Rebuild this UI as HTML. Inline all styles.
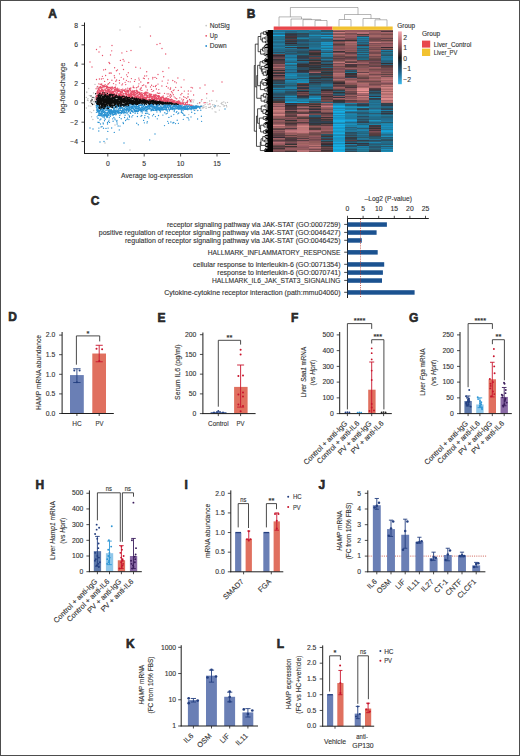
<!DOCTYPE html>
<html><head><meta charset="utf-8"><style>
html,body{margin:0;padding:0;background:#fff;overflow:hidden;}
svg{display:block;}
text{font-family:"Liberation Sans",sans-serif;fill:#333333;stroke:#333333;stroke-width:0.12px;}
</style></head><body>
<svg width="520" height="756" viewBox="0 0 520 756">
<rect x="0" y="0" width="520" height="756" fill="#fff"/>
<path d="M86.3 108.0h0M86.3 97.4h0M86.8 92.5h0M86.7 91.9h0M87.4 100.3h0M87.8 99.1h0M88.0 98.6h0M88.1 100.6h0M88.7 88.5h0M88.8 105.9h0M89.3 95.6h0M90.2 102.5h0M90.1 111.8h0M90.9 106.1h0M91.0 101.1h0M91.5 98.8h0M91.4 102.6h0M91.6 116.7h0M91.6 112.6h0M92.1 100.6h0M92.1 97.3h0M92.9 119.5h0M93.5 93.0h0M93.1 101.9h0M93.8 101.4h0M93.7 110.5h0M94.3 104.0h0M94.5 97.7h0M94.6 99.9h0M95.0 84.4h0M95.2 102.6h0M95.9 96.2h0M95.9 97.7h0M96.5 96.0h0M96.3 99.8h0M97.2 106.0h0M97.1 100.1h0M97.6 88.3h0M97.6 99.7h0M98.3 87.6h0M98.4 98.5h0M98.8 102.2h0M99.0 102.8h0M99.1 106.2h0M99.1 101.5h0M99.6 92.5h0M166.0 104.0h0M166.1 102.8h0M166.8 103.6h0M167.1 98.2h0M167.7 103.7h0M168.4 104.2h0M168.6 100.4h0M169.4 104.0h0M170.0 100.2h0M170.2 96.8h0M170.7 101.9h0M171.3 100.8h0M171.6 101.7h0M174.3 101.5h0M174.9 102.8h0M175.3 104.5h0M175.7 100.9h0M176.3 108.2h0M176.5 104.1h0M178.2 101.2h0M178.9 101.9h0M179.1 107.7h0M179.7 104.4h0M180.2 106.2h0M180.9 101.1h0M181.1 109.1h0M181.9 107.2h0M183.1 108.8h0M183.9 102.7h0M184.5 102.5h0M184.6 107.0h0M185.8 106.4h0M186.5 107.9h0M187.0 106.9h0M187.4 100.5h0M188.0 107.1h0M188.1 96.7h0M188.8 114.6h0M190.1 101.8h0M190.8 108.2h0M191.5 101.9h0M191.9 107.8h0M192.9 106.3h0M193.3 101.9h0M193.9 99.9h0M195.3 108.2h0M195.7 109.9h0M196.2 105.7h0M196.5 105.8h0M197.5 103.5h0M198.1 107.3h0M199.4 102.9h0M199.8 107.5h0M200.3 107.9h0M200.7 105.9h0M201.3 101.0h0M201.6 106.2h0M202.1 107.8h0M203.0 108.1h0M203.2 107.1h0M203.8 105.6h0M204.2 107.1h0M205.1 104.3h0M206.0 106.7h0M206.1 108.4h0M206.6 98.1h0M207.0 102.7h0M208.1 104.5h0M208.5 107.4h0M209.3 107.3h0M209.6 101.0h0M210.3 107.3h0M210.8 106.5h0M211.8 100.5h0M212.2 108.7h0M212.7 104.7h0M213.7 106.6h0M214.2 104.8h0M214.7 107.5h0M215.0 111.8h0M215.7 105.7h0M216.0 112.1h0M216.7 101.0h0M217.9 106.1h0M218.2 105.7h0M219.3 110.1h0M220.0 106.6h0M221.2 103.4h0M222.0 104.3h0M222.1 102.5h0M223.2 104.8h0M223.8 101.9h0M224.0 106.2h0M224.8 105.6h0M225.5 103.0h0M226.4 105.5h0M226.8 106.8h0M227.5 102.4h0M120.0 30.0h0M140.0 27.0h0M115.0 125.0h0M130.0 150.0h0M105.0 143.0h0" stroke="#bdbdbd" stroke-width="1.35" stroke-linecap="round"/><path d="M96.1 98.1h0M96.1 96.5h0M96.1 101.0h0M96.0 99.0h0M96.1 88.7h0M97.0 95.1h0M96.9 93.4h0M96.9 96.7h0M96.7 95.4h0M96.5 79.5h0M97.4 96.4h0M97.2 91.5h0M97.0 97.8h0M97.0 92.4h0M97.3 93.6h0M97.0 87.1h0M97.6 92.5h0M98.0 91.0h0M97.8 90.4h0M97.7 91.9h0M97.8 86.3h0M98.1 93.7h0M98.4 94.0h0M98.2 89.9h0M98.1 94.9h0M98.5 92.4h0M98.1 91.4h0M98.3 88.9h0M98.8 92.5h0M98.6 95.5h0M98.9 95.1h0M99.0 87.9h0M98.5 95.9h0M98.7 88.3h0M98.8 83.8h0M99.1 89.8h0M99.0 93.1h0M99.1 95.7h0M99.3 88.1h0M99.5 92.1h0M99.4 79.0h0M99.3 89.3h0M99.9 87.0h0M99.6 94.3h0M99.9 87.6h0M99.7 90.5h0M99.8 94.0h0M99.8 91.1h0M99.6 87.3h0M100.0 46.8h0M100.4 95.1h0M100.5 90.6h0M100.5 86.5h0M100.4 92.0h0M100.2 93.3h0M100.5 92.4h0M100.2 84.2h0M100.7 87.8h0M101.0 88.5h0M100.7 94.1h0M101.0 93.3h0M100.8 87.6h0M101.1 90.6h0M101.0 87.9h0M101.4 87.4h0M101.4 93.3h0M101.2 94.9h0M101.4 79.0h0M101.4 84.7h0M101.5 89.7h0M101.7 94.4h0M102.0 94.9h0M101.8 91.5h0M101.9 89.1h0M101.7 84.0h0M102.4 93.0h0M102.3 93.4h0M102.1 87.1h0M102.0 90.3h0M102.5 85.3h0M102.4 76.3h0M103.0 86.3h0M102.9 89.1h0M102.9 91.7h0M102.9 93.7h0M103.0 90.2h0M102.8 87.2h0M102.5 55.5h0M103.3 86.7h0M103.3 86.2h0M103.3 93.2h0M103.5 94.9h0M103.3 91.6h0M103.1 78.6h0M103.8 86.5h0M103.9 90.6h0M103.6 93.7h0M103.8 92.9h0M103.6 90.8h0M103.6 69.9h0M104.1 94.4h0M104.2 94.0h0M104.3 85.6h0M104.1 87.1h0M104.0 92.3h0M104.0 85.4h0M104.6 86.6h0M104.8 89.2h0M104.9 86.2h0M104.8 93.9h0M104.7 95.1h0M104.5 92.3h0M104.6 81.4h0M105.1 94.7h0M105.3 94.0h0M105.2 90.8h0M105.3 89.7h0M105.5 69.5h0M105.2 84.6h0M105.8 95.8h0M106.0 86.5h0M105.8 94.9h0M105.8 92.2h0M106.0 92.4h0M105.6 75.5h0M106.3 90.9h0M106.1 90.2h0M106.4 86.7h0M106.2 86.0h0M106.4 87.9h0M106.0 94.6h0M106.2 88.4h0M107.0 91.1h0M106.9 94.4h0M106.9 93.3h0M107.0 95.2h0M107.0 92.2h0M106.7 94.3h0M106.8 85.9h0M107.4 87.6h0M107.4 94.1h0M107.3 92.1h0M107.1 87.7h0M107.3 95.6h0M107.4 86.4h0M107.8 92.1h0M107.7 86.9h0M107.6 89.6h0M107.6 90.9h0M107.8 87.9h0M107.9 84.2h0M107.7 79.5h0M108.2 95.2h0M108.0 89.2h0M108.3 95.0h0M108.4 90.5h0M108.4 94.2h0M108.4 89.4h0M108.7 87.4h0M108.8 92.0h0M109.0 87.7h0M108.8 91.2h0M108.9 93.8h0M108.7 83.6h0M109.3 96.0h0M109.5 91.4h0M109.0 90.5h0M109.4 87.3h0M109.2 89.5h0M109.0 62.5h0M109.2 73.1h0M109.6 90.0h0M109.9 94.3h0M109.9 96.0h0M109.9 93.2h0M109.8 92.7h0M109.7 63.5h0M109.6 82.6h0M110.4 95.3h0M110.3 88.4h0M110.4 91.7h0M110.3 91.8h0M110.4 87.7h0M110.1 73.0h0M111.0 87.1h0M110.9 87.7h0M110.8 92.3h0M110.8 90.3h0M111.0 91.0h0M110.5 54.9h0M110.9 88.8h0M111.3 89.3h0M111.4 96.1h0M111.1 94.7h0M111.5 93.1h0M111.2 93.5h0M111.5 88.0h0M111.4 73.1h0M112.0 92.1h0M112.0 89.7h0M111.6 92.3h0M111.8 94.0h0M111.7 50.8h0M111.9 80.2h0M112.1 91.6h0M112.1 87.8h0M112.3 96.1h0M112.3 93.9h0M112.5 92.5h0M112.2 92.3h0M112.3 87.0h0M112.8 96.7h0M112.9 94.0h0M113.0 91.4h0M112.8 88.0h0M113.0 96.0h0M112.8 88.3h0M113.1 94.9h0M113.1 91.8h0M113.5 92.3h0M113.2 91.2h0M113.5 83.6h0M113.5 92.9h0M113.7 96.4h0M113.9 88.0h0M113.8 92.8h0M114.0 94.4h0M114.1 91.6h0M114.5 93.7h0M114.5 95.5h0M114.3 96.6h0M114.4 89.5h0M114.3 93.8h0M114.3 75.7h0M114.4 87.6h0M114.6 95.1h0M114.5 96.2h0M114.9 89.9h0M114.5 90.9h0M114.9 89.6h0M114.7 77.7h0M114.6 67.7h0M115.1 95.8h0M115.3 91.3h0M115.2 94.6h0M115.3 94.9h0M115.1 95.2h0M115.3 86.9h0M115.7 92.8h0M115.8 89.3h0M115.5 88.0h0M115.7 96.1h0M115.9 84.8h0M115.8 81.2h0M116.1 89.8h0M116.1 90.9h0M116.5 93.1h0M116.1 95.4h0M116.3 88.8h0M116.1 96.8h0M116.4 70.7h0M116.9 97.1h0M116.5 94.2h0M117.0 92.1h0M116.6 97.0h0M116.6 95.1h0M116.6 80.0h0M117.4 88.1h0M117.5 91.7h0M117.2 96.3h0M117.1 92.6h0M117.0 90.4h0M117.2 89.0h0M117.5 69.9h0M117.5 96.7h0M117.9 93.6h0M117.8 91.5h0M117.7 89.7h0M117.8 96.6h0M117.6 97.2h0M117.8 90.7h0M118.2 97.1h0M118.3 96.9h0M118.3 94.0h0M118.2 95.2h0M118.4 91.3h0M118.9 88.9h0M118.8 95.6h0M118.6 95.0h0M118.9 91.0h0M118.9 91.5h0M118.6 90.4h0M119.0 89.6h0M119.4 95.6h0M119.4 95.9h0M119.2 94.8h0M119.1 96.1h0M119.1 94.1h0M119.4 80.4h0M119.5 90.3h0M119.5 96.6h0M120.0 96.5h0M119.7 95.2h0M119.8 93.8h0M119.9 95.5h0M119.5 73.8h0M119.5 83.0h0M120.3 94.0h0M120.2 91.5h0M120.1 92.9h0M120.2 97.4h0M120.0 94.8h0M120.4 60.4h0M120.5 93.5h0M120.6 95.5h0M121.0 94.4h0M120.9 92.7h0M120.6 97.2h0M120.7 91.4h0M121.4 97.4h0M121.3 92.6h0M121.0 89.7h0M121.2 93.9h0M121.1 93.1h0M121.2 77.3h0M121.5 95.4h0M121.6 97.2h0M121.9 91.6h0M121.9 96.0h0M121.6 89.9h0M121.9 52.9h0M121.9 84.9h0M122.2 91.0h0M122.2 96.4h0M122.3 92.1h0M122.0 97.1h0M122.1 94.8h0M122.3 65.2h0M122.7 89.1h0M122.8 95.9h0M122.7 97.3h0M122.6 94.8h0M122.7 93.0h0M122.7 91.0h0M122.6 83.8h0M123.3 95.7h0M123.5 90.1h0M123.5 90.3h0M123.4 96.1h0M123.3 97.4h0M123.1 59.5h0M123.6 96.3h0M123.5 97.0h0M123.7 94.1h0M124.0 95.2h0M123.9 95.7h0M123.6 93.7h0M123.5 69.5h0M123.6 79.0h0M124.2 96.7h0M124.3 96.0h0M124.3 97.5h0M124.4 90.8h0M124.4 90.3h0M124.1 61.1h0M124.9 89.7h0M125.0 90.6h0M124.8 96.1h0M124.8 97.7h0M124.8 89.9h0M124.8 97.1h0M124.7 91.5h0M125.1 96.7h0M125.0 98.0h0M125.4 91.4h0M125.1 93.5h0M125.5 93.2h0M125.1 82.3h0M125.9 94.9h0M125.8 93.9h0M125.8 93.3h0M125.8 92.7h0M125.6 93.8h0M125.7 97.4h0M125.8 88.8h0M125.7 84.6h0M126.0 97.7h0M126.4 93.5h0M126.4 94.9h0M126.3 93.9h0M126.4 80.3h0M126.5 91.0h0M126.7 93.1h0M126.6 96.2h0M126.7 96.7h0M126.8 95.1h0M126.8 96.4h0M126.6 74.8h0M126.8 51.3h0M127.3 90.7h0M127.1 94.7h0M127.2 90.6h0M127.2 97.0h0M127.1 91.7h0M127.1 89.8h0M128.0 91.7h0M127.9 95.0h0M127.7 94.6h0M127.8 97.6h0M127.8 90.7h0M127.7 88.1h0M127.5 76.6h0M128.1 92.2h0M128.4 94.5h0M128.3 93.7h0M128.0 97.2h0M128.3 97.2h0M128.2 93.8h0M128.2 81.6h0M128.3 72.7h0M128.5 95.8h0M128.7 96.5h0M128.6 90.5h0M129.0 91.0h0M128.6 92.1h0M128.9 98.4h0M128.8 62.3h0M129.2 95.0h0M129.3 96.0h0M129.1 97.6h0M129.0 97.8h0M129.4 94.5h0M129.5 95.6h0M129.4 89.4h0M129.4 88.4h0M129.8 97.0h0M130.0 95.6h0M130.0 96.4h0M129.8 94.5h0M129.9 88.8h0M130.5 90.9h0M130.3 90.3h0M130.3 92.8h0M130.1 95.1h0M130.2 93.6h0M130.2 81.8h0M130.9 95.8h0M130.7 98.6h0M130.8 96.8h0M130.9 92.9h0M130.8 94.9h0M130.8 98.2h0M130.8 88.0h0M130.6 89.1h0M131.3 92.4h0M131.0 93.8h0M131.4 96.1h0M131.4 95.7h0M131.4 78.6h0M131.4 91.6h0M132.0 94.0h0M131.9 94.6h0M131.6 92.8h0M131.7 93.6h0M131.6 97.4h0M131.9 96.2h0M131.9 93.1h0M132.5 91.5h0M132.2 92.6h0M132.3 97.0h0M132.1 98.1h0M132.3 98.3h0M132.5 96.1h0M132.2 90.3h0M133.0 96.9h0M132.9 98.6h0M132.6 98.2h0M132.8 94.4h0M132.8 92.4h0M133.3 94.9h0M133.1 98.1h0M133.3 98.8h0M133.4 92.0h0M133.1 92.2h0M133.3 86.1h0M133.1 87.3h0M133.6 93.5h0M133.9 95.4h0M134.0 94.5h0M133.8 93.4h0M133.8 91.7h0M134.0 87.7h0M133.6 91.0h0M134.4 95.5h0M134.3 93.5h0M134.5 92.0h0M134.5 98.5h0M134.3 97.1h0M134.1 93.2h0M134.5 81.4h0M134.3 93.1h0M134.6 98.2h0M134.9 95.8h0M134.8 94.9h0M134.6 98.8h0M134.6 90.7h0M135.1 98.6h0M135.3 96.0h0M135.5 94.2h0M135.2 96.9h0M135.4 97.8h0M135.1 96.6h0M135.2 79.6h0M135.6 96.8h0M135.6 92.4h0M136.0 97.6h0M136.0 90.6h0M135.8 67.2h0M136.0 97.1h0M136.0 96.5h0M136.4 91.6h0M136.0 95.8h0M136.4 97.5h0M136.2 93.1h0M136.4 87.7h0M136.7 94.0h0M136.9 96.2h0M136.9 98.8h0M136.8 91.8h0M136.6 90.1h0M137.4 97.9h0M137.2 97.3h0M137.1 96.4h0M137.0 93.6h0M137.4 95.4h0M137.3 90.8h0M138.0 94.8h0M137.6 99.4h0M137.7 98.8h0M137.7 92.4h0M137.6 93.4h0M137.9 91.6h0M137.8 87.1h0M138.1 96.1h0M138.1 99.0h0M138.5 92.1h0M138.1 92.4h0M138.4 98.2h0M138.5 86.1h0M138.6 97.5h0M138.9 94.7h0M139.0 94.8h0M138.6 98.9h0M138.9 96.8h0M138.8 78.1h0M138.9 83.8h0M139.2 93.2h0M139.0 92.6h0M139.5 94.2h0M139.3 97.5h0M139.2 80.0h0M139.8 93.4h0M139.6 98.4h0M140.0 97.9h0M139.9 97.0h0M139.8 92.2h0M140.0 89.1h0M140.3 98.6h0M140.2 96.1h0M140.2 96.3h0M140.3 94.8h0M140.2 99.4h0M140.4 89.8h0M140.4 68.1h0M141.0 96.0h0M140.9 93.4h0M140.8 95.4h0M140.6 97.9h0M141.0 88.4h0M140.8 82.0h0M141.3 95.2h0M141.2 94.2h0M141.3 96.9h0M141.4 98.5h0M141.4 92.9h0M141.1 92.9h0M141.2 87.3h0M142.0 99.0h0M141.8 96.8h0M142.0 98.3h0M141.8 99.4h0M141.9 90.4h0M142.3 99.1h0M142.4 94.6h0M142.1 92.9h0M142.3 96.8h0M142.5 97.4h0M142.2 94.6h0M142.4 85.6h0M142.6 98.3h0M142.5 96.4h0M142.5 95.5h0M142.8 95.8h0M143.0 97.4h0M143.0 99.6h0M143.4 95.8h0M143.3 97.3h0M143.3 93.3h0M143.4 78.1h0M143.6 97.1h0M143.7 99.6h0M143.8 99.8h0M144.0 99.5h0M143.6 98.0h0M143.7 85.0h0M144.2 98.4h0M144.4 99.9h0M144.4 94.2h0M144.4 93.0h0M144.4 78.6h0M144.6 97.5h0M144.7 95.7h0M144.7 94.6h0M144.9 94.3h0M144.8 99.0h0M144.7 76.0h0M145.0 93.1h0M145.3 98.7h0M145.0 97.9h0M145.3 99.4h0M145.4 93.2h0M145.3 92.2h0M145.7 94.9h0M145.8 99.5h0M145.9 97.2h0M145.9 100.1h0M145.8 86.0h0M146.2 97.7h0M146.4 97.9h0M146.5 93.9h0M146.3 94.3h0M146.5 99.6h0M146.0 92.2h0M146.1 87.1h0M146.6 98.8h0M146.9 96.1h0M146.8 95.4h0M146.7 95.4h0M146.9 93.7h0M146.7 75.8h0M146.7 71.7h0M147.1 96.7h0M147.2 97.5h0M147.1 97.2h0M147.5 95.3h0M147.5 96.2h0M147.3 90.0h0M147.0 92.2h0M148.0 97.3h0M147.7 96.7h0M147.8 96.2h0M147.8 97.2h0M147.9 95.7h0M147.8 82.7h0M147.6 83.1h0M148.3 97.6h0M148.1 100.2h0M148.3 99.8h0M148.1 99.5h0M148.4 99.6h0M148.1 93.0h0M148.9 99.7h0M148.8 100.2h0M148.8 94.9h0M148.5 100.3h0M148.6 82.7h0M148.5 78.8h0M149.5 93.8h0M149.4 96.4h0M149.4 98.9h0M149.3 96.9h0M149.3 94.6h0M149.8 93.9h0M149.6 96.1h0M149.9 94.3h0M149.6 97.4h0M150.5 95.1h0M150.0 97.2h0M150.1 100.4h0M150.2 95.2h0M150.5 86.9h0M150.9 94.2h0M150.7 96.1h0M151.0 100.5h0M150.5 100.2h0M151.0 97.0h0M150.6 96.3h0M151.4 95.9h0M151.1 99.9h0M151.3 100.3h0M151.3 98.6h0M151.3 99.7h0M151.5 89.4h0M151.7 94.3h0M151.8 97.3h0M151.7 96.9h0M151.6 85.2h0M152.1 99.2h0M152.5 100.3h0M152.2 98.2h0M152.5 100.0h0M152.1 96.3h0M152.2 91.3h0M152.7 96.3h0M152.7 99.3h0M152.7 97.8h0M152.6 98.6h0M152.9 77.4h0M152.7 78.8h0M153.2 98.8h0M153.3 96.8h0M153.0 96.8h0M153.4 86.3h0M153.5 94.8h0M154.0 100.7h0M154.0 97.3h0M153.8 99.9h0M153.6 90.7h0M153.6 95.6h0M154.1 99.5h0M154.4 96.0h0M154.3 98.1h0M154.2 96.3h0M154.2 95.1h0M154.8 94.9h0M154.8 97.0h0M155.0 99.6h0M154.5 98.9h0M154.7 95.2h0M155.3 97.2h0M155.3 96.7h0M155.1 96.3h0M155.3 98.4h0M155.0 77.4h0M155.4 86.5h0M155.7 95.9h0M155.8 100.4h0M155.9 94.4h0M156.3 100.2h0M156.3 100.4h0M156.1 98.7h0M156.3 95.4h0M156.4 89.0h0M156.1 85.4h0M156.5 97.4h0M156.6 99.6h0M156.6 97.2h0M156.5 98.1h0M156.6 78.3h0M157.4 100.9h0M157.5 98.5h0M157.2 98.9h0M157.5 96.0h0M157.4 92.9h0M157.6 96.3h0M158.0 99.2h0M157.9 95.6h0M158.0 84.1h0M158.2 98.5h0M158.3 101.1h0M158.4 97.7h0M158.3 95.7h0M158.5 93.4h0M158.0 74.5h0M158.5 98.0h0M158.5 97.2h0M158.9 98.8h0M158.9 95.8h0M158.8 89.6h0M159.3 98.0h0M159.2 96.4h0M159.3 95.9h0M159.8 99.5h0M159.5 99.9h0M159.5 96.4h0M159.8 93.2h0M160.2 101.4h0M160.1 100.1h0M160.2 101.1h0M160.5 101.1h0M160.4 97.5h0M160.6 100.4h0M160.9 99.6h0M160.7 97.8h0M160.6 98.5h0M161.4 98.2h0M161.1 98.7h0M161.1 99.0h0M161.3 101.6h0M161.7 100.2h0M161.7 98.7h0M161.6 97.3h0M161.9 86.0h0M161.8 96.8h0M162.0 99.8h0M162.2 97.7h0M162.0 101.2h0M162.2 100.4h0M162.0 97.9h0M162.2 81.1h0M162.9 101.5h0M162.6 100.8h0M162.7 101.6h0M162.7 97.1h0M162.9 96.6h0M162.9 71.5h0M163.2 97.3h0M163.4 97.6h0M163.5 99.6h0M163.0 97.1h0M163.2 95.8h0M163.6 98.6h0M163.7 97.9h0M163.9 101.1h0M163.7 100.3h0M163.7 76.7h0M164.4 100.0h0M164.4 99.0h0M164.5 93.3h0M164.9 98.5h0M164.6 98.6h0M164.8 101.0h0M164.9 99.3h0M165.5 100.7h0M165.1 101.5h0M165.3 99.2h0M165.7 101.4h0M165.9 99.3h0M165.6 99.9h0M165.7 54.0h0M166.3 100.6h0M166.4 102.2h0M166.0 98.6h0M166.1 97.7h0M166.5 86.4h0M166.7 98.8h0M167.0 98.4h0M166.8 101.3h0M167.2 100.1h0M167.3 100.6h0M167.1 99.3h0M167.1 93.9h0M167.5 101.5h0M167.8 100.7h0M167.5 99.3h0M167.9 96.3h0M167.6 83.1h0M168.1 101.0h0M168.1 98.9h0M168.5 99.8h0M168.2 87.9h0M168.1 80.1h0M168.8 98.7h0M168.8 101.8h0M168.8 101.5h0M168.8 67.9h0M168.8 93.9h0M169.2 102.3h0M169.1 99.6h0M169.7 100.1h0M169.8 99.6h0M169.7 101.8h0M169.8 95.8h0M170.5 99.9h0M170.3 99.4h0M170.3 102.2h0M170.2 89.2h0M170.4 97.3h0M170.9 102.8h0M170.9 100.1h0M170.8 100.3h0M170.6 87.9h0M170.6 94.5h0M171.1 101.3h0M171.3 102.9h0M171.5 96.0h0M171.5 91.7h0M171.8 99.8h0M171.6 101.4h0M171.7 102.1h0M171.6 99.2h0M172.0 102.7h0M172.4 102.8h0M172.3 102.2h0M172.5 92.9h0M172.7 100.0h0M172.8 101.2h0M173.0 102.5h0M172.8 80.5h0M173.4 101.2h0M173.1 100.7h0M173.1 102.2h0M173.3 94.7h0M173.2 90.6h0M173.7 102.6h0M173.9 100.7h0M173.8 100.9h0M174.2 102.1h0M174.2 101.4h0M174.1 102.8h0M174.1 89.8h0M174.1 96.8h0M174.9 100.9h0M174.7 100.8h0M174.8 81.7h0M175.0 102.8h0M175.5 102.4h0M175.3 98.0h0M176.0 103.5h0M175.7 103.1h0M175.7 87.3h0M176.5 102.2h0M176.1 102.2h0M176.4 82.8h0M176.9 101.3h0M176.7 102.7h0M176.7 98.7h0M177.4 102.0h0M177.4 101.5h0M177.6 103.4h0M177.7 103.0h0M177.9 78.0h0M178.3 102.2h0M178.2 103.8h0M178.3 90.4h0M178.2 102.1h0M178.6 103.5h0M178.8 102.6h0M178.6 100.8h0M179.5 103.4h0M179.5 103.2h0M179.4 101.2h0M179.7 102.5h0M179.8 97.8h0M180.3 104.3h0M180.5 102.7h0M180.1 102.5h0M180.6 103.7h0M180.8 102.8h0M180.9 94.7h0M181.5 102.9h0M181.1 87.1h0M181.2 87.3h0M181.9 104.4h0M181.8 99.1h0M181.9 93.4h0M182.0 103.6h0M182.4 103.3h0M182.4 103.1h0M182.7 101.0h0M183.4 103.5h0M183.4 103.9h0M183.1 102.4h0M183.5 99.7h0M183.8 104.2h0M183.7 96.7h0M184.0 79.8h0M184.3 91.1h0M184.5 104.9h0M185.4 104.6h0M185.1 97.6h0M185.8 104.4h0M185.5 103.3h0M186.0 104.1h0M186.1 102.4h0M186.9 104.9h0M186.6 98.3h0M187.2 102.0h0M187.4 102.7h0M187.8 104.3h0M187.8 101.0h0M187.9 97.0h0M188.2 94.0h0M188.3 91.0h0M189.0 105.0h0M189.4 104.7h0M189.9 104.8h0M189.5 99.5h0M190.3 105.2h0M190.4 100.5h0M190.7 101.5h0M190.9 91.1h0M191.4 105.1h0M191.1 87.3h0M191.7 105.3h0M191.8 99.9h0M192.1 105.4h0M192.5 87.9h0M193.6 95.0h0M199.8 102.7h0M201.9 99.6h0M204.0 102.8h0M205.2 102.6h0M206.8 93.7h0M209.9 103.9h0M96.5 49.5h0M99.0 52.0h0M112.0 45.5h0M150.5 36.0h0M157.0 44.5h0M160.0 43.5h0M162.0 48.5h0M131.0 50.5h0M90.0 62.0h0M92.0 67.0h0M205.0 85.0h0M200.0 88.0h0M213.0 91.0h0M222.0 82.0h0" stroke="#e8506a" stroke-width="1.35" stroke-linecap="round"/><path d="M96.4 103.7h0M96.3 106.9h0M96.3 105.5h0M96.0 102.2h0M96.5 101.2h0M96.4 112.3h0M96.7 108.0h0M96.8 105.5h0M96.8 107.4h0M96.6 110.0h0M97.0 111.9h0M97.1 110.5h0M97.2 109.2h0M97.3 109.2h0M97.5 110.4h0M97.1 116.8h0M97.7 111.2h0M97.9 104.9h0M97.9 105.3h0M97.7 106.4h0M97.6 111.3h0M97.8 106.2h0M98.0 122.2h0M98.0 118.2h0M98.2 108.6h0M98.1 111.1h0M98.1 112.0h0M98.1 110.2h0M98.3 107.4h0M98.2 109.6h0M98.1 115.4h0M98.8 110.4h0M98.9 105.8h0M98.6 114.0h0M98.6 110.2h0M98.8 107.8h0M98.9 128.1h0M98.8 131.0h0M99.0 113.9h0M99.1 115.3h0M99.1 111.3h0M99.3 111.5h0M99.5 106.7h0M99.3 110.8h0M99.2 112.4h0M99.1 122.5h0M99.5 115.5h0M99.6 107.0h0M99.8 111.3h0M99.8 107.6h0M99.8 113.7h0M99.7 113.3h0M99.9 119.9h0M100.2 111.0h0M100.4 113.1h0M100.1 113.1h0M100.4 115.0h0M100.0 110.1h0M100.5 124.0h0M100.6 115.4h0M100.7 107.5h0M101.0 113.5h0M100.6 107.0h0M100.6 109.1h0M100.9 109.8h0M100.6 113.6h0M100.9 119.0h0M101.5 112.0h0M101.4 108.1h0M101.3 109.6h0M101.1 113.1h0M101.2 116.1h0M101.0 110.8h0M101.1 126.9h0M101.7 107.0h0M102.0 115.1h0M101.8 115.9h0M101.5 114.2h0M101.7 111.3h0M101.6 114.6h0M101.8 111.8h0M102.3 111.7h0M102.2 109.6h0M102.2 108.9h0M102.1 113.7h0M102.1 113.2h0M102.1 126.6h0M102.6 110.1h0M102.5 111.0h0M102.9 116.6h0M102.7 111.8h0M102.5 113.7h0M102.9 107.2h0M103.4 110.1h0M103.1 108.0h0M103.1 115.2h0M103.3 110.4h0M103.4 109.3h0M103.0 117.3h0M103.4 112.4h0M103.1 123.0h0M103.3 123.9h0M103.9 114.5h0M103.5 115.4h0M103.7 111.7h0M104.0 109.6h0M103.7 107.2h0M104.0 115.2h0M103.5 128.2h0M104.1 109.1h0M104.5 111.5h0M104.1 111.1h0M104.2 116.6h0M104.4 115.1h0M104.4 117.9h0M104.7 108.7h0M104.6 112.2h0M104.6 114.0h0M104.7 107.9h0M104.9 113.3h0M104.9 113.0h0M104.5 120.7h0M105.2 115.9h0M105.3 114.4h0M105.5 114.1h0M105.1 115.4h0M105.4 110.1h0M105.2 119.2h0M105.6 107.0h0M106.0 114.4h0M105.7 108.1h0M105.8 106.7h0M105.7 112.1h0M105.9 110.3h0M105.6 115.4h0M106.0 128.4h0M106.0 112.3h0M106.5 109.1h0M106.3 106.3h0M106.4 115.0h0M106.7 116.1h0M106.7 108.7h0M106.6 116.4h0M106.7 113.3h0M106.9 113.1h0M106.8 115.3h0M106.9 117.5h0M107.4 115.1h0M107.5 112.4h0M107.1 114.6h0M107.1 110.6h0M107.2 106.7h0M107.1 107.8h0M107.5 124.0h0M107.5 117.0h0M107.7 107.0h0M107.7 109.6h0M107.6 115.8h0M107.8 113.6h0M107.7 109.2h0M107.9 107.9h0M107.8 131.4h0M107.5 122.5h0M108.4 115.6h0M108.2 106.3h0M108.3 112.0h0M108.4 107.6h0M108.3 109.7h0M108.1 128.1h0M108.7 110.2h0M108.5 111.1h0M108.5 114.6h0M108.8 111.9h0M108.6 110.6h0M108.5 121.3h0M109.0 120.1h0M109.2 113.7h0M109.2 111.0h0M109.2 107.5h0M109.4 107.5h0M109.3 113.0h0M109.5 122.4h0M109.2 117.7h0M109.6 113.6h0M109.9 109.5h0M109.8 106.3h0M109.8 112.0h0M109.6 109.8h0M109.9 115.3h0M110.2 110.9h0M110.5 113.3h0M110.3 111.3h0M110.1 109.8h0M110.1 115.1h0M110.3 115.1h0M110.3 116.4h0M110.9 106.1h0M110.8 112.9h0M110.9 111.9h0M110.5 113.9h0M110.9 106.6h0M111.4 109.6h0M111.1 110.0h0M111.4 111.9h0M111.4 110.9h0M111.2 105.7h0M111.6 110.7h0M112.0 114.7h0M111.9 105.9h0M111.5 110.1h0M111.6 107.6h0M111.6 113.0h0M111.7 128.0h0M112.2 112.0h0M112.2 106.7h0M112.3 110.7h0M112.1 114.8h0M112.0 110.4h0M112.1 113.4h0M113.0 113.0h0M112.6 111.8h0M112.5 112.7h0M112.9 113.8h0M113.0 111.4h0M112.7 118.8h0M113.2 106.9h0M113.4 112.2h0M113.3 111.1h0M113.5 114.3h0M113.3 108.3h0M113.1 115.2h0M113.1 121.2h0M113.7 110.6h0M113.9 109.7h0M113.9 108.3h0M113.7 112.3h0M113.7 109.3h0M113.7 110.1h0M113.9 117.5h0M114.3 111.0h0M114.1 114.4h0M114.2 112.8h0M114.5 112.3h0M114.3 108.4h0M114.2 110.7h0M114.3 132.4h0M114.7 110.1h0M114.9 109.8h0M114.8 110.9h0M114.6 114.2h0M114.8 107.8h0M115.0 107.0h0M114.9 118.8h0M115.2 113.0h0M115.2 110.3h0M115.4 113.3h0M115.3 111.3h0M115.3 111.8h0M115.2 119.8h0M115.7 107.2h0M115.8 113.4h0M115.7 107.6h0M115.7 110.6h0M115.8 110.8h0M115.6 105.2h0M115.9 114.7h0M116.3 113.9h0M116.2 111.9h0M116.2 105.8h0M116.3 109.1h0M116.0 105.7h0M116.8 107.0h0M116.8 110.7h0M116.8 105.5h0M116.7 107.3h0M116.7 121.1h0M117.0 120.3h0M117.2 107.9h0M117.1 111.6h0M117.1 112.8h0M117.0 104.8h0M117.0 122.1h0M117.1 124.0h0M117.8 106.5h0M117.7 112.6h0M117.9 111.9h0M117.8 110.5h0M117.8 112.9h0M118.1 109.8h0M118.4 106.6h0M118.1 111.4h0M118.3 109.5h0M118.5 105.6h0M118.1 126.0h0M118.7 112.5h0M118.7 111.1h0M118.6 108.8h0M118.8 113.6h0M118.9 106.5h0M118.8 110.7h0M119.1 108.4h0M119.3 112.2h0M119.2 105.0h0M119.2 105.3h0M119.5 117.3h0M119.3 129.9h0M119.5 112.8h0M119.9 107.8h0M119.8 110.6h0M119.8 109.1h0M119.7 107.2h0M119.8 107.7h0M119.8 115.4h0M120.2 105.2h0M120.2 108.7h0M120.3 106.5h0M120.2 112.4h0M120.1 106.9h0M120.4 104.9h0M120.0 126.1h0M120.7 110.1h0M120.6 110.3h0M120.8 104.9h0M120.7 108.3h0M120.6 105.4h0M120.7 113.8h0M121.0 112.6h0M121.4 107.3h0M121.4 112.6h0M121.0 107.7h0M121.4 111.3h0M121.5 105.5h0M121.2 118.7h0M121.8 111.7h0M121.8 107.7h0M121.7 110.9h0M121.6 113.2h0M122.4 110.5h0M122.2 110.5h0M122.0 108.2h0M122.0 110.9h0M122.5 111.0h0M122.7 104.8h0M122.6 112.6h0M122.8 109.5h0M122.8 107.5h0M122.7 105.5h0M123.3 111.2h0M123.4 104.5h0M123.4 105.4h0M123.2 111.9h0M123.0 109.1h0M123.0 111.1h0M123.1 122.3h0M123.4 123.5h0M123.9 110.9h0M124.0 106.4h0M124.0 112.6h0M123.5 109.8h0M124.0 108.4h0M123.9 113.5h0M124.1 104.5h0M124.4 105.6h0M124.2 110.2h0M124.3 106.0h0M124.1 106.2h0M124.3 110.2h0M124.9 111.8h0M124.7 112.0h0M124.5 108.9h0M124.8 111.6h0M124.6 108.6h0M124.6 117.5h0M125.3 112.1h0M125.3 112.7h0M125.3 107.3h0M125.1 107.7h0M125.1 115.2h0M125.9 106.5h0M125.6 105.5h0M125.5 106.6h0M125.6 109.5h0M125.8 110.4h0M125.6 120.5h0M126.5 108.7h0M126.1 109.1h0M126.2 109.3h0M126.4 106.3h0M126.6 107.8h0M126.7 110.8h0M126.6 110.6h0M126.6 111.9h0M126.8 108.4h0M127.0 119.4h0M127.3 109.2h0M127.3 106.9h0M127.4 109.8h0M127.2 112.7h0M127.1 109.2h0M127.0 113.6h0M127.8 108.9h0M127.9 106.1h0M127.8 107.0h0M127.8 108.5h0M127.6 118.1h0M128.5 111.8h0M128.4 111.5h0M128.3 110.5h0M128.1 110.3h0M128.3 109.9h0M128.2 114.8h0M128.9 111.4h0M128.8 106.3h0M128.7 105.4h0M128.9 109.0h0M128.8 107.3h0M128.6 105.9h0M128.9 119.6h0M129.5 106.9h0M129.1 110.3h0M129.2 108.1h0M129.2 106.1h0M129.4 116.0h0M129.5 117.0h0M129.8 108.9h0M129.5 110.2h0M129.6 104.9h0M129.6 107.3h0M129.8 104.6h0M130.4 107.1h0M130.0 108.0h0M130.0 105.0h0M130.4 112.1h0M130.5 109.2h0M130.2 113.0h0M130.9 106.3h0M130.9 109.7h0M130.6 109.9h0M130.6 113.4h0M131.1 104.2h0M131.5 107.3h0M131.1 104.6h0M131.4 110.5h0M131.0 106.9h0M131.5 111.3h0M131.9 110.6h0M131.5 110.8h0M131.7 107.0h0M131.9 107.1h0M131.5 106.3h0M131.5 108.4h0M131.8 116.9h0M132.1 111.3h0M132.5 104.2h0M132.4 107.8h0M132.5 108.3h0M132.2 105.1h0M132.0 109.8h0M132.8 107.6h0M132.5 110.9h0M132.8 111.7h0M132.7 106.2h0M132.8 104.2h0M132.8 115.6h0M133.0 106.5h0M133.3 104.8h0M133.1 111.8h0M133.3 111.8h0M133.1 112.4h0M133.7 108.5h0M133.8 110.1h0M133.6 104.0h0M133.7 109.4h0M133.7 109.8h0M133.8 105.3h0M134.5 110.2h0M134.1 105.2h0M134.3 106.6h0M134.1 107.1h0M134.3 105.0h0M134.8 104.8h0M134.8 111.6h0M134.6 111.3h0M134.7 109.3h0M134.8 110.9h0M135.0 109.3h0M135.2 110.6h0M135.1 109.0h0M135.4 107.7h0M135.1 106.5h0M135.1 107.2h0M135.1 113.2h0M135.5 106.2h0M135.7 108.7h0M136.0 110.9h0M135.6 110.6h0M135.8 111.6h0M135.6 104.4h0M136.5 107.6h0M136.4 106.4h0M136.5 104.8h0M136.1 108.6h0M136.4 110.5h0M136.4 105.3h0M136.9 108.3h0M137.0 111.6h0M137.0 110.7h0M136.9 109.9h0M136.7 123.2h0M137.3 108.7h0M137.0 108.0h0M137.1 106.5h0M137.1 109.1h0M137.4 116.5h0M137.7 104.1h0M137.7 111.4h0M138.0 106.5h0M137.8 108.8h0M137.8 108.1h0M137.6 113.2h0M138.4 111.0h0M138.4 106.8h0M138.4 111.3h0M138.4 110.1h0M138.3 124.7h0M138.8 108.2h0M138.9 110.5h0M138.5 105.4h0M138.9 109.5h0M138.9 105.7h0M139.0 110.1h0M139.2 104.0h0M139.4 107.2h0M139.8 109.3h0M139.8 105.5h0M139.8 107.5h0M139.6 109.8h0M140.3 108.8h0M140.4 104.9h0M140.1 108.5h0M140.3 110.4h0M140.7 108.6h0M140.9 110.6h0M141.0 105.5h0M140.7 109.6h0M141.0 116.2h0M141.3 105.5h0M141.3 108.2h0M141.4 109.8h0M141.4 109.3h0M141.0 111.7h0M141.7 111.0h0M141.6 104.1h0M141.8 106.9h0M141.7 107.1h0M141.7 107.7h0M141.8 115.4h0M142.4 107.9h0M142.2 109.6h0M142.3 109.3h0M142.4 104.9h0M142.4 110.1h0M142.2 111.3h0M142.3 112.9h0M142.9 109.5h0M142.9 106.8h0M142.6 105.3h0M142.8 108.4h0M143.2 107.9h0M143.5 106.4h0M143.0 108.8h0M143.5 110.6h0M143.9 104.3h0M143.6 109.1h0M143.6 107.9h0M143.6 120.4h0M144.1 105.2h0M144.3 109.4h0M144.3 104.0h0M144.4 105.5h0M144.0 108.1h0M144.4 122.8h0M144.5 108.6h0M145.0 110.7h0M144.6 109.0h0M144.6 107.7h0M144.9 115.6h0M144.7 117.7h0M145.2 106.2h0M145.5 107.3h0M145.2 108.1h0M145.5 113.3h0M145.6 106.3h0M145.9 107.3h0M145.9 110.9h0M145.8 109.1h0M145.6 110.4h0M146.0 113.5h0M146.1 110.2h0M146.1 104.3h0M146.4 106.5h0M146.5 109.5h0M146.2 113.2h0M146.7 110.6h0M146.8 107.9h0M146.6 110.0h0M146.8 109.1h0M147.0 122.9h0M147.4 107.5h0M147.0 109.8h0M147.1 106.4h0M147.3 121.6h0M147.0 111.2h0M147.9 105.6h0M147.6 109.3h0M148.0 106.2h0M147.8 113.2h0M147.9 116.6h0M148.3 108.1h0M148.1 105.1h0M148.1 108.6h0M148.1 108.8h0M148.6 106.5h0M148.7 105.7h0M149.0 104.3h0M148.8 105.7h0M149.0 106.7h0M148.8 117.9h0M149.4 108.6h0M149.1 106.1h0M149.1 107.2h0M149.1 108.9h0M149.1 114.4h0M149.6 104.9h0M150.0 106.7h0M149.7 105.3h0M149.5 107.9h0M149.7 139.9h0M150.0 109.0h0M150.1 104.0h0M150.5 108.7h0M150.3 104.9h0M150.7 106.8h0M150.9 106.1h0M151.0 110.7h0M150.8 105.6h0M150.7 105.3h0M151.4 105.5h0M151.1 104.3h0M151.0 108.9h0M151.4 109.7h0M151.4 105.8h0M151.9 109.9h0M151.5 106.7h0M151.9 110.5h0M151.5 104.0h0M152.3 108.9h0M152.0 108.9h0M152.1 106.3h0M152.2 107.5h0M152.1 104.9h0M152.5 115.8h0M152.9 106.3h0M152.7 105.0h0M152.9 104.4h0M153.0 109.1h0M152.9 105.5h0M153.3 110.4h0M153.1 109.5h0M153.4 107.8h0M153.5 106.7h0M153.6 110.2h0M153.9 105.8h0M153.6 114.5h0M154.1 110.4h0M154.3 106.5h0M154.2 108.6h0M154.2 106.9h0M154.0 110.1h0M155.0 104.5h0M154.6 107.7h0M154.8 107.9h0M154.9 106.9h0M155.0 107.3h0M155.5 109.9h0M155.3 108.4h0M155.3 109.3h0M155.4 116.6h0M155.6 110.3h0M156.0 105.9h0M155.9 108.1h0M155.8 110.4h0M156.1 106.4h0M156.5 109.4h0M156.3 108.0h0M156.3 110.3h0M156.1 107.2h0M156.9 106.3h0M156.7 104.5h0M156.6 107.5h0M156.7 105.3h0M156.5 104.1h0M156.9 111.9h0M157.2 109.8h0M157.3 108.7h0M157.1 107.9h0M157.1 106.1h0M157.0 110.3h0M157.3 118.8h0M157.5 109.8h0M157.9 105.3h0M157.7 105.4h0M157.9 109.2h0M157.7 106.9h0M158.0 104.4h0M158.2 108.5h0M158.2 108.2h0M158.4 105.6h0M158.5 115.5h0M158.8 107.5h0M158.7 107.2h0M158.8 109.0h0M159.0 110.2h0M158.6 109.2h0M159.3 107.5h0M159.3 104.6h0M159.2 108.6h0M159.9 109.1h0M159.6 109.3h0M159.5 110.2h0M159.6 104.1h0M160.0 105.5h0M160.5 106.7h0M160.2 109.8h0M160.0 108.0h0M160.4 109.7h0M160.2 111.1h0M160.3 111.9h0M160.9 108.3h0M160.8 106.7h0M160.6 108.9h0M161.4 107.3h0M161.0 108.2h0M161.5 107.8h0M161.3 109.7h0M161.9 104.5h0M161.6 109.1h0M161.5 107.1h0M161.8 108.4h0M162.4 108.7h0M162.4 108.0h0M162.1 105.7h0M162.5 107.5h0M162.1 110.0h0M162.9 104.4h0M162.9 109.0h0M162.8 108.4h0M162.9 107.4h0M162.9 115.1h0M163.3 107.8h0M163.3 107.5h0M163.2 107.1h0M163.3 109.9h0M163.8 107.1h0M163.6 104.8h0M163.8 109.4h0M163.9 106.4h0M163.7 106.2h0M164.4 105.8h0M164.4 107.7h0M165.0 104.4h0M164.7 104.6h0M164.8 108.9h0M165.0 105.7h0M164.8 112.7h0M164.5 125.6h0M165.4 106.4h0M165.5 106.9h0M165.1 109.6h0M165.2 106.7h0M165.6 109.2h0M165.6 106.1h0M165.8 106.8h0M165.7 107.7h0M165.6 105.1h0M166.1 109.9h0M166.0 105.1h0M166.4 109.7h0M166.1 113.9h0M167.0 106.3h0M166.8 107.4h0M166.7 104.9h0M166.6 108.2h0M167.1 109.6h0M167.4 107.1h0M167.0 106.1h0M167.4 105.8h0M167.2 110.7h0M167.2 113.3h0M167.9 105.5h0M167.8 106.2h0M167.8 104.0h0M167.7 121.3h0M167.7 111.8h0M168.5 107.5h0M168.3 106.8h0M168.5 105.3h0M169.0 109.3h0M168.6 109.0h0M168.6 108.0h0M168.5 123.2h0M168.9 117.4h0M169.4 104.5h0M169.2 105.1h0M169.3 105.2h0M169.4 109.7h0M169.4 110.7h0M169.8 105.0h0M169.5 106.3h0M169.5 109.8h0M170.0 107.0h0M170.2 108.2h0M170.4 105.1h0M170.1 105.7h0M170.8 105.9h0M170.5 105.3h0M170.8 107.9h0M170.5 109.3h0M170.9 122.0h0M171.1 108.8h0M171.1 107.0h0M171.2 116.2h0M171.7 107.6h0M171.9 108.8h0M172.0 109.4h0M171.8 105.1h0M172.4 108.4h0M172.1 108.0h0M172.1 104.5h0M172.6 106.8h0M172.9 106.7h0M172.8 108.3h0M172.7 109.5h0M172.9 123.0h0M173.5 105.6h0M173.1 107.7h0M173.0 105.9h0M173.6 108.1h0M173.9 106.2h0M173.9 104.7h0M173.8 108.9h0M173.8 122.5h0M173.8 114.6h0M174.2 105.6h0M174.5 106.2h0M174.3 105.2h0M174.2 111.6h0M174.3 110.2h0M174.9 105.2h0M174.7 108.9h0M174.9 108.1h0M174.9 107.0h0M175.1 104.6h0M175.2 107.5h0M175.1 108.3h0M175.5 104.9h0M175.6 105.3h0M175.5 106.6h0M175.9 104.9h0M175.9 109.0h0M175.5 123.6h0M176.3 105.2h0M176.4 108.1h0M176.3 105.5h0M176.2 105.3h0M176.3 112.3h0M176.6 106.7h0M176.8 105.4h0M176.9 111.6h0M177.4 106.2h0M177.3 108.7h0M177.2 108.6h0M177.2 108.1h0M177.2 120.2h0M177.6 107.1h0M177.7 107.4h0M177.6 108.0h0M177.9 108.0h0M177.8 113.8h0M178.3 104.7h0M178.1 108.6h0M178.5 105.6h0M178.4 123.3h0M178.9 105.2h0M178.7 107.2h0M178.7 109.3h0M178.6 106.5h0M178.7 113.0h0M179.0 108.8h0M179.2 108.2h0M179.5 105.9h0M179.9 105.4h0M179.9 107.4h0M179.9 109.1h0M179.7 107.0h0M180.2 108.7h0M180.1 106.7h0M180.1 108.2h0M180.0 109.3h0M180.8 105.9h0M180.7 105.9h0M180.7 106.9h0M181.2 108.7h0M181.4 109.2h0M181.0 106.8h0M181.3 107.9h0M181.3 112.2h0M181.4 110.7h0M181.6 105.8h0M181.6 107.3h0M181.7 108.6h0M181.5 106.7h0M181.6 111.0h0M182.3 105.1h0M182.3 107.8h0M182.2 107.2h0M182.4 107.2h0M182.2 112.8h0M182.6 109.1h0M182.9 107.5h0M182.9 109.4h0M182.9 113.4h0M183.4 106.6h0M183.5 108.9h0M183.3 107.7h0M183.1 110.6h0M183.3 119.3h0M183.9 108.8h0M183.8 108.1h0M183.8 106.3h0M183.6 108.1h0M183.7 115.0h0M184.0 108.3h0M184.0 107.0h0M184.5 109.2h0M184.3 108.3h0M184.8 106.1h0M184.9 108.4h0M184.8 107.2h0M184.8 115.2h0M185.3 109.2h0M185.2 108.9h0M185.4 105.9h0M185.5 107.6h0M185.9 106.2h0M186.2 108.3h0M186.2 109.2h0M186.6 108.5h0M186.8 105.5h0M186.8 107.8h0M187.2 105.9h0M187.2 108.4h0M187.3 106.4h0M187.1 117.6h0M187.2 109.5h0M187.5 107.3h0M187.8 106.7h0M188.0 108.6h0M188.4 108.6h0M188.4 106.4h0M188.4 118.1h0M188.1 109.6h0M188.6 106.1h0M188.8 108.4h0M189.0 105.3h0M188.9 119.9h0M189.4 107.1h0M189.4 108.6h0M189.4 107.8h0M189.9 106.7h0M189.7 109.0h0M189.6 107.5h0M190.4 106.5h0M190.7 108.1h0M190.5 108.8h0M190.9 108.9h0M191.0 116.9h0M191.5 108.6h0M191.4 107.1h0M191.3 106.4h0M191.2 109.7h0M191.9 107.3h0M191.6 107.5h0M191.7 112.2h0M192.2 106.9h0M192.3 108.7h0M192.2 106.5h0M192.5 106.8h0M192.9 107.2h0M193.3 106.0h0M193.4 106.6h0M193.2 108.5h0M193.7 107.7h0M193.5 108.7h0M193.9 109.0h0M194.4 106.7h0M194.4 108.5h0M194.2 106.1h0M194.3 110.4h0M194.5 108.2h0M194.7 107.4h0M194.9 108.0h0M194.8 113.5h0M195.4 107.3h0M195.3 108.4h0M195.3 106.9h0M195.7 107.9h0M195.6 105.9h0M196.1 106.3h0M196.5 107.1h0M196.6 107.6h0M196.7 105.8h0M196.6 108.5h0M197.2 106.8h0M197.9 107.3h0M197.7 106.2h0M197.6 119.0h0M197.8 110.5h0M198.2 106.9h0M198.6 106.4h0M198.9 106.3h0M199.2 106.8h0M199.5 107.0h0M199.8 108.2h0M200.2 106.7h0M200.6 106.5h0M200.8 110.2h0M201.1 106.3h0M201.4 116.2h0M201.9 106.1h0M201.6 121.3h0M100.0 142.0h0M104.0 141.5h0M107.0 139.0h0M124.0 143.0h0M90.0 128.0h0M93.0 129.0h0M155.0 134.0h0M225.0 109.0h0M215.0 106.0h0" stroke="#2a92d2" stroke-width="1.35" stroke-linecap="round"/><path d="M91.0 100.9h0M91.0 95.9h0M91.8 103.6h0M92.1 99.7h0M92.7 104.5h0M93.0 97.5h0M95.4 101.7h0M95.6 93.7h0M96.9 97.8h0M96.7 101.9h0M96.7 103.5h0M96.9 99.2h0M96.8 102.3h0M96.7 99.5h0M96.5 99.2h0M97.4 102.9h0M97.2 104.3h0M97.3 99.0h0M97.2 100.6h0M97.4 101.9h0M97.5 102.7h0M97.1 98.6h0M97.1 102.0h0M97.1 102.8h0M97.8 103.1h0M97.7 98.2h0M97.9 98.5h0M98.0 101.8h0M97.9 100.5h0M97.8 102.7h0M97.9 98.9h0M97.8 103.4h0M97.6 100.1h0M97.9 95.3h0M98.4 100.2h0M98.4 102.5h0M98.1 97.6h0M98.3 100.5h0M98.5 100.9h0M98.4 98.4h0M98.0 97.0h0M98.5 95.4h0M98.1 104.4h0M98.4 104.2h0M98.7 95.0h0M99.0 107.2h0M98.6 102.2h0M98.9 100.0h0M98.9 100.9h0M98.7 101.4h0M98.8 99.5h0M98.8 103.0h0M98.8 102.5h0M98.9 100.7h0M98.6 96.4h0M98.8 101.7h0M99.4 98.7h0M99.2 102.0h0M99.4 95.4h0M99.4 104.5h0M99.4 97.7h0M99.0 96.8h0M99.2 103.8h0M99.3 101.1h0M99.5 99.4h0M99.3 104.9h0M99.3 93.8h0M99.4 108.2h0M99.9 95.7h0M99.5 105.4h0M99.5 108.5h0M100.0 100.4h0M100.0 97.7h0M99.6 102.6h0M99.9 93.5h0M99.7 99.9h0M99.8 106.9h0M99.8 98.6h0M99.7 101.7h0M100.0 101.7h0M100.1 96.9h0M100.3 107.1h0M100.3 104.0h0M100.4 100.8h0M100.2 104.1h0M100.0 99.3h0M100.0 102.0h0M100.3 100.0h0M100.1 95.9h0M100.4 101.5h0M100.3 103.1h0M100.3 99.2h0M100.1 106.1h0M100.2 103.5h0M100.5 97.3h0M100.8 95.9h0M100.9 99.6h0M100.8 102.2h0M100.6 95.9h0M100.9 101.4h0M100.7 96.8h0M100.7 108.8h0M100.9 95.6h0M100.9 104.5h0M100.9 103.3h0M101.0 94.8h0M100.9 98.3h0M101.2 97.6h0M101.2 94.6h0M101.1 99.0h0M101.2 107.1h0M101.3 95.8h0M101.1 105.0h0M101.0 99.9h0M101.3 98.9h0M101.5 98.1h0M101.3 100.7h0M101.2 101.0h0M101.3 102.7h0M101.1 102.8h0M101.4 103.7h0M101.1 100.5h0M102.0 97.7h0M101.9 103.6h0M101.9 100.5h0M101.7 101.4h0M101.5 105.8h0M101.6 107.7h0M101.8 100.1h0M101.6 104.5h0M101.8 99.0h0M101.6 104.2h0M101.7 102.9h0M102.0 106.8h0M101.7 95.4h0M101.9 98.7h0M101.8 102.1h0M102.4 96.5h0M102.2 104.8h0M102.3 98.3h0M102.5 104.7h0M102.3 105.6h0M102.1 99.5h0M102.5 94.1h0M102.2 95.9h0M102.5 104.2h0M102.3 106.3h0M102.3 107.0h0M102.5 99.9h0M102.1 103.1h0M102.7 105.8h0M102.7 99.7h0M102.9 97.0h0M102.9 92.6h0M102.9 102.1h0M102.8 97.7h0M103.0 103.1h0M103.0 100.3h0M102.7 96.1h0M102.5 97.3h0M102.8 100.9h0M102.7 100.6h0M103.1 105.1h0M103.1 107.8h0M103.4 97.4h0M103.1 98.5h0M103.4 104.3h0M103.3 103.4h0M103.4 100.2h0M103.4 98.0h0M103.4 108.2h0M103.2 103.3h0M103.4 102.2h0M103.3 103.2h0M103.8 97.6h0M103.8 95.8h0M103.8 104.1h0M104.0 96.5h0M103.6 103.9h0M103.8 106.5h0M103.9 101.4h0M103.9 104.8h0M103.7 101.7h0M103.6 98.5h0M103.8 99.0h0M103.9 100.0h0M103.6 96.4h0M103.9 98.4h0M104.2 108.4h0M104.0 104.5h0M104.4 107.0h0M104.1 100.9h0M104.2 105.5h0M104.5 99.6h0M104.3 100.4h0M104.3 104.0h0M104.4 102.2h0M104.2 94.8h0M104.2 97.0h0M104.4 102.9h0M104.1 98.1h0M104.5 101.5h0M104.7 96.8h0M104.6 101.1h0M104.8 102.0h0M104.8 101.6h0M104.6 104.6h0M104.9 105.1h0M104.6 100.0h0M104.9 97.5h0M104.8 101.2h0M104.8 93.0h0M105.2 100.0h0M105.3 101.7h0M105.1 98.0h0M105.3 96.8h0M105.1 107.0h0M105.3 99.1h0M105.3 104.1h0M105.5 100.1h0M105.2 96.2h0M105.4 98.6h0M105.4 102.4h0M105.0 95.4h0M105.1 106.1h0M105.5 100.9h0M105.6 102.8h0M105.5 104.7h0M105.9 102.4h0M105.7 95.4h0M105.5 105.6h0M105.6 95.9h0M105.7 94.9h0M105.9 100.7h0M105.7 106.4h0M105.9 101.4h0M105.8 94.5h0M105.8 96.3h0M105.9 103.6h0M105.8 99.3h0M106.3 97.0h0M106.4 104.3h0M106.5 102.7h0M106.1 101.0h0M106.2 104.9h0M106.1 105.3h0M106.3 101.5h0M106.4 102.1h0M106.4 103.3h0M106.2 95.8h0M106.0 104.1h0M107.0 102.5h0M106.7 100.9h0M107.0 100.3h0M106.5 98.6h0M106.7 98.9h0M106.7 99.9h0M106.7 97.7h0M106.8 95.9h0M107.0 99.4h0M106.7 103.1h0M106.9 103.5h0M106.8 100.8h0M106.7 104.9h0M107.3 99.7h0M107.2 97.6h0M107.3 99.2h0M107.3 102.6h0M107.3 100.2h0M107.5 97.3h0M107.1 98.6h0M107.4 93.5h0M107.2 103.0h0M107.2 100.2h0M107.2 108.0h0M107.5 103.6h0M107.4 97.0h0M107.5 102.2h0M107.0 97.2h0M107.9 102.2h0M107.9 105.4h0M107.5 105.5h0M107.8 99.5h0M107.6 98.0h0M107.7 105.1h0M107.9 106.0h0M107.7 100.8h0M107.8 104.1h0M107.7 95.7h0M108.4 103.7h0M108.2 103.6h0M108.4 102.6h0M108.4 99.6h0M108.5 98.4h0M108.2 101.7h0M108.3 101.6h0M108.5 108.4h0M108.4 103.2h0M108.5 96.9h0M108.2 104.3h0M108.1 102.9h0M108.2 108.4h0M108.6 100.1h0M108.9 97.7h0M109.0 102.1h0M108.8 99.5h0M109.0 103.4h0M108.6 100.6h0M108.9 101.2h0M108.8 96.0h0M109.0 101.3h0M108.7 96.2h0M109.2 94.4h0M109.3 96.6h0M109.3 99.2h0M109.3 102.9h0M109.3 99.5h0M109.4 104.3h0M109.1 102.3h0M109.4 101.9h0M109.2 97.9h0M109.0 100.0h0M109.5 105.6h0M109.4 98.6h0M109.6 95.3h0M109.9 99.7h0M109.7 100.2h0M109.7 101.1h0M109.7 97.8h0M109.8 94.7h0M109.6 96.9h0M109.9 104.4h0M109.8 102.5h0M109.8 103.4h0M109.9 97.9h0M109.7 103.6h0M110.1 105.3h0M110.1 104.1h0M110.1 96.9h0M110.4 100.1h0M110.5 95.4h0M110.3 97.8h0M110.4 96.1h0M110.1 106.6h0M110.1 101.5h0M110.2 101.0h0M110.3 100.5h0M110.4 103.4h0M110.5 98.8h0M110.8 106.6h0M110.8 101.7h0M110.9 98.7h0M110.8 95.6h0M110.6 104.2h0M110.8 102.7h0M110.9 103.8h0M110.7 102.7h0M110.8 94.1h0M110.9 100.2h0M111.0 103.6h0M111.1 106.0h0M111.3 101.5h0M111.3 98.4h0M111.2 100.6h0M111.1 107.0h0M111.4 100.9h0M111.2 104.4h0M111.3 105.3h0M111.1 100.8h0M111.4 100.2h0M111.3 103.5h0M111.9 102.2h0M112.0 102.5h0M112.0 103.4h0M111.6 99.5h0M111.6 94.3h0M111.9 98.4h0M112.0 95.6h0M111.6 101.8h0M111.7 100.6h0M111.8 97.4h0M111.9 100.4h0M112.1 99.2h0M112.3 101.8h0M112.3 98.8h0M112.3 97.3h0M112.2 105.6h0M112.2 97.9h0M112.5 100.2h0M112.4 101.7h0M112.4 107.6h0M112.5 102.8h0M112.1 103.9h0M112.1 103.2h0M112.9 105.0h0M112.8 100.8h0M112.7 107.1h0M112.7 94.6h0M112.7 98.7h0M112.8 99.6h0M112.7 106.2h0M112.9 101.6h0M112.9 102.8h0M112.8 107.2h0M112.9 100.2h0M112.6 96.0h0M113.0 98.8h0M113.4 102.6h0M113.3 98.3h0M113.3 97.1h0M113.3 103.0h0M113.2 98.4h0M113.5 94.9h0M113.3 99.8h0M113.2 105.6h0M113.0 97.8h0M113.4 100.5h0M113.4 97.9h0M113.9 100.3h0M113.8 98.6h0M113.9 94.7h0M113.5 102.1h0M113.8 102.9h0M113.8 97.8h0M113.8 103.3h0M113.6 105.1h0M114.4 98.1h0M114.2 101.8h0M114.5 96.9h0M114.4 105.0h0M114.4 97.7h0M114.3 99.9h0M114.3 94.8h0M114.1 97.4h0M114.4 102.5h0M114.2 94.8h0M114.4 99.2h0M114.4 103.8h0M114.1 101.3h0M114.6 105.6h0M114.8 98.7h0M115.0 99.2h0M114.9 98.2h0M114.8 103.0h0M114.8 102.0h0M114.6 102.2h0M114.7 98.7h0M114.7 100.4h0M114.8 100.9h0M114.9 102.4h0M115.1 104.4h0M115.4 100.5h0M115.4 99.3h0M115.1 101.4h0M115.4 103.4h0M115.0 104.8h0M115.4 102.2h0M115.0 97.7h0M115.0 100.1h0M115.3 96.5h0M115.4 107.0h0M115.3 101.5h0M115.9 97.9h0M115.9 100.4h0M115.7 101.1h0M115.6 97.6h0M115.8 104.3h0M115.8 97.4h0M116.0 106.8h0M115.9 95.6h0M116.0 102.7h0M115.8 101.9h0M116.3 97.8h0M116.1 106.6h0M116.4 99.7h0M116.0 101.1h0M116.4 100.2h0M116.2 95.2h0M116.3 101.8h0M116.3 101.7h0M116.8 102.7h0M116.9 100.9h0M116.9 102.1h0M116.8 103.7h0M116.5 96.8h0M117.4 102.7h0M117.2 102.9h0M117.0 99.6h0M117.1 95.8h0M117.4 99.9h0M117.3 105.1h0M117.4 100.3h0M117.5 101.2h0M117.5 99.3h0M117.4 103.7h0M117.7 99.1h0M118.0 100.2h0M117.7 96.3h0M117.9 103.3h0M117.6 97.4h0M117.9 101.9h0M117.8 102.7h0M117.9 101.6h0M118.0 97.7h0M118.3 100.1h0M118.2 105.2h0M118.1 103.8h0M118.3 101.3h0M118.0 98.2h0M118.1 100.9h0M118.5 98.2h0M118.4 98.8h0M118.3 100.4h0M118.4 103.7h0M118.2 96.7h0M118.2 104.5h0M119.0 99.5h0M118.9 98.9h0M118.8 101.3h0M118.7 101.8h0M118.6 99.4h0M118.8 106.2h0M118.8 103.5h0M118.9 104.6h0M118.6 103.9h0M118.8 101.8h0M119.5 97.3h0M119.2 98.0h0M119.2 99.8h0M119.4 99.3h0M119.4 102.2h0M119.2 97.7h0M119.2 102.7h0M119.2 96.0h0M119.8 101.5h0M119.5 100.1h0M119.6 103.1h0M120.0 102.4h0M120.0 96.7h0M119.9 98.7h0M119.9 99.5h0M119.8 99.0h0M119.7 102.7h0M119.8 103.5h0M119.8 100.3h0M119.9 97.6h0M120.5 101.0h0M120.4 100.1h0M120.5 102.1h0M120.4 102.8h0M120.5 104.7h0M120.2 105.3h0M120.1 98.1h0M120.4 102.5h0M120.9 98.7h0M120.7 99.2h0M120.6 97.1h0M120.9 101.9h0M121.0 103.9h0M121.0 99.6h0M120.9 106.5h0M120.9 102.5h0M120.9 100.5h0M121.2 105.8h0M121.2 101.7h0M121.4 101.1h0M121.4 100.2h0M121.4 97.1h0M121.3 97.8h0M121.4 98.7h0M122.0 104.9h0M121.6 104.0h0M121.8 99.5h0M121.6 101.8h0M121.7 103.2h0M122.0 96.7h0M122.0 98.1h0M121.7 99.7h0M121.7 99.2h0M122.0 98.7h0M122.4 105.0h0M122.4 99.2h0M122.4 100.4h0M122.4 100.8h0M122.0 101.5h0M122.5 96.4h0M122.3 99.7h0M123.0 105.1h0M122.7 100.2h0M122.8 104.2h0M122.9 101.5h0M122.9 99.8h0M122.8 96.6h0M122.7 102.1h0M122.9 96.1h0M122.7 101.4h0M123.4 100.3h0M123.4 98.4h0M123.4 102.3h0M123.4 101.6h0M123.3 100.9h0M123.1 99.1h0M123.5 99.1h0M123.5 99.5h0M123.2 101.1h0M123.1 102.6h0M123.8 99.4h0M123.7 104.5h0M123.9 100.9h0M123.6 104.2h0M123.9 106.2h0M124.0 101.3h0M124.0 98.9h0M124.2 100.7h0M124.1 101.9h0M124.3 98.5h0M124.0 102.4h0M124.4 101.1h0M124.2 105.2h0M124.3 101.3h0M124.3 100.1h0M124.1 96.3h0M124.7 101.8h0M124.9 100.7h0M124.8 101.3h0M125.0 102.1h0M124.9 99.0h0M124.6 103.0h0M124.7 97.9h0M124.7 104.6h0M125.0 102.5h0M125.4 103.4h0M125.3 98.0h0M125.1 98.6h0M125.3 100.6h0M125.3 105.2h0M125.1 100.8h0M125.3 104.0h0M125.1 97.1h0M125.2 103.8h0M125.5 102.0h0M125.9 101.4h0M125.6 100.1h0M125.9 98.1h0M125.9 104.9h0M126.0 104.0h0M125.8 100.9h0M125.7 99.7h0M125.8 100.4h0M125.7 101.3h0M126.4 100.7h0M126.3 100.0h0M126.3 104.0h0M126.4 100.8h0M126.4 103.2h0M126.3 96.6h0M126.5 104.6h0M127.0 103.4h0M126.8 103.1h0M126.7 102.2h0M127.0 98.7h0M126.8 100.0h0M127.4 100.4h0M127.0 105.8h0M127.0 104.5h0M127.0 101.9h0M127.0 97.5h0M127.1 101.4h0M127.4 104.1h0M127.6 103.4h0M127.6 102.5h0M127.6 101.5h0M127.8 99.2h0M127.8 101.2h0M127.9 100.2h0M127.6 97.7h0M127.8 100.4h0M128.1 103.6h0M128.4 103.4h0M128.5 105.5h0M128.2 102.0h0M128.3 104.4h0M128.0 101.6h0M128.4 100.6h0M128.7 100.0h0M128.7 97.6h0M128.8 99.4h0M128.9 102.0h0M128.9 101.7h0M129.0 97.9h0M128.7 102.0h0M128.8 102.3h0M129.4 97.5h0M129.3 103.5h0M129.3 100.5h0M129.0 98.6h0M129.1 103.3h0M129.3 98.8h0M129.9 103.4h0M130.0 99.4h0M129.8 103.1h0M129.8 100.3h0M129.5 102.6h0M129.7 101.4h0M129.6 102.8h0M129.8 99.2h0M130.4 101.8h0M130.0 102.0h0M130.1 102.7h0M130.4 103.0h0M130.0 101.3h0M130.8 100.0h0M130.7 100.2h0M130.7 100.7h0M130.6 100.8h0M130.9 101.3h0M131.0 102.4h0M130.8 103.1h0M131.0 101.1h0M130.7 98.3h0M131.3 103.8h0M131.1 102.0h0M131.5 100.8h0M131.4 100.2h0M131.4 102.0h0M131.4 100.7h0M131.9 100.7h0M131.8 101.1h0M131.8 102.8h0M132.0 98.8h0M131.8 99.6h0M131.9 101.8h0M131.6 97.9h0M131.5 102.6h0M132.3 103.4h0M132.2 102.3h0M132.2 101.6h0M132.3 100.1h0M132.3 104.2h0M132.3 101.1h0M132.7 98.4h0M133.0 102.4h0M132.8 97.5h0M132.8 103.9h0M132.9 103.0h0M133.2 101.9h0M133.4 103.6h0M133.2 104.5h0M133.0 100.8h0M133.0 101.7h0M133.5 101.2h0M133.6 99.7h0M134.0 102.0h0M133.9 102.9h0M133.7 100.2h0M133.7 101.5h0M133.9 98.6h0M133.6 102.3h0M134.3 103.3h0M134.3 102.7h0M134.5 99.5h0M134.4 101.4h0M134.3 98.7h0M134.1 101.4h0M134.6 98.2h0M134.8 101.1h0M134.9 101.6h0M135.0 100.0h0M134.8 102.1h0M135.0 102.6h0M135.3 102.8h0M135.0 103.9h0M135.3 101.0h0M135.4 104.0h0M135.9 102.7h0M135.6 99.5h0M135.8 102.0h0M135.5 98.9h0M135.5 100.7h0M136.4 102.9h0M136.0 101.4h0M136.5 99.3h0M136.3 100.7h0M136.2 104.0h0M136.4 98.2h0M136.2 100.9h0M136.7 100.8h0M136.8 102.1h0M136.7 99.2h0M136.9 100.5h0M137.0 104.0h0M136.9 103.3h0M136.6 102.3h0M136.9 104.6h0M137.2 103.1h0M137.5 102.4h0M137.2 100.8h0M137.3 99.7h0M137.0 98.8h0M137.9 103.2h0M137.9 99.1h0M137.6 100.0h0M138.0 98.7h0M137.8 104.2h0M137.5 100.6h0M137.8 101.8h0M138.3 103.5h0M138.3 102.1h0M138.1 99.5h0M138.3 101.3h0M138.0 101.5h0M138.9 98.9h0M138.7 102.5h0M138.9 100.6h0M139.0 101.7h0M139.3 102.7h0M139.1 103.2h0M139.5 101.1h0M139.3 103.1h0M139.6 102.1h0M139.9 101.5h0M139.8 100.3h0M139.7 99.7h0M139.8 100.9h0M140.5 100.2h0M140.4 101.7h0M140.1 102.6h0M140.1 103.2h0M140.8 100.5h0M140.8 101.9h0M140.7 99.1h0M141.0 100.0h0M141.2 102.8h0M141.4 100.7h0M141.3 101.4h0M141.1 101.2h0M141.7 103.3h0M142.0 101.3h0M141.6 100.8h0M142.0 100.3h0M142.5 100.3h0M142.2 102.5h0M142.3 104.1h0M142.2 101.2h0M142.7 101.3h0M142.9 100.5h0M142.8 101.3h0M142.7 102.5h0M143.0 102.4h0M143.3 100.5h0M143.0 99.0h0M143.4 101.4h0M143.3 102.6h0M143.4 103.0h0M143.9 102.2h0M143.8 100.9h0M144.0 100.5h0M143.8 101.4h0M144.4 100.4h0M144.2 103.6h0M144.2 99.7h0M144.3 103.3h0M144.4 101.5h0M144.9 100.9h0M144.6 104.6h0M144.8 101.9h0M144.6 101.9h0M145.3 100.9h0M145.2 101.5h0M145.0 102.6h0M145.0 100.1h0M145.5 103.5h0M145.9 103.0h0M145.7 100.3h0M145.8 101.9h0M145.9 101.5h0M145.8 100.2h0M146.3 100.7h0M146.1 100.5h0M146.1 103.6h0M146.4 103.1h0M146.6 104.3h0M146.8 101.9h0M146.6 101.8h0M146.7 101.5h0M147.0 102.8h0M147.4 100.7h0M147.2 101.5h0M147.2 102.5h0M147.5 102.5h0M147.5 102.2h0M147.9 101.1h0M148.1 103.2h0M148.1 101.7h0M148.4 101.4h0M148.1 102.6h0M148.3 102.9h0M148.5 102.5h0M148.8 102.9h0M148.6 102.1h0M148.8 102.1h0M149.2 104.5h0M149.3 102.9h0M149.2 103.8h0M149.1 101.0h0M149.8 103.2h0M150.0 99.6h0M149.8 101.0h0M149.6 102.7h0M149.8 103.5h0M150.1 101.6h0M150.1 102.3h0M150.7 101.2h0M150.8 100.8h0M150.8 103.4h0M150.6 103.5h0M150.9 102.6h0M151.2 100.6h0M151.4 102.3h0M151.4 101.4h0M151.1 101.8h0M151.4 101.8h0M151.3 102.9h0M152.0 101.9h0M151.9 101.2h0M151.9 101.6h0M152.4 100.3h0M152.2 103.3h0M152.8 102.8h0M152.7 102.6h0M152.6 103.5h0M152.5 101.4h0M153.3 104.5h0M153.2 100.5h0M153.5 102.8h0M153.2 101.8h0M153.2 103.8h0M153.5 101.1h0M153.9 102.9h0M153.9 101.6h0M154.1 101.8h0M154.3 102.6h0M154.3 101.2h0M154.5 102.2h0M154.1 100.1h0M154.8 102.1h0M154.8 103.1h0M154.8 103.6h0M155.4 102.1h0M155.1 102.4h0M155.3 101.3h0M155.9 100.7h0M155.5 103.3h0M155.7 102.9h0M156.3 104.5h0M156.1 102.4h0M156.4 101.6h0M156.2 104.0h0M156.6 103.4h0M156.5 103.0h0M156.6 104.0h0M156.5 102.3h0M157.3 101.3h0M157.4 103.0h0M157.3 103.5h0M157.3 101.9h0M157.3 103.9h0M157.9 103.5h0M157.9 101.3h0M158.1 102.4h0M158.4 102.9h0M158.3 102.4h0M159.0 101.4h0M158.5 103.5h0M158.6 101.6h0M158.5 102.0h0M159.5 101.1h0M159.1 102.6h0M159.5 104.2h0M159.2 101.9h0M159.7 102.1h0M160.0 102.9h0M159.9 101.2h0M159.9 102.2h0M160.5 103.3h0M160.4 102.5h0M160.1 103.7h0M160.2 102.5h0M160.6 102.2h0M160.8 102.9h0M160.8 101.9h0M161.4 103.2h0M161.0 103.3h0M161.3 103.6h0M161.8 102.0h0M161.6 102.1h0M162.0 104.1h0M162.1 103.5h0M162.4 103.4h0M162.6 102.7h0M163.0 103.5h0M162.5 102.2h0M163.1 104.3h0M163.2 102.8h0M163.0 102.1h0M163.2 102.7h0M163.7 102.5h0M163.6 103.0h0M163.6 103.6h0M164.5 103.3h0M164.1 102.5h0M164.3 102.9h0M164.9 103.4h0M164.8 103.8h0M165.5 102.3h0M165.3 103.0h0M165.9 103.6h0M165.7 103.7h0M165.8 103.0h0M166.3 103.2h0M167.0 103.3h0M166.7 103.7h0M166.8 103.0h0M167.4 102.7h0M167.2 102.2h0M167.7 103.2h0M167.7 103.9h0M168.2 103.2h0M168.2 102.6h0M168.4 103.0h0M168.9 104.0h0M168.8 103.3h0M169.7 102.5h0M169.8 103.0h0M169.7 103.6h0M170.3 103.3h0M170.8 103.7h0M171.0 102.7h0M171.0 103.8h0M171.2 103.0h0M171.9 103.2h0M171.8 104.2h0M172.5 103.8h0M172.4 103.6h0M172.9 103.4h0M173.3 103.8h0M174.2 104.2h0M174.8 103.8h0M175.3 104.0h0M175.8 103.9h0M176.5 104.0h0M176.5 103.7h0M176.9 104.1h0M177.7 104.4h0M178.2 104.3h0" stroke="#0c0c0c" stroke-width="1.35" stroke-linecap="round"/>
<defs><filter id="hb" x="-2%" y="-2%" width="104%" height="104%"><feGaussianBlur stdDeviation="0.45 0.6"/></filter><clipPath id="hc"><rect x="273" y="30" width="120" height="122"/></clipPath></defs><g clip-path="url(#hc)"><g shape-rendering="crispEdges" filter="url(#hb)"><rect x="273" y="30" width="12" height="1" fill="#24789c"/><rect x="273" y="31" width="12" height="1" fill="#247290"/><rect x="273" y="32" width="12" height="1" fill="#1e8aba"/><rect x="273" y="33" width="12" height="1" fill="#246c8a"/><rect x="273" y="34" width="12" height="1" fill="#247296"/><rect x="273" y="35" width="12" height="1" fill="#18a8de"/><rect x="273" y="36" width="12" height="3" fill="#247290"/><rect x="273" y="39" width="12" height="1" fill="#246c8a"/><rect x="273" y="40" width="12" height="1" fill="#247ea2"/><rect x="273" y="41" width="12" height="1" fill="#246c8a"/><rect x="273" y="42" width="12" height="1" fill="#246684"/><rect x="273" y="43" width="12" height="1" fill="#247896"/><rect x="273" y="44" width="12" height="1" fill="#247ea2"/><rect x="273" y="45" width="12" height="1" fill="#246c90"/><rect x="273" y="46" width="12" height="1" fill="#246c8a"/><rect x="273" y="47" width="12" height="1" fill="#247ea2"/><rect x="273" y="48" width="12" height="1" fill="#247290"/><rect x="273" y="49" width="12" height="1" fill="#246c8a"/><rect x="273" y="50" width="12" height="1" fill="#246684"/><rect x="273" y="51" width="12" height="1" fill="#246c8a"/><rect x="273" y="52" width="12" height="1" fill="#2a4e60"/><rect x="273" y="53" width="12" height="1" fill="#247290"/><rect x="273" y="54" width="12" height="1" fill="#604242"/><rect x="273" y="55" width="12" height="1" fill="#362a30"/><rect x="273" y="56" width="12" height="1" fill="#4e363c"/><rect x="273" y="57" width="12" height="1" fill="#604248"/><rect x="273" y="58" width="12" height="1" fill="#6c484e"/><rect x="273" y="59" width="12" height="1" fill="#363036"/><rect x="273" y="60" width="12" height="1" fill="#48363c"/><rect x="273" y="61" width="12" height="1" fill="#543c42"/><rect x="273" y="62" width="12" height="1" fill="#5a3c42"/><rect x="273" y="63" width="12" height="1" fill="#543c3c"/><rect x="273" y="64" width="12" height="1" fill="#965a60"/><rect x="273" y="65" width="12" height="1" fill="#7e4e54"/><rect x="273" y="66" width="12" height="1" fill="#844e54"/><rect x="273" y="67" width="12" height="1" fill="#ae6c6c"/><rect x="273" y="68" width="12" height="1" fill="#784e4e"/><rect x="273" y="69" width="12" height="1" fill="#7e4e54"/><rect x="273" y="70" width="12" height="1" fill="#363036"/><rect x="273" y="71" width="12" height="1" fill="#845454"/><rect x="273" y="72" width="12" height="1" fill="#483636"/><rect x="273" y="73" width="12" height="1" fill="#30363c"/><rect x="273" y="74" width="12" height="1" fill="#8a545a"/><rect x="273" y="75" width="12" height="1" fill="#362a30"/><rect x="273" y="76" width="12" height="1" fill="#604248"/><rect x="273" y="77" width="12" height="1" fill="#72484e"/><rect x="273" y="78" width="12" height="1" fill="#845454"/><rect x="273" y="79" width="12" height="1" fill="#604242"/><rect x="273" y="80" width="12" height="1" fill="#303c48"/><rect x="273" y="81" width="12" height="1" fill="#30485a"/><rect x="273" y="82" width="12" height="1" fill="#2a4e60"/><rect x="273" y="83" width="12" height="1" fill="#30424e"/><rect x="273" y="84" width="12" height="1" fill="#247290"/><rect x="273" y="85" width="12" height="2" fill="#2a4e60"/><rect x="273" y="87" width="12" height="1" fill="#2a5a6c"/><rect x="273" y="88" width="12" height="1" fill="#1e84ae"/><rect x="273" y="89" width="12" height="1" fill="#2a5a72"/><rect x="273" y="90" width="12" height="1" fill="#1e7ea2"/><rect x="273" y="91" width="12" height="1" fill="#247290"/><rect x="273" y="92" width="12" height="1" fill="#246684"/><rect x="273" y="93" width="12" height="1" fill="#2a5466"/><rect x="273" y="94" width="12" height="1" fill="#2a4e60"/><rect x="273" y="95" width="12" height="1" fill="#2a546c"/><rect x="273" y="96" width="12" height="1" fill="#2a6078"/><rect x="273" y="97" width="12" height="1" fill="#303642"/><rect x="273" y="98" width="12" height="1" fill="#2a6078"/><rect x="273" y="99" width="12" height="1" fill="#304854"/><rect x="273" y="100" width="12" height="1" fill="#30424e"/><rect x="273" y="101" width="12" height="1" fill="#483636"/><rect x="273" y="102" width="12" height="1" fill="#423636"/><rect x="273" y="103" width="12" height="1" fill="#a86666"/><rect x="273" y="104" width="12" height="1" fill="#965a60"/><rect x="273" y="105" width="12" height="1" fill="#a8666c"/><rect x="273" y="106" width="12" height="1" fill="#7e4e54"/><rect x="273" y="107" width="12" height="1" fill="#ba7272"/><rect x="273" y="108" width="12" height="1" fill="#b46c72"/><rect x="273" y="109" width="12" height="1" fill="#a86666"/><rect x="273" y="110" width="12" height="1" fill="#cc7e7e"/><rect x="273" y="111" width="12" height="1" fill="#c07878"/><rect x="273" y="112" width="12" height="1" fill="#ae6c6c"/><rect x="273" y="113" width="12" height="1" fill="#a26066"/><rect x="273" y="114" width="12" height="1" fill="#d28484"/><rect x="273" y="115" width="12" height="1" fill="#c07878"/><rect x="273" y="116" width="12" height="1" fill="#905a5a"/><rect x="273" y="117" width="12" height="1" fill="#965a60"/><rect x="273" y="118" width="12" height="1" fill="#845454"/><rect x="273" y="119" width="12" height="1" fill="#5a4242"/><rect x="273" y="120" width="12" height="1" fill="#965a60"/><rect x="273" y="121" width="12" height="1" fill="#905a5a"/><rect x="273" y="122" width="12" height="1" fill="#7e4e54"/><rect x="273" y="123" width="12" height="1" fill="#845454"/><rect x="273" y="124" width="12" height="1" fill="#a26066"/><rect x="273" y="125" width="12" height="1" fill="#d28484"/><rect x="273" y="126" width="12" height="1" fill="#a26066"/><rect x="273" y="127" width="12" height="1" fill="#ae6c6c"/><rect x="273" y="128" width="12" height="1" fill="#6c4848"/><rect x="273" y="129" width="12" height="1" fill="#5a3c42"/><rect x="273" y="130" width="12" height="1" fill="#966060"/><rect x="273" y="131" width="12" height="1" fill="#7e4e54"/><rect x="273" y="132" width="12" height="1" fill="#845454"/><rect x="273" y="133" width="12" height="1" fill="#664248"/><rect x="273" y="134" width="12" height="1" fill="#604242"/><rect x="273" y="135" width="12" height="1" fill="#543c42"/><rect x="273" y="136" width="12" height="1" fill="#664248"/><rect x="273" y="137" width="12" height="1" fill="#362a30"/><rect x="273" y="138" width="12" height="1" fill="#9c6066"/><rect x="273" y="139" width="12" height="1" fill="#845454"/><rect x="273" y="140" width="12" height="1" fill="#5a3c42"/><rect x="273" y="141" width="12" height="1" fill="#7e4e54"/><rect x="273" y="142" width="12" height="1" fill="#b46c72"/><rect x="273" y="143" width="12" height="1" fill="#a26066"/><rect x="273" y="144" width="12" height="1" fill="#965a60"/><rect x="273" y="145" width="12" height="1" fill="#6c4848"/><rect x="273" y="146" width="12" height="1" fill="#4e3c3c"/><rect x="273" y="147" width="12" height="1" fill="#664248"/><rect x="273" y="148" width="12" height="1" fill="#423636"/><rect x="273" y="149" width="12" height="1" fill="#72484e"/><rect x="273" y="150" width="12" height="1" fill="#8a545a"/><rect x="273" y="151" width="12" height="1" fill="#72484e"/><rect x="285" y="30" width="12" height="1" fill="#24789c"/><rect x="285" y="31" width="12" height="1" fill="#2a607e"/><rect x="285" y="32" width="12" height="1" fill="#246c8a"/><rect x="285" y="33" width="12" height="1" fill="#30424e"/><rect x="285" y="34" width="12" height="1" fill="#303642"/><rect x="285" y="35" width="12" height="1" fill="#303c48"/><rect x="285" y="36" width="12" height="1" fill="#48363c"/><rect x="285" y="37" width="12" height="1" fill="#423036"/><rect x="285" y="38" width="12" height="1" fill="#30424e"/><rect x="285" y="39" width="12" height="1" fill="#5a3c42"/><rect x="285" y="40" width="12" height="1" fill="#303c48"/><rect x="285" y="41" width="12" height="1" fill="#3c3036"/><rect x="285" y="42" width="12" height="1" fill="#30485a"/><rect x="285" y="43" width="12" height="1" fill="#362a30"/><rect x="285" y="44" width="12" height="1" fill="#2a5466"/><rect x="285" y="45" width="12" height="1" fill="#2a485a"/><rect x="285" y="46" width="12" height="1" fill="#1e84a8"/><rect x="285" y="47" width="12" height="1" fill="#303c48"/><rect x="285" y="48" width="12" height="1" fill="#24789c"/><rect x="285" y="49" width="12" height="2" fill="#2a6078"/><rect x="285" y="51" width="12" height="1" fill="#2a546c"/><rect x="285" y="52" width="12" height="1" fill="#246684"/><rect x="285" y="53" width="12" height="1" fill="#2a5466"/><rect x="285" y="54" width="12" height="1" fill="#2a607e"/><rect x="285" y="55" width="12" height="1" fill="#1e7ea8"/><rect x="285" y="56" width="12" height="1" fill="#1e7ea2"/><rect x="285" y="57" width="12" height="1" fill="#246c8a"/><rect x="285" y="58" width="12" height="1" fill="#247ea2"/><rect x="285" y="59" width="12" height="1" fill="#1e8ab4"/><rect x="285" y="60" width="12" height="1" fill="#24789c"/><rect x="285" y="61" width="12" height="1" fill="#247290"/><rect x="285" y="62" width="12" height="1" fill="#2a6078"/><rect x="285" y="63" width="12" height="1" fill="#1896c6"/><rect x="285" y="64" width="12" height="1" fill="#247e9c"/><rect x="285" y="65" width="12" height="1" fill="#2a6078"/><rect x="285" y="66" width="12" height="1" fill="#247ea2"/><rect x="285" y="67" width="12" height="1" fill="#247896"/><rect x="285" y="68" width="12" height="1" fill="#247ea2"/><rect x="285" y="69" width="12" height="1" fill="#246684"/><rect x="285" y="70" width="12" height="1" fill="#247296"/><rect x="285" y="71" width="12" height="1" fill="#24789c"/><rect x="285" y="72" width="12" height="1" fill="#2a5a72"/><rect x="285" y="73" width="12" height="1" fill="#1e7ea8"/><rect x="285" y="74" width="12" height="1" fill="#1e84ae"/><rect x="285" y="75" width="12" height="1" fill="#1e90ba"/><rect x="285" y="76" width="12" height="1" fill="#1e7ea2"/><rect x="285" y="77" width="12" height="1" fill="#1e84a8"/><rect x="285" y="78" width="12" height="1" fill="#24789c"/><rect x="285" y="79" width="12" height="1" fill="#2a5a72"/><rect x="285" y="80" width="12" height="1" fill="#1e8ab4"/><rect x="285" y="81" width="12" height="1" fill="#247ea2"/><rect x="285" y="82" width="12" height="1" fill="#24789c"/><rect x="285" y="83" width="12" height="1" fill="#246c84"/><rect x="285" y="84" width="12" height="1" fill="#246c8a"/><rect x="285" y="85" width="12" height="1" fill="#2a5a6c"/><rect x="285" y="86" width="12" height="1" fill="#246c8a"/><rect x="285" y="87" width="12" height="1" fill="#247ea2"/><rect x="285" y="88" width="12" height="1" fill="#1e84a8"/><rect x="285" y="89" width="12" height="1" fill="#2a546c"/><rect x="285" y="90" width="12" height="1" fill="#246c90"/><rect x="285" y="91" width="12" height="1" fill="#2a5466"/><rect x="285" y="92" width="12" height="2" fill="#2a4e60"/><rect x="285" y="94" width="12" height="1" fill="#2a5466"/><rect x="285" y="95" width="12" height="1" fill="#246684"/><rect x="285" y="96" width="12" height="1" fill="#1e90ba"/><rect x="285" y="97" width="12" height="1" fill="#246c8a"/><rect x="285" y="98" width="12" height="1" fill="#1e8ab4"/><rect x="285" y="99" width="12" height="1" fill="#1e7ea8"/><rect x="285" y="100" width="12" height="1" fill="#24789c"/><rect x="285" y="101" width="12" height="1" fill="#1e8ab4"/><rect x="285" y="102" width="12" height="1" fill="#18a2d8"/><rect x="285" y="103" width="12" height="1" fill="#3c3036"/><rect x="285" y="104" width="12" height="1" fill="#304254"/><rect x="285" y="105" width="12" height="1" fill="#362a30"/><rect x="285" y="106" width="12" height="1" fill="#423036"/><rect x="285" y="107" width="12" height="1" fill="#4e363c"/><rect x="285" y="108" width="12" height="1" fill="#48363c"/><rect x="285" y="109" width="12" height="1" fill="#4e363c"/><rect x="285" y="110" width="12" height="1" fill="#8a545a"/><rect x="285" y="111" width="12" height="1" fill="#423036"/><rect x="285" y="112" width="12" height="1" fill="#4e3c3c"/><rect x="285" y="113" width="12" height="1" fill="#604242"/><rect x="285" y="114" width="12" height="1" fill="#72484e"/><rect x="285" y="115" width="12" height="1" fill="#5a3c42"/><rect x="285" y="116" width="12" height="1" fill="#543c3c"/><rect x="285" y="117" width="12" height="1" fill="#90545a"/><rect x="285" y="118" width="12" height="1" fill="#72484e"/><rect x="285" y="119" width="12" height="1" fill="#7e4e54"/><rect x="285" y="120" width="12" height="1" fill="#363030"/><rect x="285" y="121" width="12" height="1" fill="#6c4848"/><rect x="285" y="122" width="12" height="1" fill="#604242"/><rect x="285" y="123" width="12" height="1" fill="#423036"/><rect x="285" y="124" width="12" height="1" fill="#5a3c42"/><rect x="285" y="125" width="12" height="1" fill="#72484e"/><rect x="285" y="126" width="12" height="1" fill="#905a5a"/><rect x="285" y="127" width="12" height="1" fill="#965a60"/><rect x="285" y="128" width="12" height="1" fill="#543c42"/><rect x="285" y="129" width="12" height="1" fill="#965a60"/><rect x="285" y="130" width="12" height="1" fill="#ba7278"/><rect x="285" y="131" width="12" height="1" fill="#c6787e"/><rect x="285" y="132" width="12" height="1" fill="#ae6c6c"/><rect x="285" y="133" width="12" height="1" fill="#965a60"/><rect x="285" y="134" width="12" height="1" fill="#9c6060"/><rect x="285" y="135" width="12" height="1" fill="#604242"/><rect x="285" y="136" width="12" height="1" fill="#905a5a"/><rect x="285" y="137" width="12" height="1" fill="#5a3c42"/><rect x="285" y="138" width="12" height="1" fill="#4e3c3c"/><rect x="285" y="139" width="12" height="2" fill="#4e363c"/><rect x="285" y="141" width="12" height="1" fill="#664848"/><rect x="285" y="142" width="12" height="1" fill="#7e4e54"/><rect x="285" y="143" width="12" height="1" fill="#604248"/><rect x="285" y="144" width="12" height="1" fill="#363030"/><rect x="285" y="145" width="12" height="1" fill="#9c6060"/><rect x="285" y="146" width="12" height="1" fill="#3c3036"/><rect x="285" y="147" width="12" height="1" fill="#784e4e"/><rect x="285" y="148" width="12" height="2" fill="#965a60"/><rect x="285" y="150" width="12" height="1" fill="#784e4e"/><rect x="285" y="151" width="12" height="1" fill="#423036"/><rect x="297" y="30" width="12" height="2" fill="#247290"/><rect x="297" y="32" width="12" height="1" fill="#247896"/><rect x="297" y="33" width="12" height="1" fill="#304854"/><rect x="297" y="34" width="12" height="1" fill="#2a4e60"/><rect x="297" y="35" width="12" height="1" fill="#2a546c"/><rect x="297" y="36" width="12" height="1" fill="#2a4e60"/><rect x="297" y="37" width="12" height="1" fill="#246c8a"/><rect x="297" y="38" width="12" height="1" fill="#1e84a8"/><rect x="297" y="39" width="12" height="1" fill="#2a5a6c"/><rect x="297" y="40" width="12" height="1" fill="#2a4e60"/><rect x="297" y="41" width="12" height="1" fill="#2a4e66"/><rect x="297" y="42" width="12" height="1" fill="#246684"/><rect x="297" y="43" width="12" height="1" fill="#2a5a72"/><rect x="297" y="44" width="12" height="1" fill="#2a4e60"/><rect x="297" y="45" width="12" height="1" fill="#2a5466"/><rect x="297" y="46" width="12" height="1" fill="#24667e"/><rect x="297" y="47" width="12" height="1" fill="#363036"/><rect x="297" y="48" width="12" height="1" fill="#304254"/><rect x="297" y="49" width="12" height="1" fill="#246684"/><rect x="297" y="50" width="12" height="1" fill="#2a5a72"/><rect x="297" y="51" width="12" height="1" fill="#2a4e60"/><rect x="297" y="52" width="12" height="1" fill="#2a4e5a"/><rect x="297" y="53" width="12" height="1" fill="#2a5466"/><rect x="297" y="54" width="12" height="1" fill="#246c84"/><rect x="297" y="55" width="12" height="1" fill="#2a485a"/><rect x="297" y="56" width="12" height="2" fill="#303c48"/><rect x="297" y="58" width="12" height="1" fill="#304254"/><rect x="297" y="59" width="12" height="1" fill="#2a5a72"/><rect x="297" y="60" width="12" height="1" fill="#30363c"/><rect x="297" y="61" width="12" height="1" fill="#246c8a"/><rect x="297" y="62" width="12" height="1" fill="#2a607e"/><rect x="297" y="63" width="12" height="1" fill="#30485a"/><rect x="297" y="64" width="12" height="1" fill="#363036"/><rect x="297" y="65" width="12" height="1" fill="#30363c"/><rect x="297" y="66" width="12" height="1" fill="#363030"/><rect x="297" y="67" width="12" height="1" fill="#30485a"/><rect x="297" y="68" width="12" height="2" fill="#2a4e60"/><rect x="297" y="70" width="12" height="1" fill="#30363c"/><rect x="297" y="71" width="12" height="1" fill="#303642"/><rect x="297" y="72" width="12" height="1" fill="#304254"/><rect x="297" y="73" width="12" height="1" fill="#24789c"/><rect x="297" y="74" width="12" height="1" fill="#246c84"/><rect x="297" y="75" width="12" height="1" fill="#246684"/><rect x="297" y="76" width="12" height="1" fill="#246c8a"/><rect x="297" y="77" width="12" height="1" fill="#1e7ea2"/><rect x="297" y="78" width="12" height="1" fill="#2a5a72"/><rect x="297" y="79" width="12" height="1" fill="#1e84ae"/><rect x="297" y="80" width="12" height="1" fill="#1e84a8"/><rect x="297" y="81" width="12" height="1" fill="#1e8ab4"/><rect x="297" y="82" width="12" height="1" fill="#1e90ba"/><rect x="297" y="83" width="12" height="1" fill="#604242"/><rect x="297" y="84" width="12" height="1" fill="#423636"/><rect x="297" y="85" width="12" height="1" fill="#303642"/><rect x="297" y="86" width="12" height="1" fill="#6c4848"/><rect x="297" y="87" width="12" height="1" fill="#303c48"/><rect x="297" y="88" width="12" height="1" fill="#303642"/><rect x="297" y="89" width="12" height="1" fill="#6c4848"/><rect x="297" y="90" width="12" height="1" fill="#2a5466"/><rect x="297" y="91" width="12" height="1" fill="#362a30"/><rect x="297" y="92" width="12" height="1" fill="#72484e"/><rect x="297" y="93" width="12" height="1" fill="#5a3c42"/><rect x="297" y="94" width="12" height="1" fill="#784e4e"/><rect x="297" y="95" width="12" height="1" fill="#48363c"/><rect x="297" y="96" width="12" height="1" fill="#303642"/><rect x="297" y="97" width="12" height="1" fill="#30424e"/><rect x="297" y="98" width="12" height="1" fill="#2a667e"/><rect x="297" y="99" width="12" height="1" fill="#1e7ea8"/><rect x="297" y="100" width="12" height="1" fill="#1e84ae"/><rect x="297" y="101" width="12" height="1" fill="#247896"/><rect x="297" y="102" width="12" height="1" fill="#18a2d2"/><rect x="297" y="103" width="12" height="1" fill="#48363c"/><rect x="297" y="104" width="12" height="1" fill="#604242"/><rect x="297" y="105" width="12" height="1" fill="#4e3c3c"/><rect x="297" y="106" width="12" height="1" fill="#845454"/><rect x="297" y="107" width="12" height="1" fill="#a8666c"/><rect x="297" y="108" width="12" height="1" fill="#604248"/><rect x="297" y="109" width="12" height="1" fill="#845454"/><rect x="297" y="110" width="12" height="1" fill="#b46c72"/><rect x="297" y="111" width="12" height="1" fill="#905a5a"/><rect x="297" y="112" width="12" height="1" fill="#604242"/><rect x="297" y="113" width="12" height="1" fill="#5a3c42"/><rect x="297" y="114" width="12" height="1" fill="#c6787e"/><rect x="297" y="115" width="12" height="1" fill="#ba7278"/><rect x="297" y="116" width="12" height="1" fill="#845454"/><rect x="297" y="117" width="12" height="1" fill="#604242"/><rect x="297" y="118" width="12" height="1" fill="#4e3c3c"/><rect x="297" y="119" width="12" height="1" fill="#965a5a"/><rect x="297" y="120" width="12" height="1" fill="#8a545a"/><rect x="297" y="121" width="12" height="1" fill="#965a60"/><rect x="297" y="122" width="12" height="1" fill="#543c3c"/><rect x="297" y="123" width="12" height="1" fill="#7e4e54"/><rect x="297" y="124" width="12" height="1" fill="#a26066"/><rect x="297" y="125" width="12" height="1" fill="#ba7272"/><rect x="297" y="126" width="12" height="1" fill="#d28484"/><rect x="297" y="127" width="12" height="1" fill="#ba7878"/><rect x="297" y="128" width="12" height="2" fill="#c07878"/><rect x="297" y="130" width="12" height="1" fill="#c6787e"/><rect x="297" y="131" width="12" height="1" fill="#c67e7e"/><rect x="297" y="132" width="12" height="1" fill="#c6787e"/><rect x="297" y="133" width="12" height="1" fill="#9c6060"/><rect x="297" y="134" width="12" height="2" fill="#845454"/><rect x="297" y="136" width="12" height="1" fill="#784e4e"/><rect x="297" y="137" width="12" height="1" fill="#845454"/><rect x="297" y="138" width="12" height="1" fill="#543c42"/><rect x="297" y="139" width="12" height="1" fill="#965a60"/><rect x="297" y="140" width="12" height="1" fill="#543c42"/><rect x="297" y="141" width="12" height="1" fill="#965a60"/><rect x="297" y="142" width="12" height="1" fill="#a26666"/><rect x="297" y="143" width="12" height="1" fill="#9c6060"/><rect x="297" y="144" width="12" height="1" fill="#a86666"/><rect x="297" y="145" width="12" height="1" fill="#a26066"/><rect x="297" y="146" width="12" height="1" fill="#965a60"/><rect x="297" y="147" width="12" height="1" fill="#8a545a"/><rect x="297" y="148" width="12" height="1" fill="#965a60"/><rect x="297" y="149" width="12" height="1" fill="#905a5a"/><rect x="297" y="150" width="12" height="1" fill="#ba7278"/><rect x="297" y="151" width="12" height="1" fill="#b47272"/><rect x="309" y="30" width="12" height="1" fill="#1e84a8"/><rect x="309" y="31" width="12" height="2" fill="#246c8a"/><rect x="309" y="33" width="12" height="1" fill="#246684"/><rect x="309" y="34" width="12" height="1" fill="#247290"/><rect x="309" y="35" width="12" height="1" fill="#1e90ba"/><rect x="309" y="36" width="12" height="1" fill="#246c8a"/><rect x="309" y="37" width="12" height="1" fill="#247296"/><rect x="309" y="38" width="12" height="1" fill="#246c8a"/><rect x="309" y="39" width="12" height="2" fill="#246684"/><rect x="309" y="41" width="12" height="1" fill="#2a5a72"/><rect x="309" y="42" width="12" height="1" fill="#247296"/><rect x="309" y="43" width="12" height="1" fill="#246c84"/><rect x="309" y="44" width="12" height="1" fill="#246684"/><rect x="309" y="45" width="12" height="2" fill="#246c8a"/><rect x="309" y="47" width="12" height="1" fill="#247296"/><rect x="309" y="48" width="12" height="1" fill="#1e7ea2"/><rect x="309" y="49" width="12" height="1" fill="#246684"/><rect x="309" y="50" width="12" height="1" fill="#303c48"/><rect x="309" y="51" width="12" height="1" fill="#664248"/><rect x="309" y="52" width="12" height="1" fill="#483636"/><rect x="309" y="53" width="12" height="1" fill="#303036"/><rect x="309" y="54" width="12" height="1" fill="#363030"/><rect x="309" y="55" width="12" height="1" fill="#543c42"/><rect x="309" y="56" width="12" height="1" fill="#2a485a"/><rect x="309" y="57" width="12" height="1" fill="#604242"/><rect x="309" y="58" width="12" height="1" fill="#5a3c42"/><rect x="309" y="59" width="12" height="1" fill="#304854"/><rect x="309" y="60" width="12" height="1" fill="#363030"/><rect x="309" y="61" width="12" height="1" fill="#6c4848"/><rect x="309" y="62" width="12" height="2" fill="#363036"/><rect x="309" y="64" width="12" height="1" fill="#543c3c"/><rect x="309" y="65" width="12" height="1" fill="#30363c"/><rect x="309" y="66" width="12" height="1" fill="#303c48"/><rect x="309" y="67" width="12" height="1" fill="#303036"/><rect x="309" y="68" width="12" height="1" fill="#304248"/><rect x="309" y="69" width="12" height="1" fill="#303036"/><rect x="309" y="70" width="12" height="1" fill="#5a3c42"/><rect x="309" y="71" width="12" height="1" fill="#6c4848"/><rect x="309" y="72" width="12" height="1" fill="#a26066"/><rect x="309" y="73" width="12" height="2" fill="#303c48"/><rect x="309" y="75" width="12" height="1" fill="#304854"/><rect x="309" y="76" width="12" height="1" fill="#2a5a6c"/><rect x="309" y="77" width="12" height="1" fill="#303c42"/><rect x="309" y="78" width="12" height="1" fill="#30363c"/><rect x="309" y="79" width="12" height="1" fill="#2a5466"/><rect x="309" y="80" width="12" height="1" fill="#30424e"/><rect x="309" y="81" width="12" height="1" fill="#2a546c"/><rect x="309" y="82" width="12" height="1" fill="#303642"/><rect x="309" y="83" width="12" height="1" fill="#2a4e60"/><rect x="309" y="84" width="12" height="1" fill="#2a5466"/><rect x="309" y="85" width="12" height="1" fill="#24667e"/><rect x="309" y="86" width="12" height="1" fill="#2a6078"/><rect x="309" y="87" width="12" height="1" fill="#246684"/><rect x="309" y="88" width="12" height="1" fill="#246c90"/><rect x="309" y="89" width="12" height="1" fill="#2a607e"/><rect x="309" y="90" width="12" height="1" fill="#246c84"/><rect x="309" y="91" width="12" height="1" fill="#2a5a72"/><rect x="309" y="92" width="12" height="1" fill="#246c84"/><rect x="309" y="93" width="12" height="1" fill="#2a6078"/><rect x="309" y="94" width="12" height="1" fill="#304248"/><rect x="309" y="95" width="12" height="1" fill="#2a5a72"/><rect x="309" y="96" width="12" height="1" fill="#1e7ea2"/><rect x="309" y="97" width="12" height="1" fill="#1e7ea8"/><rect x="309" y="98" width="12" height="1" fill="#18a2d2"/><rect x="309" y="99" width="12" height="2" fill="#24789c"/><rect x="309" y="101" width="12" height="1" fill="#2a5a6c"/><rect x="309" y="102" width="12" height="1" fill="#24667e"/><rect x="309" y="103" width="12" height="1" fill="#604242"/><rect x="309" y="104" width="12" height="1" fill="#423636"/><rect x="309" y="105" width="12" height="1" fill="#784e4e"/><rect x="309" y="106" width="12" height="1" fill="#363030"/><rect x="309" y="107" width="12" height="1" fill="#784e4e"/><rect x="309" y="108" width="12" height="1" fill="#543c42"/><rect x="309" y="109" width="12" height="1" fill="#30303c"/><rect x="309" y="110" width="12" height="1" fill="#7e4e54"/><rect x="309" y="111" width="12" height="1" fill="#4e363c"/><rect x="309" y="112" width="12" height="1" fill="#303c42"/><rect x="309" y="113" width="12" height="1" fill="#604248"/><rect x="309" y="114" width="12" height="1" fill="#784e4e"/><rect x="309" y="115" width="12" height="2" fill="#2a5a72"/><rect x="309" y="117" width="12" height="1" fill="#303c48"/><rect x="309" y="118" width="12" height="1" fill="#423636"/><rect x="309" y="119" width="12" height="2" fill="#303c48"/><rect x="309" y="121" width="12" height="1" fill="#304248"/><rect x="309" y="122" width="12" height="1" fill="#304254"/><rect x="309" y="123" width="12" height="1" fill="#30363c"/><rect x="309" y="124" width="12" height="1" fill="#303c42"/><rect x="309" y="125" width="12" height="1" fill="#604242"/><rect x="309" y="126" width="12" height="1" fill="#905a5a"/><rect x="309" y="127" width="12" height="1" fill="#784e4e"/><rect x="309" y="128" width="12" height="1" fill="#4e3c3c"/><rect x="309" y="129" width="12" height="1" fill="#543c3c"/><rect x="309" y="130" width="12" height="1" fill="#a26066"/><rect x="309" y="131" width="12" height="1" fill="#ae6c72"/><rect x="309" y="132" width="12" height="1" fill="#845454"/><rect x="309" y="133" width="12" height="1" fill="#72484e"/><rect x="309" y="134" width="12" height="1" fill="#6c4848"/><rect x="309" y="135" width="12" height="1" fill="#845454"/><rect x="309" y="136" width="12" height="1" fill="#965a60"/><rect x="309" y="137" width="12" height="1" fill="#7e4e54"/><rect x="309" y="138" width="12" height="1" fill="#8a545a"/><rect x="309" y="139" width="12" height="1" fill="#72484e"/><rect x="309" y="140" width="12" height="1" fill="#7e4e54"/><rect x="309" y="141" width="12" height="2" fill="#905a5a"/><rect x="309" y="143" width="12" height="2" fill="#9c6060"/><rect x="309" y="145" width="12" height="1" fill="#ba7272"/><rect x="309" y="146" width="12" height="1" fill="#8a545a"/><rect x="309" y="147" width="12" height="1" fill="#ba7272"/><rect x="309" y="148" width="12" height="1" fill="#9c6066"/><rect x="309" y="149" width="12" height="1" fill="#72484e"/><rect x="309" y="150" width="12" height="1" fill="#a8666c"/><rect x="309" y="151" width="12" height="1" fill="#784e4e"/><rect x="321" y="30" width="12" height="1" fill="#2a5a6c"/><rect x="321" y="31" width="12" height="1" fill="#2a5466"/><rect x="321" y="32" width="12" height="1" fill="#1e7ea8"/><rect x="321" y="33" width="12" height="1" fill="#2a6078"/><rect x="321" y="34" width="12" height="1" fill="#2a5a72"/><rect x="321" y="35" width="12" height="1" fill="#189cd2"/><rect x="321" y="36" width="12" height="1" fill="#24667e"/><rect x="321" y="37" width="12" height="1" fill="#1e96c6"/><rect x="321" y="38" width="12" height="1" fill="#24789c"/><rect x="321" y="39" width="12" height="1" fill="#2a5a72"/><rect x="321" y="40" width="12" height="1" fill="#2a6078"/><rect x="321" y="41" width="12" height="1" fill="#24667e"/><rect x="321" y="42" width="12" height="1" fill="#1e96c6"/><rect x="321" y="43" width="12" height="1" fill="#1e8aba"/><rect x="321" y="44" width="12" height="1" fill="#1e96c6"/><rect x="321" y="45" width="12" height="1" fill="#247296"/><rect x="321" y="46" width="12" height="1" fill="#1896c6"/><rect x="321" y="47" width="12" height="1" fill="#1e8aae"/><rect x="321" y="48" width="12" height="1" fill="#247290"/><rect x="321" y="49" width="12" height="1" fill="#1e96c6"/><rect x="321" y="50" width="12" height="2" fill="#247296"/><rect x="321" y="52" width="12" height="1" fill="#2a5466"/><rect x="321" y="53" width="12" height="1" fill="#1e90ba"/><rect x="321" y="54" width="12" height="1" fill="#247896"/><rect x="321" y="55" width="12" height="1" fill="#247ea2"/><rect x="321" y="56" width="12" height="1" fill="#24789c"/><rect x="321" y="57" width="12" height="2" fill="#2a5466"/><rect x="321" y="59" width="12" height="1" fill="#24789c"/><rect x="321" y="60" width="12" height="1" fill="#2a5a72"/><rect x="321" y="61" width="12" height="1" fill="#30424e"/><rect x="321" y="62" width="12" height="1" fill="#2a6078"/><rect x="321" y="63" width="12" height="1" fill="#2a5a72"/><rect x="321" y="64" width="12" height="1" fill="#363036"/><rect x="321" y="65" width="12" height="1" fill="#2a4e60"/><rect x="321" y="66" width="12" height="1" fill="#30424e"/><rect x="321" y="67" width="12" height="1" fill="#24667e"/><rect x="321" y="68" width="12" height="1" fill="#4e363c"/><rect x="321" y="69" width="12" height="1" fill="#303c42"/><rect x="321" y="70" width="12" height="1" fill="#543c3c"/><rect x="321" y="71" width="12" height="1" fill="#304854"/><rect x="321" y="72" width="12" height="1" fill="#303036"/><rect x="321" y="73" width="12" height="1" fill="#30424e"/><rect x="321" y="74" width="12" height="1" fill="#303c42"/><rect x="321" y="75" width="12" height="1" fill="#543c3c"/><rect x="321" y="76" width="12" height="1" fill="#304854"/><rect x="321" y="77" width="12" height="1" fill="#303036"/><rect x="321" y="78" width="12" height="1" fill="#2a4e5a"/><rect x="321" y="79" width="12" height="1" fill="#2a546c"/><rect x="321" y="80" width="12" height="1" fill="#30424e"/><rect x="321" y="81" width="12" height="2" fill="#2a4e60"/><rect x="321" y="83" width="12" height="1" fill="#2a5a72"/><rect x="321" y="84" width="12" height="1" fill="#247290"/><rect x="321" y="85" width="12" height="1" fill="#247896"/><rect x="321" y="86" width="12" height="1" fill="#246684"/><rect x="321" y="87" width="12" height="1" fill="#2a5466"/><rect x="321" y="88" width="12" height="1" fill="#2a6078"/><rect x="321" y="89" width="12" height="1" fill="#303c42"/><rect x="321" y="90" width="12" height="1" fill="#362a30"/><rect x="321" y="91" width="12" height="1" fill="#664248"/><rect x="321" y="92" width="12" height="1" fill="#604242"/><rect x="321" y="93" width="12" height="1" fill="#8a545a"/><rect x="321" y="94" width="12" height="1" fill="#5a3c42"/><rect x="321" y="95" width="12" height="1" fill="#664248"/><rect x="321" y="96" width="12" height="1" fill="#3c3030"/><rect x="321" y="97" width="12" height="1" fill="#664248"/><rect x="321" y="98" width="12" height="1" fill="#6c4848"/><rect x="321" y="99" width="12" height="1" fill="#5a3c42"/><rect x="321" y="100" width="12" height="1" fill="#784e4e"/><rect x="321" y="101" width="12" height="1" fill="#6c4848"/><rect x="321" y="102" width="12" height="1" fill="#2a6078"/><rect x="321" y="103" width="12" height="1" fill="#a86666"/><rect x="321" y="104" width="12" height="1" fill="#7e4e54"/><rect x="321" y="105" width="12" height="1" fill="#9c6066"/><rect x="321" y="106" width="12" height="1" fill="#c6787e"/><rect x="321" y="107" width="12" height="1" fill="#9c6066"/><rect x="321" y="108" width="12" height="1" fill="#905a5a"/><rect x="321" y="109" width="12" height="1" fill="#784e54"/><rect x="321" y="110" width="12" height="1" fill="#9c6060"/><rect x="321" y="111" width="12" height="1" fill="#966060"/><rect x="321" y="112" width="12" height="1" fill="#72484e"/><rect x="321" y="113" width="12" height="1" fill="#48363c"/><rect x="321" y="114" width="12" height="1" fill="#6c4848"/><rect x="321" y="115" width="12" height="1" fill="#72484e"/><rect x="321" y="116" width="12" height="1" fill="#8a545a"/><rect x="321" y="117" width="12" height="1" fill="#3c3036"/><rect x="321" y="118" width="12" height="1" fill="#784e4e"/><rect x="321" y="119" width="12" height="1" fill="#423636"/><rect x="321" y="120" width="12" height="1" fill="#543c42"/><rect x="321" y="121" width="12" height="1" fill="#30424e"/><rect x="321" y="122" width="12" height="1" fill="#304254"/><rect x="321" y="123" width="12" height="1" fill="#303036"/><rect x="321" y="124" width="12" height="1" fill="#664848"/><rect x="321" y="125" width="12" height="1" fill="#5a3c42"/><rect x="321" y="126" width="12" height="2" fill="#965a60"/><rect x="321" y="128" width="12" height="1" fill="#90545a"/><rect x="321" y="129" width="12" height="1" fill="#905a5a"/><rect x="321" y="130" width="12" height="1" fill="#a26066"/><rect x="321" y="131" width="12" height="1" fill="#784e4e"/><rect x="321" y="132" width="12" height="1" fill="#72484e"/><rect x="321" y="133" width="12" height="1" fill="#845454"/><rect x="321" y="134" width="12" height="1" fill="#2a5466"/><rect x="321" y="135" width="12" height="1" fill="#304854"/><rect x="321" y="136" width="12" height="1" fill="#423636"/><rect x="321" y="137" width="12" height="1" fill="#2a5a72"/><rect x="321" y="138" width="12" height="1" fill="#304854"/><rect x="321" y="139" width="12" height="1" fill="#48363c"/><rect x="321" y="140" width="12" height="1" fill="#2a6078"/><rect x="321" y="141" width="12" height="1" fill="#303c42"/><rect x="321" y="142" width="12" height="1" fill="#604248"/><rect x="321" y="143" width="12" height="1" fill="#423036"/><rect x="321" y="144" width="12" height="1" fill="#362a30"/><rect x="321" y="145" width="12" height="1" fill="#2a485a"/><rect x="321" y="146" width="12" height="1" fill="#423636"/><rect x="321" y="147" width="12" height="1" fill="#6c484e"/><rect x="321" y="148" width="12" height="1" fill="#543c3c"/><rect x="321" y="149" width="12" height="1" fill="#604248"/><rect x="321" y="150" width="12" height="1" fill="#423036"/><rect x="321" y="151" width="12" height="1" fill="#543c3c"/><rect x="333" y="30" width="12" height="1" fill="#a86666"/><rect x="333" y="31" width="12" height="1" fill="#72484e"/><rect x="333" y="32" width="12" height="1" fill="#cc7e7e"/><rect x="333" y="33" width="12" height="1" fill="#965a60"/><rect x="333" y="34" width="12" height="1" fill="#845454"/><rect x="333" y="35" width="12" height="1" fill="#c07878"/><rect x="333" y="36" width="12" height="1" fill="#966060"/><rect x="333" y="37" width="12" height="1" fill="#784e4e"/><rect x="333" y="38" width="12" height="1" fill="#a8666c"/><rect x="333" y="39" width="12" height="1" fill="#965a60"/><rect x="333" y="40" width="12" height="1" fill="#30303c"/><rect x="333" y="41" width="12" height="1" fill="#6c4848"/><rect x="333" y="42" width="12" height="1" fill="#965a5a"/><rect x="333" y="43" width="12" height="1" fill="#72484e"/><rect x="333" y="44" width="12" height="1" fill="#543c3c"/><rect x="333" y="45" width="12" height="1" fill="#664848"/><rect x="333" y="46" width="12" height="2" fill="#8a545a"/><rect x="333" y="48" width="12" height="1" fill="#7e4e54"/><rect x="333" y="49" width="12" height="1" fill="#8a545a"/><rect x="333" y="50" width="12" height="1" fill="#9c6066"/><rect x="333" y="51" width="12" height="1" fill="#3c3036"/><rect x="333" y="52" width="12" height="1" fill="#664248"/><rect x="333" y="53" width="12" height="1" fill="#a8666c"/><rect x="333" y="54" width="12" height="1" fill="#845454"/><rect x="333" y="55" width="12" height="1" fill="#784e4e"/><rect x="333" y="56" width="12" height="1" fill="#604248"/><rect x="333" y="57" width="12" height="1" fill="#784e4e"/><rect x="333" y="58" width="12" height="1" fill="#5a3c42"/><rect x="333" y="59" width="12" height="1" fill="#72484e"/><rect x="333" y="60" width="12" height="1" fill="#784e4e"/><rect x="333" y="61" width="12" height="1" fill="#966060"/><rect x="333" y="62" width="12" height="1" fill="#c07878"/><rect x="333" y="63" width="12" height="1" fill="#7e4e54"/><rect x="333" y="64" width="12" height="1" fill="#9c6060"/><rect x="333" y="65" width="12" height="1" fill="#a26066"/><rect x="333" y="66" width="12" height="1" fill="#724e4e"/><rect x="333" y="67" width="12" height="1" fill="#905a5a"/><rect x="333" y="68" width="12" height="1" fill="#7e4e54"/><rect x="333" y="69" width="12" height="1" fill="#844e54"/><rect x="333" y="70" width="12" height="1" fill="#965a60"/><rect x="333" y="71" width="12" height="1" fill="#845454"/><rect x="333" y="72" width="12" height="1" fill="#8a545a"/><rect x="333" y="73" width="12" height="1" fill="#ba7272"/><rect x="333" y="74" width="12" height="1" fill="#a8666c"/><rect x="333" y="75" width="12" height="1" fill="#ae6c6c"/><rect x="333" y="76" width="12" height="1" fill="#9c6060"/><rect x="333" y="77" width="12" height="1" fill="#8a545a"/><rect x="333" y="78" width="12" height="1" fill="#7e4e54"/><rect x="333" y="79" width="12" height="1" fill="#ae6c6c"/><rect x="333" y="80" width="12" height="1" fill="#905a5a"/><rect x="333" y="81" width="12" height="1" fill="#604242"/><rect x="333" y="82" width="12" height="1" fill="#423036"/><rect x="333" y="83" width="12" height="1" fill="#362a30"/><rect x="333" y="84" width="12" height="1" fill="#6c4848"/><rect x="333" y="85" width="12" height="1" fill="#543c42"/><rect x="333" y="86" width="12" height="1" fill="#664248"/><rect x="333" y="87" width="12" height="1" fill="#9c6060"/><rect x="333" y="88" width="12" height="1" fill="#8a545a"/><rect x="333" y="89" width="12" height="1" fill="#604242"/><rect x="333" y="90" width="12" height="1" fill="#304248"/><rect x="333" y="91" width="12" height="1" fill="#2a6078"/><rect x="333" y="92" width="12" height="1" fill="#363036"/><rect x="333" y="93" width="12" height="1" fill="#2a4e5a"/><rect x="333" y="94" width="12" height="1" fill="#2a6078"/><rect x="333" y="95" width="12" height="1" fill="#304254"/><rect x="333" y="96" width="12" height="1" fill="#8a545a"/><rect x="333" y="97" width="12" height="1" fill="#30363c"/><rect x="333" y="98" width="12" height="1" fill="#a26066"/><rect x="333" y="99" width="12" height="1" fill="#784e4e"/><rect x="333" y="100" width="12" height="1" fill="#363030"/><rect x="333" y="101" width="12" height="1" fill="#30363c"/><rect x="333" y="102" width="12" height="1" fill="#303c48"/><rect x="333" y="103" width="12" height="1" fill="#247ea2"/><rect x="333" y="104" width="12" height="1" fill="#1e84ae"/><rect x="333" y="105" width="12" height="1" fill="#1e90c0"/><rect x="333" y="106" width="12" height="1" fill="#18aee4"/><rect x="333" y="107" width="12" height="1" fill="#189ccc"/><rect x="333" y="108" width="12" height="1" fill="#1e84ae"/><rect x="333" y="109" width="12" height="1" fill="#18a2d8"/><rect x="333" y="110" width="12" height="1" fill="#1e96c0"/><rect x="333" y="111" width="12" height="1" fill="#18aee4"/><rect x="333" y="112" width="12" height="1" fill="#18a2d8"/><rect x="333" y="113" width="12" height="1" fill="#1e8ab4"/><rect x="333" y="114" width="12" height="1" fill="#18aee4"/><rect x="333" y="115" width="12" height="1" fill="#1e8aba"/><rect x="333" y="116" width="12" height="1" fill="#18a2d2"/><rect x="333" y="117" width="12" height="1" fill="#1e90c0"/><rect x="333" y="118" width="12" height="1" fill="#1896c6"/><rect x="333" y="119" width="12" height="1" fill="#189cd2"/><rect x="333" y="120" width="12" height="2" fill="#18aee4"/><rect x="333" y="122" width="12" height="1" fill="#1e96c0"/><rect x="333" y="123" width="12" height="1" fill="#1e84ae"/><rect x="333" y="124" width="12" height="1" fill="#18aee4"/><rect x="333" y="125" width="12" height="1" fill="#189cd2"/><rect x="333" y="126" width="12" height="1" fill="#18aee4"/><rect x="333" y="127" width="12" height="1" fill="#189ccc"/><rect x="333" y="128" width="12" height="1" fill="#1896c6"/><rect x="333" y="129" width="12" height="1" fill="#18a8de"/><rect x="333" y="130" width="12" height="1" fill="#18a2d2"/><rect x="333" y="131" width="12" height="1" fill="#1e96c0"/><rect x="333" y="132" width="12" height="1" fill="#18a2d2"/><rect x="333" y="133" width="12" height="1" fill="#18aee4"/><rect x="333" y="134" width="12" height="1" fill="#1e90ba"/><rect x="333" y="135" width="12" height="1" fill="#1e8ab4"/><rect x="333" y="136" width="12" height="1" fill="#18a8d8"/><rect x="333" y="137" width="12" height="1" fill="#1896c6"/><rect x="333" y="138" width="12" height="1" fill="#1e90c0"/><rect x="333" y="139" width="12" height="1" fill="#1896c6"/><rect x="333" y="140" width="12" height="1" fill="#1e96c0"/><rect x="333" y="141" width="12" height="1" fill="#1e96c6"/><rect x="333" y="142" width="12" height="1" fill="#18a8e4"/><rect x="333" y="143" width="12" height="1" fill="#1e8ab4"/><rect x="333" y="144" width="12" height="1" fill="#18a2d2"/><rect x="333" y="145" width="12" height="1" fill="#18aee4"/><rect x="333" y="146" width="12" height="1" fill="#189ccc"/><rect x="333" y="147" width="12" height="2" fill="#18aee4"/><rect x="333" y="149" width="12" height="2" fill="#18a2d2"/><rect x="333" y="151" width="12" height="1" fill="#18aee4"/><rect x="345" y="30" width="12" height="2" fill="#965a60"/><rect x="345" y="32" width="12" height="1" fill="#ae6c6c"/><rect x="345" y="33" width="12" height="1" fill="#7e4e54"/><rect x="345" y="34" width="12" height="1" fill="#845454"/><rect x="345" y="35" width="12" height="1" fill="#a26066"/><rect x="345" y="36" width="12" height="2" fill="#965a60"/><rect x="345" y="38" width="12" height="1" fill="#7e4e54"/><rect x="345" y="39" width="12" height="1" fill="#72484e"/><rect x="345" y="40" width="12" height="1" fill="#3c3036"/><rect x="345" y="41" width="12" height="1" fill="#905a5a"/><rect x="345" y="42" width="12" height="1" fill="#b46c72"/><rect x="345" y="43" width="12" height="1" fill="#966060"/><rect x="345" y="44" width="12" height="1" fill="#a26666"/><rect x="345" y="45" width="12" height="1" fill="#905a5a"/><rect x="345" y="46" width="12" height="1" fill="#965a60"/><rect x="345" y="47" width="12" height="1" fill="#905a5a"/><rect x="345" y="48" width="12" height="1" fill="#8a545a"/><rect x="345" y="49" width="12" height="1" fill="#965a60"/><rect x="345" y="50" width="12" height="1" fill="#845454"/><rect x="345" y="51" width="12" height="1" fill="#965a5a"/><rect x="345" y="52" width="12" height="1" fill="#543c42"/><rect x="345" y="53" width="12" height="1" fill="#664248"/><rect x="345" y="54" width="12" height="1" fill="#8a545a"/><rect x="345" y="55" width="12" height="1" fill="#9c6060"/><rect x="345" y="56" width="12" height="1" fill="#6c4848"/><rect x="345" y="57" width="12" height="1" fill="#5a3c42"/><rect x="345" y="58" width="12" height="1" fill="#664248"/><rect x="345" y="59" width="12" height="1" fill="#7e4e54"/><rect x="345" y="60" width="12" height="1" fill="#a26666"/><rect x="345" y="61" width="12" height="1" fill="#6c4848"/><rect x="345" y="62" width="12" height="1" fill="#5a3c42"/><rect x="345" y="63" width="12" height="1" fill="#ba7272"/><rect x="345" y="64" width="12" height="2" fill="#48363c"/><rect x="345" y="66" width="12" height="1" fill="#483636"/><rect x="345" y="67" width="12" height="1" fill="#784e4e"/><rect x="345" y="68" width="12" height="1" fill="#9c6066"/><rect x="345" y="69" width="12" height="1" fill="#72484e"/><rect x="345" y="70" width="12" height="1" fill="#2a546c"/><rect x="345" y="71" width="12" height="1" fill="#304854"/><rect x="345" y="72" width="12" height="1" fill="#247290"/><rect x="345" y="73" width="12" height="1" fill="#363030"/><rect x="345" y="74" width="12" height="1" fill="#30363c"/><rect x="345" y="75" width="12" height="1" fill="#4e363c"/><rect x="345" y="76" width="12" height="1" fill="#3c3036"/><rect x="345" y="77" width="12" height="1" fill="#304254"/><rect x="345" y="78" width="12" height="1" fill="#965a60"/><rect x="345" y="79" width="12" height="1" fill="#845454"/><rect x="345" y="80" width="12" height="1" fill="#9c6060"/><rect x="345" y="81" width="12" height="1" fill="#b46c72"/><rect x="345" y="82" width="12" height="1" fill="#a26666"/><rect x="345" y="83" width="12" height="1" fill="#90545a"/><rect x="345" y="84" width="12" height="1" fill="#8a5454"/><rect x="345" y="85" width="12" height="2" fill="#5a4242"/><rect x="345" y="87" width="12" height="1" fill="#48363c"/><rect x="345" y="88" width="12" height="2" fill="#8a545a"/><rect x="345" y="90" width="12" height="1" fill="#9c6060"/><rect x="345" y="91" width="12" height="1" fill="#6c484e"/><rect x="345" y="92" width="12" height="1" fill="#72484e"/><rect x="345" y="93" width="12" height="1" fill="#5a3c42"/><rect x="345" y="94" width="12" height="1" fill="#6c484e"/><rect x="345" y="95" width="12" height="1" fill="#9c6060"/><rect x="345" y="96" width="12" height="1" fill="#72484e"/><rect x="345" y="97" width="12" height="2" fill="#8a545a"/><rect x="345" y="99" width="12" height="1" fill="#a26666"/><rect x="345" y="100" width="12" height="1" fill="#5a3c42"/><rect x="345" y="101" width="12" height="1" fill="#664248"/><rect x="345" y="102" width="12" height="1" fill="#7e4e54"/><rect x="345" y="103" width="12" height="1" fill="#1e84a8"/><rect x="345" y="104" width="12" height="2" fill="#2a5a72"/><rect x="345" y="106" width="12" height="1" fill="#1e8aae"/><rect x="345" y="107" width="12" height="1" fill="#1e90ba"/><rect x="345" y="108" width="12" height="1" fill="#247896"/><rect x="345" y="109" width="12" height="1" fill="#247ea2"/><rect x="345" y="110" width="12" height="1" fill="#18a2d8"/><rect x="345" y="111" width="12" height="1" fill="#24789c"/><rect x="345" y="112" width="12" height="1" fill="#2a5a72"/><rect x="345" y="113" width="12" height="1" fill="#24789c"/><rect x="345" y="114" width="12" height="1" fill="#1e84ae"/><rect x="345" y="115" width="12" height="2" fill="#1e7ea2"/><rect x="345" y="117" width="12" height="2" fill="#24789c"/><rect x="345" y="119" width="12" height="1" fill="#1e90c0"/><rect x="345" y="120" width="12" height="1" fill="#18a2d8"/><rect x="345" y="121" width="12" height="1" fill="#1e8aba"/><rect x="345" y="122" width="12" height="1" fill="#246c8a"/><rect x="345" y="123" width="12" height="1" fill="#1e84ae"/><rect x="345" y="124" width="12" height="1" fill="#1e90ba"/><rect x="345" y="125" width="12" height="1" fill="#1e7ea2"/><rect x="345" y="126" width="12" height="1" fill="#1e84ae"/><rect x="345" y="127" width="12" height="1" fill="#2a6078"/><rect x="345" y="128" width="12" height="1" fill="#247296"/><rect x="345" y="129" width="12" height="1" fill="#246c8a"/><rect x="345" y="130" width="12" height="2" fill="#24789c"/><rect x="345" y="132" width="12" height="1" fill="#2a4e60"/><rect x="345" y="133" width="12" height="1" fill="#2a5466"/><rect x="345" y="134" width="12" height="1" fill="#2a5a72"/><rect x="345" y="135" width="12" height="1" fill="#304854"/><rect x="345" y="136" width="12" height="1" fill="#2a6078"/><rect x="345" y="137" width="12" height="1" fill="#303c42"/><rect x="345" y="138" width="12" height="1" fill="#303c48"/><rect x="345" y="139" width="12" height="1" fill="#304854"/><rect x="345" y="140" width="12" height="1" fill="#5a3c42"/><rect x="345" y="141" width="12" height="1" fill="#2a4e60"/><rect x="345" y="142" width="12" height="1" fill="#2a5a72"/><rect x="345" y="143" width="12" height="1" fill="#362a30"/><rect x="345" y="144" width="12" height="1" fill="#247ea2"/><rect x="345" y="145" width="12" height="1" fill="#2a546c"/><rect x="345" y="146" width="12" height="1" fill="#2a5466"/><rect x="345" y="147" width="12" height="1" fill="#247296"/><rect x="345" y="148" width="12" height="1" fill="#246c84"/><rect x="345" y="149" width="12" height="1" fill="#2a4e60"/><rect x="345" y="150" width="12" height="1" fill="#2a607e"/><rect x="345" y="151" width="12" height="1" fill="#304854"/><rect x="357" y="30" width="12" height="1" fill="#965a60"/><rect x="357" y="31" width="12" height="1" fill="#905a5a"/><rect x="357" y="32" width="12" height="1" fill="#ba7278"/><rect x="357" y="33" width="12" height="1" fill="#b46c72"/><rect x="357" y="34" width="12" height="1" fill="#4e3c3c"/><rect x="357" y="35" width="12" height="1" fill="#8a545a"/><rect x="357" y="36" width="12" height="1" fill="#2a4e60"/><rect x="357" y="37" width="12" height="1" fill="#1e8aae"/><rect x="357" y="38" width="12" height="1" fill="#246c8a"/><rect x="357" y="39" width="12" height="1" fill="#24789c"/><rect x="357" y="40" width="12" height="1" fill="#246684"/><rect x="357" y="41" width="12" height="1" fill="#247296"/><rect x="357" y="42" width="12" height="1" fill="#2a5a72"/><rect x="357" y="43" width="12" height="1" fill="#246c8a"/><rect x="357" y="44" width="12" height="1" fill="#2a5466"/><rect x="357" y="45" width="12" height="1" fill="#48363c"/><rect x="357" y="46" width="12" height="1" fill="#247290"/><rect x="357" y="47" width="12" height="1" fill="#247896"/><rect x="357" y="48" width="12" height="1" fill="#2a5466"/><rect x="357" y="49" width="12" height="1" fill="#246c8a"/><rect x="357" y="50" width="12" height="1" fill="#2a5a72"/><rect x="357" y="51" width="12" height="1" fill="#247290"/><rect x="357" y="52" width="12" height="1" fill="#2a5466"/><rect x="357" y="53" width="12" height="1" fill="#247ea2"/><rect x="357" y="54" width="12" height="1" fill="#2a546c"/><rect x="357" y="55" width="12" height="1" fill="#247290"/><rect x="357" y="56" width="12" height="1" fill="#246684"/><rect x="357" y="57" width="12" height="1" fill="#2a5a6c"/><rect x="357" y="58" width="12" height="1" fill="#24667e"/><rect x="357" y="59" width="12" height="1" fill="#246c84"/><rect x="357" y="60" width="12" height="1" fill="#604242"/><rect x="357" y="61" width="12" height="1" fill="#7e4e54"/><rect x="357" y="62" width="12" height="1" fill="#905a5a"/><rect x="357" y="63" width="12" height="1" fill="#a26066"/><rect x="357" y="64" width="12" height="1" fill="#664248"/><rect x="357" y="65" width="12" height="1" fill="#784e4e"/><rect x="357" y="66" width="12" height="2" fill="#845454"/><rect x="357" y="68" width="12" height="1" fill="#965a60"/><rect x="357" y="69" width="12" height="1" fill="#965a5a"/><rect x="357" y="70" width="12" height="1" fill="#9c6060"/><rect x="357" y="71" width="12" height="1" fill="#a26666"/><rect x="357" y="72" width="12" height="1" fill="#664248"/><rect x="357" y="73" width="12" height="1" fill="#ba7272"/><rect x="357" y="74" width="12" height="1" fill="#a26666"/><rect x="357" y="75" width="12" height="1" fill="#905a5a"/><rect x="357" y="76" width="12" height="1" fill="#845454"/><rect x="357" y="77" width="12" height="1" fill="#6c4848"/><rect x="357" y="78" width="12" height="1" fill="#604242"/><rect x="357" y="79" width="12" height="1" fill="#965a60"/><rect x="357" y="80" width="12" height="1" fill="#8a5454"/><rect x="357" y="81" width="12" height="1" fill="#6c484e"/><rect x="357" y="82" width="12" height="1" fill="#905a5a"/><rect x="357" y="83" width="12" height="1" fill="#ae6c6c"/><rect x="357" y="84" width="12" height="2" fill="#a8666c"/><rect x="357" y="86" width="12" height="1" fill="#965a60"/><rect x="357" y="87" width="12" height="1" fill="#ae6c6c"/><rect x="357" y="88" width="12" height="1" fill="#d88a8a"/><rect x="357" y="89" width="12" height="1" fill="#de8a90"/><rect x="357" y="90" width="12" height="1" fill="#ea9090"/><rect x="357" y="91" width="12" height="1" fill="#ae6c6c"/><rect x="357" y="92" width="12" height="1" fill="#ea9090"/><rect x="357" y="93" width="12" height="2" fill="#a8666c"/><rect x="357" y="95" width="12" height="1" fill="#8a545a"/><rect x="357" y="96" width="12" height="1" fill="#cc7e7e"/><rect x="357" y="97" width="12" height="1" fill="#a26066"/><rect x="357" y="98" width="12" height="2" fill="#ae6c6c"/><rect x="357" y="100" width="12" height="1" fill="#7e4e54"/><rect x="357" y="101" width="12" height="1" fill="#784e4e"/><rect x="357" y="102" width="12" height="1" fill="#8a545a"/><rect x="357" y="103" width="12" height="1" fill="#2a546c"/><rect x="357" y="104" width="12" height="2" fill="#303c48"/><rect x="357" y="106" width="12" height="1" fill="#246c8a"/><rect x="357" y="107" width="12" height="1" fill="#1e96c0"/><rect x="357" y="108" width="12" height="1" fill="#304854"/><rect x="357" y="109" width="12" height="1" fill="#30424e"/><rect x="357" y="110" width="12" height="1" fill="#24789c"/><rect x="357" y="111" width="12" height="1" fill="#247290"/><rect x="357" y="112" width="12" height="1" fill="#2a5a72"/><rect x="357" y="113" width="12" height="1" fill="#2a546c"/><rect x="357" y="114" width="12" height="1" fill="#246c8a"/><rect x="357" y="115" width="12" height="1" fill="#247290"/><rect x="357" y="116" width="12" height="1" fill="#2a4e60"/><rect x="357" y="117" width="12" height="1" fill="#2a607e"/><rect x="357" y="118" width="12" height="1" fill="#2a667e"/><rect x="357" y="119" width="12" height="1" fill="#2a4e60"/><rect x="357" y="120" width="12" height="1" fill="#2a6078"/><rect x="357" y="121" width="12" height="1" fill="#30485a"/><rect x="357" y="122" width="12" height="1" fill="#30424e"/><rect x="357" y="123" width="12" height="1" fill="#247296"/><rect x="357" y="124" width="12" height="1" fill="#24667e"/><rect x="357" y="125" width="12" height="1" fill="#1e84ae"/><rect x="357" y="126" width="12" height="1" fill="#1e8ab4"/><rect x="357" y="127" width="12" height="1" fill="#1e7ea2"/><rect x="357" y="128" width="12" height="1" fill="#2a5a72"/><rect x="357" y="129" width="12" height="1" fill="#247ea2"/><rect x="357" y="130" width="12" height="1" fill="#1e84ae"/><rect x="357" y="131" width="12" height="2" fill="#246c8a"/><rect x="357" y="133" width="12" height="1" fill="#24667e"/><rect x="357" y="134" width="12" height="1" fill="#24789c"/><rect x="357" y="135" width="12" height="1" fill="#246684"/><rect x="357" y="136" width="12" height="1" fill="#246c8a"/><rect x="357" y="137" width="12" height="1" fill="#2a5a6c"/><rect x="357" y="138" width="12" height="1" fill="#247896"/><rect x="357" y="139" width="12" height="1" fill="#247296"/><rect x="357" y="140" width="12" height="1" fill="#303c48"/><rect x="357" y="141" width="12" height="1" fill="#2a5a6c"/><rect x="357" y="142" width="12" height="1" fill="#247290"/><rect x="357" y="143" width="12" height="1" fill="#303642"/><rect x="357" y="144" width="12" height="1" fill="#2a4e60"/><rect x="357" y="145" width="12" height="1" fill="#30424e"/><rect x="357" y="146" width="12" height="1" fill="#1e7ea8"/><rect x="357" y="147" width="12" height="1" fill="#247290"/><rect x="357" y="148" width="12" height="1" fill="#1e84a8"/><rect x="357" y="149" width="12" height="1" fill="#247290"/><rect x="357" y="150" width="12" height="1" fill="#247896"/><rect x="357" y="151" width="12" height="1" fill="#246c84"/><rect x="369" y="30" width="12" height="1" fill="#845454"/><rect x="369" y="31" width="12" height="1" fill="#965a60"/><rect x="369" y="32" width="12" height="1" fill="#9c6060"/><rect x="369" y="33" width="12" height="2" fill="#8a545a"/><rect x="369" y="35" width="12" height="2" fill="#a26666"/><rect x="369" y="37" width="12" height="1" fill="#8a545a"/><rect x="369" y="38" width="12" height="1" fill="#72484e"/><rect x="369" y="39" width="12" height="1" fill="#6c4848"/><rect x="369" y="40" width="12" height="1" fill="#72484e"/><rect x="369" y="41" width="12" height="1" fill="#8a545a"/><rect x="369" y="42" width="12" height="1" fill="#c07878"/><rect x="369" y="43" width="12" height="1" fill="#7e4e54"/><rect x="369" y="44" width="12" height="1" fill="#965a60"/><rect x="369" y="45" width="12" height="1" fill="#845454"/><rect x="369" y="46" width="12" height="1" fill="#9c6060"/><rect x="369" y="47" width="12" height="1" fill="#7e4e54"/><rect x="369" y="48" width="12" height="1" fill="#845454"/><rect x="369" y="49" width="12" height="1" fill="#72484e"/><rect x="369" y="50" width="12" height="1" fill="#9c6060"/><rect x="369" y="51" width="12" height="1" fill="#8a545a"/><rect x="369" y="52" width="12" height="2" fill="#72484e"/><rect x="369" y="54" width="12" height="2" fill="#9c6060"/><rect x="369" y="56" width="12" height="1" fill="#72484e"/><rect x="369" y="57" width="12" height="1" fill="#845454"/><rect x="369" y="58" width="12" height="1" fill="#6c4848"/><rect x="369" y="59" width="12" height="1" fill="#604242"/><rect x="369" y="60" width="12" height="1" fill="#604248"/><rect x="369" y="61" width="12" height="1" fill="#7e4e54"/><rect x="369" y="62" width="12" height="1" fill="#664248"/><rect x="369" y="63" width="12" height="1" fill="#6c4848"/><rect x="369" y="64" width="12" height="1" fill="#7e4e54"/><rect x="369" y="65" width="12" height="1" fill="#6c4848"/><rect x="369" y="66" width="12" height="1" fill="#604248"/><rect x="369" y="67" width="12" height="1" fill="#a26066"/><rect x="369" y="68" width="12" height="1" fill="#905a5a"/><rect x="369" y="69" width="12" height="1" fill="#72484e"/><rect x="369" y="70" width="12" height="1" fill="#845454"/><rect x="369" y="71" width="12" height="1" fill="#90545a"/><rect x="369" y="72" width="12" height="1" fill="#a26066"/><rect x="369" y="73" width="12" height="1" fill="#9c6060"/><rect x="369" y="74" width="12" height="1" fill="#72484e"/><rect x="369" y="75" width="12" height="1" fill="#965a60"/><rect x="369" y="76" width="12" height="1" fill="#ae6c6c"/><rect x="369" y="77" width="12" height="1" fill="#905a5a"/><rect x="369" y="78" width="12" height="1" fill="#965a5a"/><rect x="369" y="79" width="12" height="1" fill="#a8666c"/><rect x="369" y="80" width="12" height="1" fill="#905a5a"/><rect x="369" y="81" width="12" height="1" fill="#6c4848"/><rect x="369" y="82" width="12" height="1" fill="#8a545a"/><rect x="369" y="83" width="12" height="1" fill="#845454"/><rect x="369" y="84" width="12" height="1" fill="#72484e"/><rect x="369" y="85" width="12" height="1" fill="#8a545a"/><rect x="369" y="86" width="12" height="1" fill="#a86666"/><rect x="369" y="87" width="12" height="1" fill="#9c6066"/><rect x="369" y="88" width="12" height="1" fill="#5a3c42"/><rect x="369" y="89" width="12" height="1" fill="#48363c"/><rect x="369" y="90" width="12" height="1" fill="#303c48"/><rect x="369" y="91" width="12" height="1" fill="#2a5a72"/><rect x="369" y="92" width="12" height="1" fill="#30424e"/><rect x="369" y="93" width="12" height="1" fill="#2a4e5a"/><rect x="369" y="94" width="12" height="1" fill="#2a6078"/><rect x="369" y="95" width="12" height="1" fill="#246684"/><rect x="369" y="96" width="12" height="1" fill="#303642"/><rect x="369" y="97" width="12" height="1" fill="#1e84a8"/><rect x="369" y="98" width="12" height="1" fill="#303c42"/><rect x="369" y="99" width="12" height="1" fill="#304254"/><rect x="369" y="100" width="12" height="2" fill="#247290"/><rect x="369" y="102" width="12" height="1" fill="#246c8a"/><rect x="369" y="103" width="12" height="1" fill="#24789c"/><rect x="369" y="104" width="12" height="1" fill="#246c8a"/><rect x="369" y="105" width="12" height="1" fill="#247296"/><rect x="369" y="106" width="12" height="1" fill="#247896"/><rect x="369" y="107" width="12" height="1" fill="#247290"/><rect x="369" y="108" width="12" height="1" fill="#2a607e"/><rect x="369" y="109" width="12" height="1" fill="#24789c"/><rect x="369" y="110" width="12" height="1" fill="#1e90ba"/><rect x="369" y="111" width="12" height="2" fill="#1e7ea2"/><rect x="369" y="113" width="12" height="1" fill="#2a5a72"/><rect x="369" y="114" width="12" height="1" fill="#247896"/><rect x="369" y="115" width="12" height="1" fill="#1e7ea8"/><rect x="369" y="116" width="12" height="1" fill="#247290"/><rect x="369" y="117" width="12" height="2" fill="#246c8a"/><rect x="369" y="119" width="12" height="1" fill="#246684"/><rect x="369" y="120" width="12" height="1" fill="#1e96c0"/><rect x="369" y="121" width="12" height="1" fill="#247ea2"/><rect x="369" y="122" width="12" height="1" fill="#246684"/><rect x="369" y="123" width="12" height="1" fill="#246c84"/><rect x="369" y="124" width="12" height="1" fill="#1e84a8"/><rect x="369" y="125" width="12" height="1" fill="#48363c"/><rect x="369" y="126" width="12" height="1" fill="#303c42"/><rect x="369" y="127" width="12" height="1" fill="#543c42"/><rect x="369" y="128" width="12" height="1" fill="#363030"/><rect x="369" y="129" width="12" height="1" fill="#664248"/><rect x="369" y="130" width="12" height="1" fill="#48363c"/><rect x="369" y="131" width="12" height="1" fill="#7e4e54"/><rect x="369" y="132" width="12" height="1" fill="#6c4848"/><rect x="369" y="133" width="12" height="1" fill="#5a3c42"/><rect x="369" y="134" width="12" height="1" fill="#543c3c"/><rect x="369" y="135" width="12" height="1" fill="#4e3c3c"/><rect x="369" y="136" width="12" height="1" fill="#2a4e60"/><rect x="369" y="137" width="12" height="2" fill="#2a5a6c"/><rect x="369" y="139" width="12" height="1" fill="#247296"/><rect x="369" y="140" width="12" height="1" fill="#2a4e60"/><rect x="369" y="141" width="12" height="1" fill="#2a5a72"/><rect x="369" y="142" width="12" height="1" fill="#1e84ae"/><rect x="369" y="143" width="12" height="1" fill="#246684"/><rect x="369" y="144" width="12" height="1" fill="#2a5a72"/><rect x="369" y="145" width="12" height="1" fill="#246c84"/><rect x="369" y="146" width="12" height="2" fill="#2a546c"/><rect x="369" y="148" width="12" height="1" fill="#2a667e"/><rect x="369" y="149" width="12" height="1" fill="#2a5a6c"/><rect x="369" y="150" width="12" height="1" fill="#30485a"/><rect x="369" y="151" width="12" height="1" fill="#303c48"/><rect x="381" y="30" width="12" height="1" fill="#845454"/><rect x="381" y="31" width="12" height="1" fill="#4e363c"/><rect x="381" y="32" width="12" height="1" fill="#a8666c"/><rect x="381" y="33" width="12" height="1" fill="#905a5a"/><rect x="381" y="34" width="12" height="1" fill="#784e4e"/><rect x="381" y="35" width="12" height="2" fill="#9c6060"/><rect x="381" y="37" width="12" height="1" fill="#905a5a"/><rect x="381" y="38" width="12" height="1" fill="#664248"/><rect x="381" y="39" width="12" height="1" fill="#905a5a"/><rect x="381" y="40" width="12" height="1" fill="#604242"/><rect x="381" y="41" width="12" height="1" fill="#905a5a"/><rect x="381" y="42" width="12" height="1" fill="#a8666c"/><rect x="381" y="43" width="12" height="1" fill="#7e4e54"/><rect x="381" y="44" width="12" height="2" fill="#965a60"/><rect x="381" y="46" width="12" height="1" fill="#9c6066"/><rect x="381" y="47" width="12" height="1" fill="#362a30"/><rect x="381" y="48" width="12" height="1" fill="#905a5a"/><rect x="381" y="49" width="12" height="1" fill="#543c42"/><rect x="381" y="50" width="12" height="1" fill="#1e7ea8"/><rect x="381" y="51" width="12" height="1" fill="#2a5466"/><rect x="381" y="52" width="12" height="1" fill="#247290"/><rect x="381" y="53" width="12" height="1" fill="#246c84"/><rect x="381" y="54" width="12" height="1" fill="#2a6078"/><rect x="381" y="55" width="12" height="1" fill="#2a5466"/><rect x="381" y="56" width="12" height="1" fill="#24789c"/><rect x="381" y="57" width="12" height="1" fill="#247290"/><rect x="381" y="58" width="12" height="2" fill="#24789c"/><rect x="381" y="60" width="12" height="1" fill="#246684"/><rect x="381" y="61" width="12" height="1" fill="#2a6078"/><rect x="381" y="62" width="12" height="1" fill="#2a607e"/><rect x="381" y="63" width="12" height="1" fill="#303036"/><rect x="381" y="64" width="12" height="1" fill="#2a6078"/><rect x="381" y="65" width="12" height="1" fill="#4e363c"/><rect x="381" y="66" width="12" height="1" fill="#543c3c"/><rect x="381" y="67" width="12" height="1" fill="#604248"/><rect x="381" y="68" width="12" height="1" fill="#784e4e"/><rect x="381" y="69" width="12" height="1" fill="#72484e"/><rect x="381" y="70" width="12" height="1" fill="#7e4e54"/><rect x="381" y="71" width="12" height="1" fill="#845454"/><rect x="381" y="72" width="12" height="1" fill="#72484e"/><rect x="381" y="73" width="12" height="1" fill="#905a5a"/><rect x="381" y="74" width="12" height="1" fill="#5a4242"/><rect x="381" y="75" width="12" height="1" fill="#965a60"/><rect x="381" y="76" width="12" height="1" fill="#6c484e"/><rect x="381" y="77" width="12" height="1" fill="#ae6c6c"/><rect x="381" y="78" width="12" height="1" fill="#b46c72"/><rect x="381" y="79" width="12" height="1" fill="#c07878"/><rect x="381" y="80" width="12" height="1" fill="#a26666"/><rect x="381" y="81" width="12" height="1" fill="#b46c72"/><rect x="381" y="82" width="12" height="1" fill="#9c6066"/><rect x="381" y="83" width="12" height="1" fill="#7e4e54"/><rect x="381" y="84" width="12" height="1" fill="#905a5a"/><rect x="381" y="85" width="12" height="1" fill="#c07878"/><rect x="381" y="86" width="12" height="1" fill="#a26666"/><rect x="381" y="87" width="12" height="1" fill="#d28484"/><rect x="381" y="88" width="12" height="1" fill="#c07878"/><rect x="381" y="89" width="12" height="1" fill="#ae6c6c"/><rect x="381" y="90" width="12" height="1" fill="#cc7e7e"/><rect x="381" y="91" width="12" height="1" fill="#a26666"/><rect x="381" y="92" width="12" height="1" fill="#d28484"/><rect x="381" y="93" width="12" height="1" fill="#ba7272"/><rect x="381" y="94" width="12" height="1" fill="#ae6c6c"/><rect x="381" y="95" width="12" height="1" fill="#c67e7e"/><rect x="381" y="96" width="12" height="1" fill="#cc7e7e"/><rect x="381" y="97" width="12" height="1" fill="#b46c72"/><rect x="381" y="98" width="12" height="1" fill="#de8a8a"/><rect x="381" y="99" width="12" height="1" fill="#d88a8a"/><rect x="381" y="100" width="12" height="1" fill="#a8666c"/><rect x="381" y="101" width="12" height="1" fill="#ba7272"/><rect x="381" y="102" width="12" height="1" fill="#ae6c6c"/><rect x="381" y="103" width="12" height="2" fill="#30424e"/><rect x="381" y="105" width="12" height="1" fill="#303c48"/><rect x="381" y="106" width="12" height="1" fill="#2a607e"/><rect x="381" y="107" width="12" height="1" fill="#246684"/><rect x="381" y="108" width="12" height="1" fill="#2a4e5a"/><rect x="381" y="109" width="12" height="1" fill="#304254"/><rect x="381" y="110" width="12" height="1" fill="#1e7ea8"/><rect x="381" y="111" width="12" height="1" fill="#30424e"/><rect x="381" y="112" width="12" height="1" fill="#2a5466"/><rect x="381" y="113" width="12" height="1" fill="#303642"/><rect x="381" y="114" width="12" height="1" fill="#2a5a6c"/><rect x="381" y="115" width="12" height="1" fill="#24789c"/><rect x="381" y="116" width="12" height="1" fill="#24667e"/><rect x="381" y="117" width="12" height="1" fill="#2a6078"/><rect x="381" y="118" width="12" height="1" fill="#246c8a"/><rect x="381" y="119" width="12" height="1" fill="#246c90"/><rect x="381" y="120" width="12" height="1" fill="#247296"/><rect x="381" y="121" width="12" height="1" fill="#24789c"/><rect x="381" y="122" width="12" height="1" fill="#2a5a6c"/><rect x="381" y="123" width="12" height="1" fill="#1e84a8"/><rect x="381" y="124" width="12" height="1" fill="#1e8ab4"/><rect x="381" y="125" width="12" height="1" fill="#1e84ae"/><rect x="381" y="126" width="12" height="1" fill="#1e90c0"/><rect x="381" y="127" width="12" height="1" fill="#1e84a8"/><rect x="381" y="128" width="12" height="1" fill="#1e8ab4"/><rect x="381" y="129" width="12" height="1" fill="#24789c"/><rect x="381" y="130" width="12" height="1" fill="#189cd2"/><rect x="381" y="131" width="12" height="1" fill="#18a2d8"/><rect x="381" y="132" width="12" height="1" fill="#1e90ba"/><rect x="381" y="133" width="12" height="1" fill="#1e84ae"/><rect x="381" y="134" width="12" height="1" fill="#246c8a"/><rect x="381" y="135" width="12" height="1" fill="#247296"/><rect x="381" y="136" width="12" height="1" fill="#1e90ba"/><rect x="381" y="137" width="12" height="1" fill="#2a5a72"/><rect x="381" y="138" width="12" height="1" fill="#246c8a"/><rect x="381" y="139" width="12" height="1" fill="#2a5466"/><rect x="381" y="140" width="12" height="1" fill="#2a4e60"/><rect x="381" y="141" width="12" height="2" fill="#246c8a"/><rect x="381" y="143" width="12" height="1" fill="#246684"/><rect x="381" y="144" width="12" height="1" fill="#2a5a72"/><rect x="381" y="145" width="12" height="1" fill="#1e84a8"/><rect x="381" y="146" width="12" height="1" fill="#2a5a6c"/><rect x="381" y="147" width="12" height="1" fill="#1e7ea8"/><rect x="381" y="148" width="12" height="1" fill="#247290"/><rect x="381" y="149" width="12" height="1" fill="#1e90c0"/><rect x="381" y="150" width="12" height="1" fill="#1e7ea2"/><rect x="381" y="151" width="12" height="1" fill="#1e8ab4"/></g></g><rect x="273.7" y="26.5" width="58.8" height="3.4" fill="#e8474c"/><rect x="332.5" y="26.5" width="60.2" height="3.4" fill="#f2c230"/><path d="M290.4 7.5L358.0 7.5M290.4 7.5L290.4 16.9M279.0 16.9L301.5 16.9M279.0 16.9L279.0 26.5M301.5 16.9L301.5 19.0M291.0 19.0L311.5 19.0M291.0 19.0L291.0 26.5M311.5 19.0L311.5 19.6M303.0 19.6L320.8 19.6M303.0 19.6L303.0 26.5M320.8 19.6L320.8 20.5M315.0 20.5L327.0 20.5M315.0 20.5L315.0 26.5M327.0 20.5L327.0 26.5M358.0 7.5L358.0 14.5M344.5 14.5L371.0 14.5M344.5 14.5L344.5 19.5M339.0 19.5L351.0 19.5M339.0 19.5L339.0 26.5M351.0 19.5L351.0 26.5M371.0 14.5L371.0 18.5M363.0 18.5L380.0 18.5M363.0 18.5L363.0 26.5M380.0 18.5L380.0 19.8M375.0 19.8L387.0 19.8M375.0 19.8L375.0 26.5M387.0 19.8L387.0 26.5" stroke="#7a7a7a" stroke-width="0.55" fill="none"/><path d="M267.99 30.50L267.99 31.50M265.76 31.00L267.99 31.00M265.76 31.00L265.76 32.50M267.00 34.50L267.00 35.50M266.13 35.00L267.00 35.00M266.13 33.50L266.13 35.00M263.36 31.75L265.76 31.75M263.36 34.25L266.13 34.25M263.36 31.75L263.36 34.25M267.37 36.50L267.37 37.50M267.48 38.50L267.48 39.50M264.86 37.00L267.37 37.00M264.86 39.00L267.48 39.00M264.86 37.00L264.86 39.00M267.24 40.50L267.24 41.50M267.70 42.50L267.70 43.50M265.57 41.00L267.24 41.00M265.57 43.00L267.70 43.00M265.57 41.00L265.57 43.00M262.33 38.00L264.86 38.00M262.33 42.00L265.57 42.00M262.33 38.00L262.33 42.00M260.79 33.00L263.36 33.00M260.79 40.00L262.33 40.00M260.79 33.00L260.79 40.00M267.56 45.50L267.56 46.50M265.66 46.00L267.56 46.00M265.66 44.50L265.66 46.00M264.72 45.25L265.66 45.25M264.72 45.25L264.72 47.50M267.86 48.50L267.86 49.50M263.98 46.38L264.72 46.38M263.98 49.00L267.86 49.00M263.98 46.38L263.98 49.00M267.56 50.50L267.56 51.50M262.57 47.69L263.98 47.69M262.57 51.00L267.56 51.00M262.57 47.69L262.57 51.00M267.61 52.50L267.61 53.50M267.42 55.50L267.42 56.50M265.69 56.00L267.42 56.00M265.69 54.50L265.69 56.00M264.15 53.00L267.61 53.00M264.15 55.25L265.69 55.25M264.15 53.00L264.15 55.25M260.59 49.34L262.57 49.34M260.59 54.12L264.15 54.12M260.59 49.34L260.59 54.12M258.13 36.50L260.79 36.50M258.13 51.73L260.59 51.73M258.13 36.50L258.13 51.73M267.79 57.50L267.79 58.50M265.76 58.00L267.79 58.00M265.76 58.00L265.76 59.50M265.03 58.75L265.76 58.75M265.03 58.75L265.03 60.50M264.54 59.62L265.03 59.62M264.54 59.62L264.54 61.50M267.15 62.50L267.15 63.50M262.67 60.56L264.54 60.56M262.67 63.00L267.15 63.00M262.67 60.56L262.67 63.00M267.71 65.50L267.71 66.50M265.83 66.00L267.71 66.00M265.83 64.50L265.83 66.00M264.73 65.25L265.83 65.25M264.73 65.25L264.73 67.50M267.96 68.50L267.96 69.50M267.02 70.50L267.02 71.50M267.00 72.50L267.00 73.50M265.29 71.00L267.02 71.00M265.29 73.00L267.00 73.00M265.29 71.00L265.29 73.00M267.97 75.50L267.97 76.50M266.40 76.00L267.97 76.00M266.40 74.50L266.40 76.00M263.25 72.00L265.29 72.00M263.25 75.25L266.40 75.25M263.25 72.00L263.25 75.25M262.18 69.00L267.96 69.00M262.18 73.62L263.25 73.62M262.18 69.00L262.18 73.62M261.36 66.38L264.73 66.38M261.36 71.31L262.18 71.31M261.36 66.38L261.36 71.31M259.98 61.78L262.67 61.78M259.98 68.84L261.36 68.84M259.98 61.78L259.98 68.84M267.54 77.50L267.54 78.50M266.08 78.00L267.54 78.00M266.08 78.00L266.08 79.50M264.96 78.75L266.08 78.75M264.96 78.75L264.96 80.50M267.06 81.50L267.06 82.50M266.09 82.00L267.06 82.00M266.09 82.00L266.09 83.50M267.76 85.50L267.76 86.50M266.30 86.00L267.76 86.00M266.30 84.50L266.30 86.00M263.22 82.75L266.09 82.75M263.22 85.25L266.30 85.25M263.22 82.75L263.22 85.25M261.91 79.62L264.96 79.62M261.91 84.00L263.22 84.00M261.91 79.62L261.91 84.00M267.42 88.50L267.42 89.50M266.58 89.00L267.42 89.00M266.58 87.50L266.58 89.00M267.37 90.50L267.37 91.50M264.77 88.25L266.58 88.25M264.77 91.00L267.37 91.00M264.77 88.25L264.77 91.00M260.40 81.81L261.91 81.81M260.40 89.62L264.77 89.62M260.40 81.81L260.40 89.62M257.62 65.31L259.98 65.31M257.62 85.72L260.40 85.72M257.62 65.31L257.62 85.72M267.98 92.50L267.98 93.50M266.54 93.00L267.98 93.00M266.54 93.00L266.54 94.50M267.75 95.50L267.75 96.50M267.41 97.50L267.41 98.50M265.28 96.00L267.75 96.00M265.28 98.00L267.41 98.00M265.28 96.00L265.28 98.00M263.30 93.75L266.54 93.75M263.30 97.00L265.28 97.00M263.30 93.75L263.30 97.00M267.40 99.50L267.40 100.50M267.23 102.50L267.23 103.50M266.57 103.00L267.23 103.00M266.57 101.50L266.57 103.00M264.26 100.00L267.40 100.00M264.26 102.25L266.57 102.25M264.26 100.00L264.26 102.25M261.06 95.38L263.30 95.38M261.06 101.12L264.26 101.12M261.06 95.38L261.06 101.12M256.76 75.52L257.62 75.52M256.76 98.25L261.06 98.25M256.76 75.52L256.76 98.25M255.27 44.12L258.13 44.12M255.27 86.88L256.76 86.88M255.27 44.12L255.27 86.88M267.90 104.50L267.90 105.50M267.67 106.50L267.67 107.50M264.77 105.00L267.90 105.00M264.77 107.00L267.67 107.00M264.77 105.00L264.77 107.00M267.66 108.50L267.66 109.50M265.95 109.00L267.66 109.00M265.95 109.00L265.95 110.50M267.88 112.50L267.88 113.50M266.07 113.00L267.88 113.00M266.07 111.50L266.07 113.00M265.41 112.25L266.07 112.25M265.41 112.25L265.41 114.50M262.86 109.75L265.95 109.75M262.86 113.38L265.41 113.38M262.86 109.75L262.86 113.38M261.26 106.00L264.77 106.00M261.26 111.56L262.86 111.56M261.26 106.00L261.26 111.56M267.19 115.50L267.19 116.50M266.25 116.00L267.19 116.00M266.25 116.00L266.25 117.50M267.73 120.50L267.73 121.50M266.25 121.00L267.73 121.00M266.25 119.50L266.25 121.00M265.18 120.25L266.25 120.25M265.18 118.50L265.18 120.25M263.24 116.75L266.25 116.75M263.24 119.38L265.18 119.38M263.24 116.75L263.24 119.38M267.12 124.50L267.12 125.50M265.61 125.00L267.12 125.00M265.61 123.50L265.61 125.00M265.17 124.25L265.61 124.25M265.17 122.50L265.17 124.25M267.07 126.50L267.07 127.50M263.97 123.38L265.17 123.38M263.97 127.00L267.07 127.00M263.97 123.38L263.97 127.00M267.71 128.50L267.71 129.50M266.26 129.00L267.71 129.00M266.26 129.00L266.26 130.50M265.37 129.75L266.26 129.75M265.37 129.75L265.37 131.50M267.71 133.50L267.71 134.50M265.79 134.00L267.71 134.00M265.79 132.50L265.79 134.00M263.62 130.62L265.37 130.62M263.62 133.25L265.79 133.25M263.62 130.62L263.62 133.25M260.62 125.19L263.97 125.19M260.62 131.94L263.62 131.94M260.62 125.19L260.62 131.94M259.33 118.06L263.24 118.06M259.33 128.56L260.62 128.56M259.33 118.06L259.33 128.56M257.59 108.78L261.26 108.78M257.59 123.31L259.33 123.31M257.59 108.78L257.59 123.31M267.70 136.50L267.70 137.50M265.93 137.00L267.70 137.00M265.93 137.00L265.93 138.50M265.08 137.75L265.93 137.75M265.08 135.50L265.08 137.75M267.39 139.50L267.39 140.50M267.75 141.50L267.75 142.50M264.74 140.00L267.39 140.00M264.74 142.00L267.75 142.00M264.74 140.00L264.74 142.00M262.72 136.62L265.08 136.62M262.72 141.00L264.74 141.00M262.72 136.62L262.72 141.00M267.47 144.50L267.47 145.50M265.78 145.00L267.47 145.00M265.78 143.50L265.78 145.00M265.38 144.25L265.78 144.25M265.38 144.25L265.38 146.50M261.00 138.81L262.72 138.81M261.00 145.38L265.38 145.38M261.00 138.81L261.00 145.38M267.37 147.50L267.37 148.50M265.73 148.00L267.37 148.00M265.73 148.00L265.73 149.50M265.33 148.75L265.73 148.75M265.33 148.75L265.33 150.50M264.56 149.62L265.33 149.62M264.56 149.62L264.56 151.50M260.32 142.09L261.00 142.09M260.32 150.56L264.56 150.56M260.32 142.09L260.32 150.56M256.47 116.05L257.59 116.05M256.47 146.33L260.32 146.33M256.47 116.05L256.47 146.33M254.30 65.50L255.27 65.50M254.30 131.19L256.47 131.19M254.30 65.50L254.30 131.19" stroke="#111" stroke-width="0.75" fill="none"/><path d="M267.99 30.50L273.00 30.50M267.99 31.50L273.00 31.50M265.76 32.50L273.00 32.50M267.00 34.50L273.00 34.50M267.00 35.50L273.00 35.50M266.13 33.50L273.00 33.50M267.37 36.50L273.00 36.50M267.37 37.50L273.00 37.50M267.48 38.50L273.00 38.50M267.48 39.50L273.00 39.50M267.24 40.50L273.00 40.50M267.24 41.50L273.00 41.50M267.70 42.50L273.00 42.50M267.70 43.50L273.00 43.50M267.56 45.50L273.00 45.50M267.56 46.50L273.00 46.50M265.66 44.50L273.00 44.50M264.72 47.50L273.00 47.50M267.86 48.50L273.00 48.50M267.86 49.50L273.00 49.50M267.56 50.50L273.00 50.50M267.56 51.50L273.00 51.50M267.61 52.50L273.00 52.50M267.61 53.50L273.00 53.50M267.42 55.50L273.00 55.50M267.42 56.50L273.00 56.50M265.69 54.50L273.00 54.50M267.79 57.50L273.00 57.50M267.79 58.50L273.00 58.50M265.76 59.50L273.00 59.50M265.03 60.50L273.00 60.50M264.54 61.50L273.00 61.50M267.15 62.50L273.00 62.50M267.15 63.50L273.00 63.50M267.71 65.50L273.00 65.50M267.71 66.50L273.00 66.50M265.83 64.50L273.00 64.50M264.73 67.50L273.00 67.50M267.96 68.50L273.00 68.50M267.96 69.50L273.00 69.50M267.02 70.50L273.00 70.50M267.02 71.50L273.00 71.50M267.00 72.50L273.00 72.50M267.00 73.50L273.00 73.50M267.97 75.50L273.00 75.50M267.97 76.50L273.00 76.50M266.40 74.50L273.00 74.50M267.54 77.50L273.00 77.50M267.54 78.50L273.00 78.50M266.08 79.50L273.00 79.50M264.96 80.50L273.00 80.50M267.06 81.50L273.00 81.50M267.06 82.50L273.00 82.50M266.09 83.50L273.00 83.50M267.76 85.50L273.00 85.50M267.76 86.50L273.00 86.50M266.30 84.50L273.00 84.50M267.42 88.50L273.00 88.50M267.42 89.50L273.00 89.50M266.58 87.50L273.00 87.50M267.37 90.50L273.00 90.50M267.37 91.50L273.00 91.50M267.98 92.50L273.00 92.50M267.98 93.50L273.00 93.50M266.54 94.50L273.00 94.50M267.75 95.50L273.00 95.50M267.75 96.50L273.00 96.50M267.41 97.50L273.00 97.50M267.41 98.50L273.00 98.50M267.40 99.50L273.00 99.50M267.40 100.50L273.00 100.50M267.23 102.50L273.00 102.50M267.23 103.50L273.00 103.50M266.57 101.50L273.00 101.50M267.90 104.50L273.00 104.50M267.90 105.50L273.00 105.50M267.67 106.50L273.00 106.50M267.67 107.50L273.00 107.50M267.66 108.50L273.00 108.50M267.66 109.50L273.00 109.50M265.95 110.50L273.00 110.50M267.88 112.50L273.00 112.50M267.88 113.50L273.00 113.50M266.07 111.50L273.00 111.50M265.41 114.50L273.00 114.50M267.19 115.50L273.00 115.50M267.19 116.50L273.00 116.50M266.25 117.50L273.00 117.50M267.73 120.50L273.00 120.50M267.73 121.50L273.00 121.50M266.25 119.50L273.00 119.50M265.18 118.50L273.00 118.50M267.12 124.50L273.00 124.50M267.12 125.50L273.00 125.50M265.61 123.50L273.00 123.50M265.17 122.50L273.00 122.50M267.07 126.50L273.00 126.50M267.07 127.50L273.00 127.50M267.71 128.50L273.00 128.50M267.71 129.50L273.00 129.50M266.26 130.50L273.00 130.50M265.37 131.50L273.00 131.50M267.71 133.50L273.00 133.50M267.71 134.50L273.00 134.50M265.79 132.50L273.00 132.50M267.70 136.50L273.00 136.50M267.70 137.50L273.00 137.50M265.93 138.50L273.00 138.50M265.08 135.50L273.00 135.50M267.39 139.50L273.00 139.50M267.39 140.50L273.00 140.50M267.75 141.50L273.00 141.50M267.75 142.50L273.00 142.50M267.47 144.50L273.00 144.50M267.47 145.50L273.00 145.50M265.78 143.50L273.00 143.50M265.38 146.50L273.00 146.50M267.37 147.50L273.00 147.50M267.37 148.50L273.00 148.50M265.73 149.50L273.00 149.50M265.33 150.50L273.00 150.50M264.56 151.50L273.00 151.50" stroke="#000" stroke-width="1" fill="none"/><defs><linearGradient id="cb" x1="0" y1="0" x2="0" y2="1"><stop offset="0" stop-color="#f4a8b0"/><stop offset="0.25" stop-color="#a45a60"/><stop offset="0.5" stop-color="#151518"/><stop offset="0.75" stop-color="#1d5a80"/><stop offset="1" stop-color="#3cbaee"/></linearGradient></defs><rect x="398.1" y="31.4" width="3.7" height="52.8" fill="url(#cb)"/>
<text x="48.30" y="17.90" font-size="12" fill="#111" font-weight="bold" style="stroke:#111;stroke-width:0.55px">A</text>
<line x1="84.50" y1="22.50" x2="84.50" y2="153.50" stroke="#1e1e1e" stroke-width="1"/>
<line x1="84.00" y1="153.50" x2="230.00" y2="153.50" stroke="#1e1e1e" stroke-width="1"/>
<line x1="81.50" y1="25.45" x2="84.50" y2="25.45" stroke="#1e1e1e" stroke-width="0.8"/>
<text x="78.00" y="27.85" font-size="6.8" text-anchor="end">8</text>
<line x1="81.50" y1="44.80" x2="84.50" y2="44.80" stroke="#1e1e1e" stroke-width="0.8"/>
<text x="78.00" y="47.20" font-size="6.8" text-anchor="end">6</text>
<line x1="81.50" y1="64.15" x2="84.50" y2="64.15" stroke="#1e1e1e" stroke-width="0.8"/>
<text x="78.00" y="66.55" font-size="6.8" text-anchor="end">4</text>
<line x1="81.50" y1="83.50" x2="84.50" y2="83.50" stroke="#1e1e1e" stroke-width="0.8"/>
<text x="78.00" y="85.90" font-size="6.8" text-anchor="end">2</text>
<line x1="81.50" y1="102.85" x2="84.50" y2="102.85" stroke="#1e1e1e" stroke-width="0.8"/>
<text x="78.00" y="105.25" font-size="6.8" text-anchor="end">0</text>
<line x1="81.50" y1="122.20" x2="84.50" y2="122.20" stroke="#1e1e1e" stroke-width="0.8"/>
<text x="78.00" y="124.60" font-size="6.8" text-anchor="end">−2</text>
<line x1="81.50" y1="141.55" x2="84.50" y2="141.55" stroke="#1e1e1e" stroke-width="0.8"/>
<text x="78.00" y="143.95" font-size="6.8" text-anchor="end">−4</text>
<line x1="107.80" y1="153.50" x2="107.80" y2="156.50" stroke="#1e1e1e" stroke-width="0.8"/>
<text x="107.80" y="166.00" font-size="6.8" text-anchor="middle">0</text>
<line x1="144.20" y1="153.50" x2="144.20" y2="156.50" stroke="#1e1e1e" stroke-width="0.8"/>
<text x="144.20" y="166.00" font-size="6.8" text-anchor="middle">5</text>
<line x1="180.60" y1="153.50" x2="180.60" y2="156.50" stroke="#1e1e1e" stroke-width="0.8"/>
<text x="180.60" y="166.00" font-size="6.8" text-anchor="middle">10</text>
<line x1="217.00" y1="153.50" x2="217.00" y2="156.50" stroke="#1e1e1e" stroke-width="0.8"/>
<text x="217.00" y="166.00" font-size="6.8" text-anchor="middle">15</text>
<text x="121.00" y="178.10" font-size="7.8" textLength="71.80" lengthAdjust="spacingAndGlyphs">Average log-expression</text>
<text x="65.00" y="113.50" font-size="7.8" textLength="50.80" lengthAdjust="spacingAndGlyphs" transform="rotate(-90 65.00 113.50)">log-fold-change</text>
<circle cx="206.2" cy="25.60" r="0.9" fill="#c8c8c8"/>
<text x="209.80" y="28.00" font-size="7.0" textLength="20.00" lengthAdjust="spacingAndGlyphs">NotSig</text>
<circle cx="206.2" cy="35.80" r="0.9" fill="#e8506a"/>
<text x="209.80" y="38.20" font-size="7.0" textLength="7.80" lengthAdjust="spacingAndGlyphs">Up</text>
<circle cx="206.2" cy="46.00" r="0.9" fill="#2b8fd0"/>
<text x="209.80" y="48.40" font-size="7.0" textLength="16.80" lengthAdjust="spacingAndGlyphs">Down</text>
<text x="246.70" y="17.70" font-size="12" fill="#111" font-weight="bold" style="stroke:#111;stroke-width:0.55px">B</text>
<text x="397.30" y="28.20" font-size="6.6" textLength="17.80" lengthAdjust="spacingAndGlyphs">Group</text>
<text x="403.20" y="39.90" font-size="6.8">2</text>
<text x="403.20" y="50.30" font-size="6.8">1</text>
<text x="403.20" y="60.70" font-size="6.8">0</text>
<text x="403.20" y="71.40" font-size="6.8">−1</text>
<text x="403.20" y="81.80" font-size="6.8">−2</text>
<text x="422.00" y="35.90" font-size="6.6" textLength="18.20" lengthAdjust="spacingAndGlyphs">Group</text>
<rect x="422.00" y="40.60" width="8.20" height="7.00" fill="#e8474c"/>
<rect x="422.00" y="48.60" width="8.20" height="7.40" fill="#f2c230"/>
<text x="433.80" y="47.00" font-size="6.6" textLength="37.50" lengthAdjust="spacingAndGlyphs">Liver_Control</text>
<text x="433.80" y="54.90" font-size="6.6" textLength="23.50" lengthAdjust="spacingAndGlyphs">Liver_PV</text>
<text x="90.80" y="204.80" font-size="12" fill="#111" font-weight="bold" style="stroke:#111;stroke-width:0.55px">C</text>
<text x="388.20" y="200.60" font-size="7.0" text-anchor="middle" textLength="47.40" lengthAdjust="spacingAndGlyphs">–Log2 (P-value)</text>
<line x1="347.50" y1="218.50" x2="428.80" y2="218.50" stroke="#1e1e1e" stroke-width="1"/>
<line x1="347.50" y1="215.80" x2="347.50" y2="218.50" stroke="#1e1e1e" stroke-width="0.8"/>
<text x="347.50" y="210.60" font-size="6.8" text-anchor="middle">0</text>
<line x1="363.10" y1="215.80" x2="363.10" y2="218.50" stroke="#1e1e1e" stroke-width="0.8"/>
<text x="363.10" y="210.60" font-size="6.8" text-anchor="middle">5</text>
<line x1="378.70" y1="215.80" x2="378.70" y2="218.50" stroke="#1e1e1e" stroke-width="0.8"/>
<text x="378.70" y="210.60" font-size="6.8" text-anchor="middle">10</text>
<line x1="394.30" y1="215.80" x2="394.30" y2="218.50" stroke="#1e1e1e" stroke-width="0.8"/>
<text x="394.30" y="210.60" font-size="6.8" text-anchor="middle">15</text>
<line x1="409.90" y1="215.80" x2="409.90" y2="218.50" stroke="#1e1e1e" stroke-width="0.8"/>
<text x="409.90" y="210.60" font-size="6.8" text-anchor="middle">20</text>
<line x1="425.50" y1="215.80" x2="425.50" y2="218.50" stroke="#1e1e1e" stroke-width="0.8"/>
<text x="425.50" y="210.60" font-size="6.8" text-anchor="middle">25</text>
<line x1="347.50" y1="218.50" x2="347.50" y2="298.00" stroke="#1e1e1e" stroke-width="1"/>
<rect x="347.50" y="222.30" width="39.40" height="4.50" fill="#1b5290"/>
<line x1="344.20" y1="224.40" x2="347.50" y2="224.40" stroke="#1e1e1e" stroke-width="0.8"/>
<text x="340.50" y="226.70" font-size="7.3" text-anchor="end" textLength="173.50" lengthAdjust="spacingAndGlyphs">receptor signaling pathway via JAK-STAT (GO:0007259)</text>
<rect x="347.50" y="230.30" width="29.10" height="4.50" fill="#1b5290"/>
<line x1="344.20" y1="232.40" x2="347.50" y2="232.40" stroke="#1e1e1e" stroke-width="0.8"/>
<text x="340.50" y="234.70" font-size="7.3" text-anchor="end" textLength="241.70" lengthAdjust="spacingAndGlyphs">positive regulation of receptor signaling pathway via JAK-STAT (GO:0046427)</text>
<rect x="347.50" y="238.20" width="14.30" height="4.50" fill="#1b5290"/>
<line x1="344.20" y1="240.30" x2="347.50" y2="240.30" stroke="#1e1e1e" stroke-width="0.8"/>
<text x="340.50" y="242.60" font-size="7.3" text-anchor="end" textLength="215.50" lengthAdjust="spacingAndGlyphs">regulation of receptor signaling pathway via JAK-STAT (GO:0046425)</text>
<rect x="347.50" y="250.10" width="30.20" height="4.50" fill="#1b5290"/>
<line x1="344.20" y1="252.20" x2="347.50" y2="252.20" stroke="#1e1e1e" stroke-width="0.8"/>
<text x="340.50" y="254.50" font-size="7.3" text-anchor="end" textLength="132.80" lengthAdjust="spacingAndGlyphs">HALLMARK_INFLAMMATORY_RESPONSE</text>
<rect x="347.50" y="262.20" width="36.70" height="4.50" fill="#1b5290"/>
<line x1="344.20" y1="264.30" x2="347.50" y2="264.30" stroke="#1e1e1e" stroke-width="0.8"/>
<text x="340.50" y="266.60" font-size="7.3" text-anchor="end" textLength="147.40" lengthAdjust="spacingAndGlyphs">cellular response to interleukin-6 (GO:0071354)</text>
<rect x="347.50" y="270.30" width="35.40" height="4.50" fill="#1b5290"/>
<line x1="344.20" y1="272.40" x2="347.50" y2="272.40" stroke="#1e1e1e" stroke-width="0.8"/>
<text x="340.50" y="274.70" font-size="7.3" text-anchor="end" textLength="123.20" lengthAdjust="spacingAndGlyphs">response to interleukin-6 (GO:0070741)</text>
<rect x="347.50" y="278.30" width="34.50" height="4.50" fill="#1b5290"/>
<line x1="344.20" y1="280.40" x2="347.50" y2="280.40" stroke="#1e1e1e" stroke-width="0.8"/>
<text x="340.50" y="282.70" font-size="7.3" text-anchor="end" textLength="128.60" lengthAdjust="spacingAndGlyphs">HALLMARK_IL6_JAK_STAT3_SIGNALING</text>
<rect x="347.50" y="290.20" width="67.10" height="4.50" fill="#1b5290"/>
<line x1="344.20" y1="292.30" x2="347.50" y2="292.30" stroke="#1e1e1e" stroke-width="0.8"/>
<text x="340.50" y="294.60" font-size="7.3" text-anchor="end" textLength="176.30" lengthAdjust="spacingAndGlyphs">Cytokine-cytokine receptor interaction (path:mmu04060)</text>
<line x1="360.50" y1="219.00" x2="360.50" y2="298.00" stroke="#c0392b" stroke-width="0.8" stroke-dasharray="1,1.2"/>
<text x="8.20" y="321.30" font-size="12" fill="#111" font-weight="bold" style="stroke:#111;stroke-width:0.55px">D</text>
<text x="55.30" y="415.70" font-size="6.8" text-anchor="end">0.0</text>
<text x="55.30" y="396.10" font-size="6.8" text-anchor="end">0.5</text>
<text x="55.30" y="376.50" font-size="6.8" text-anchor="end">1.0</text>
<text x="55.30" y="356.90" font-size="6.8" text-anchor="end">1.5</text>
<text x="55.30" y="337.30" font-size="6.8" text-anchor="end">2.0</text>
<rect x="70.00" y="375.08" width="13.80" height="38.42" fill="#6a7fb5"/>
<rect x="92.30" y="353.52" width="13.70" height="59.98" fill="#e0705f"/>
<line x1="76.90" y1="368.81" x2="76.90" y2="382.53" stroke="#243f80" stroke-width="0.9"/>
<line x1="73.20" y1="368.81" x2="80.60" y2="368.81" stroke="#243f80" stroke-width="0.9"/>
<line x1="73.20" y1="382.53" x2="80.60" y2="382.53" stroke="#243f80" stroke-width="0.9"/>
<circle cx="74.30" cy="370.50" r="1.0" fill="#243f80"/>
<circle cx="79.60" cy="370.50" r="1.0" fill="#243f80"/>
<circle cx="76.90" cy="382.20" r="1.0" fill="#243f80"/>
<line x1="99.20" y1="345.29" x2="99.20" y2="361.76" stroke="#c8142c" stroke-width="0.9"/>
<line x1="95.65" y1="345.29" x2="102.75" y2="345.29" stroke="#c8142c" stroke-width="0.9"/>
<line x1="95.65" y1="361.76" x2="102.75" y2="361.76" stroke="#c8142c" stroke-width="0.9"/>
<circle cx="96.50" cy="348.80" r="1.0" fill="#c8142c"/>
<circle cx="102.10" cy="349.30" r="1.0" fill="#c8142c"/>
<circle cx="99.30" cy="361.00" r="1.0" fill="#c8142c"/>
<polyline points="76.40,364.70 76.40,335.90 99.70,335.90 99.70,341.40" fill="none" stroke="#2a2a2a" stroke-width="0.85"/>
<text x="88.05" y="335.50" font-size="7.4" text-anchor="middle" font-weight="bold" textLength="2.90" lengthAdjust="spacingAndGlyphs">*</text>
<text x="76.90" y="426.30" font-size="7.4" text-anchor="middle" textLength="9.40" lengthAdjust="spacingAndGlyphs">HC</text>
<text x="99.50" y="426.30" font-size="7.4" text-anchor="middle" textLength="8.00" lengthAdjust="spacingAndGlyphs">PV</text>
<text x="40.60" y="372.50" font-size="7.8" text-anchor="middle" textLength="75.00" lengthAdjust="spacingAndGlyphs" transform="rotate(-90 40.60 372.50)">HAMP mRNA abundance</text>
<text x="157.40" y="321.50" font-size="12" fill="#111" font-weight="bold" style="stroke:#111;stroke-width:0.55px">E</text>
<text x="196.40" y="415.80" font-size="6.8" text-anchor="end">0</text>
<text x="196.40" y="396.07" font-size="6.8" text-anchor="end">50</text>
<text x="196.40" y="376.35" font-size="6.8" text-anchor="end">100</text>
<text x="196.40" y="356.62" font-size="6.8" text-anchor="end">150</text>
<text x="196.40" y="336.90" font-size="6.8" text-anchor="end">200</text>
<rect x="210.60" y="412.22" width="15.90" height="1.38" fill="#3a5a9a"/>
<rect x="234.10" y="386.90" width="13.50" height="26.70" fill="#e0705f"/>
<line x1="240.60" y1="365.00" x2="240.60" y2="407.10" stroke="#c8142c" stroke-width="0.9"/>
<line x1="237.10" y1="365.00" x2="244.10" y2="365.00" stroke="#c8142c" stroke-width="0.9"/>
<line x1="237.10" y1="407.10" x2="244.10" y2="407.10" stroke="#c8142c" stroke-width="0.9"/>
<circle cx="240.60" cy="349.80" r="1.0" fill="#c8142c"/>
<circle cx="240.60" cy="354.50" r="1.0" fill="#c8142c"/>
<circle cx="238.40" cy="376.00" r="1.0" fill="#c8142c"/>
<circle cx="243.00" cy="375.60" r="1.0" fill="#c8142c"/>
<circle cx="238.40" cy="394.40" r="1.0" fill="#c8142c"/>
<circle cx="243.00" cy="392.40" r="1.0" fill="#c8142c"/>
<circle cx="243.00" cy="396.40" r="1.0" fill="#c8142c"/>
<circle cx="238.40" cy="404.50" r="1.0" fill="#c8142c"/>
<circle cx="243.00" cy="406.00" r="1.0" fill="#c8142c"/>
<circle cx="240.60" cy="411.30" r="1.0" fill="#c8142c"/>
<circle cx="214.00" cy="412.40" r="0.9" fill="#243f80"/>
<circle cx="217.00" cy="412.00" r="0.9" fill="#243f80"/>
<circle cx="220.00" cy="411.80" r="0.9" fill="#243f80"/>
<circle cx="223.00" cy="412.40" r="0.9" fill="#243f80"/>
<circle cx="218.30" cy="411.00" r="0.9" fill="#243f80"/>
<polyline points="218.30,406.70 218.30,340.30 240.60,340.30 240.60,344.60" fill="none" stroke="#2a2a2a" stroke-width="0.85"/>
<text x="229.45" y="339.90" font-size="7.4" text-anchor="middle" font-weight="bold" textLength="5.80" lengthAdjust="spacingAndGlyphs">**</text>
<text x="218.30" y="426.30" font-size="7.4" text-anchor="middle" textLength="20.50" lengthAdjust="spacingAndGlyphs">Control</text>
<text x="240.60" y="426.30" font-size="7.4" text-anchor="middle" textLength="8.00" lengthAdjust="spacingAndGlyphs">PV</text>
<text x="179.60" y="372.20" font-size="7.8" text-anchor="middle" textLength="55.60" lengthAdjust="spacingAndGlyphs" transform="rotate(-90 179.60 372.20)">Serum IL6 (pg/ml)</text>
<text x="290.90" y="321.80" font-size="12" fill="#111" font-weight="bold" style="stroke:#111;stroke-width:0.55px">F</text>
<text x="333.80" y="415.80" font-size="6.8" text-anchor="end">0</text>
<text x="333.80" y="400.06" font-size="6.8" text-anchor="end">100</text>
<text x="333.80" y="384.32" font-size="6.8" text-anchor="end">200</text>
<text x="333.80" y="368.58" font-size="6.8" text-anchor="end">300</text>
<text x="333.80" y="352.84" font-size="6.8" text-anchor="end">400</text>
<text x="333.80" y="337.10" font-size="6.8" text-anchor="end">500</text>
<rect x="368.20" y="389.70" width="7.40" height="23.90" fill="#e0705f"/>
<line x1="371.70" y1="362.00" x2="371.70" y2="413.00" stroke="#c8142c" stroke-width="0.9"/>
<line x1="369.20" y1="362.00" x2="374.20" y2="362.00" stroke="#c8142c" stroke-width="0.9"/>
<circle cx="371.70" cy="348.30" r="0.9" fill="#c8142c"/>
<circle cx="371.70" cy="353.20" r="0.9" fill="#c8142c"/>
<circle cx="371.70" cy="359.40" r="0.9" fill="#c8142c"/>
<circle cx="371.70" cy="370.60" r="0.9" fill="#c8142c"/>
<circle cx="371.70" cy="380.00" r="0.9" fill="#c8142c"/>
<circle cx="371.70" cy="403.90" r="0.9" fill="#c8142c"/>
<circle cx="371.70" cy="407.50" r="0.9" fill="#c8142c"/>
<circle cx="374.00" cy="410.50" r="0.9" fill="#c8142c"/>
<circle cx="369.50" cy="411.00" r="0.9" fill="#c8142c"/>
<circle cx="345.50" cy="412.50" r="0.9" fill="#243f80"/>
<circle cx="347.40" cy="412.20" r="0.9" fill="#243f80"/>
<circle cx="349.40" cy="412.50" r="0.9" fill="#243f80"/>
<circle cx="357.60" cy="412.60" r="0.9" fill="#2f97d6"/>
<circle cx="359.40" cy="412.30" r="0.9" fill="#2f97d6"/>
<circle cx="361.20" cy="412.60" r="0.9" fill="#2f97d6"/>
<circle cx="381.60" cy="412.50" r="0.9" fill="#222"/>
<circle cx="383.60" cy="412.10" r="0.9" fill="#222"/>
<circle cx="385.60" cy="412.50" r="0.9" fill="#222"/>
<polyline points="347.40,409.40 347.40,323.60 371.70,323.60 371.70,328.90" fill="none" stroke="#2a2a2a" stroke-width="0.85"/>
<text x="359.55" y="323.20" font-size="7.4" text-anchor="middle" font-weight="bold" textLength="11.60" lengthAdjust="spacingAndGlyphs">****</text>
<polyline points="371.70,343.50 371.70,339.70 383.90,339.70 383.90,409.40" fill="none" stroke="#2a2a2a" stroke-width="0.85"/>
<text x="377.80" y="339.30" font-size="7.4" text-anchor="middle" font-weight="bold" textLength="8.70" lengthAdjust="spacingAndGlyphs">***</text>
<text x="305.70" y="372.20" font-size="7.8" text-anchor="middle" textLength="50.70" lengthAdjust="spacingAndGlyphs" transform="rotate(-90 305.70 372.20)">Liver <tspan font-style="italic">Saa1</tspan> mRNA</text>
<text x="315.50" y="372.70" font-size="7.8" text-anchor="middle" textLength="25.80" lengthAdjust="spacingAndGlyphs" transform="rotate(-90 315.50 372.70)">(vs <tspan font-style="italic">Hprt</tspan>)</text>
<text x="409.00" y="322.30" font-size="12" fill="#111" font-weight="bold" style="stroke:#111;stroke-width:0.55px">G</text>
<text x="453.80" y="415.80" font-size="6.8" text-anchor="end">0</text>
<text x="453.80" y="400.06" font-size="6.8" text-anchor="end">50</text>
<text x="453.80" y="384.32" font-size="6.8" text-anchor="end">100</text>
<text x="453.80" y="368.58" font-size="6.8" text-anchor="end">150</text>
<text x="453.80" y="352.84" font-size="6.8" text-anchor="end">200</text>
<text x="453.80" y="337.10" font-size="6.8" text-anchor="end">250</text>
<rect x="464.40" y="401.01" width="7.40" height="12.59" fill="#5d78aa"/>
<line x1="468.10" y1="395.97" x2="468.10" y2="406.04" stroke="#243f80" stroke-width="0.9"/>
<line x1="465.80" y1="395.97" x2="470.40" y2="395.97" stroke="#243f80" stroke-width="0.9"/>
<line x1="465.80" y1="406.04" x2="470.40" y2="406.04" stroke="#243f80" stroke-width="0.9"/>
<circle cx="470.68" cy="406.67" r="0.95" fill="#243f80"/>
<circle cx="467.48" cy="405.42" r="0.95" fill="#243f80"/>
<circle cx="468.56" cy="404.16" r="0.95" fill="#243f80"/>
<circle cx="466.47" cy="403.21" r="0.95" fill="#243f80"/>
<circle cx="468.84" cy="402.27" r="0.95" fill="#243f80"/>
<circle cx="467.49" cy="401.64" r="0.95" fill="#243f80"/>
<circle cx="469.29" cy="401.01" r="0.95" fill="#243f80"/>
<circle cx="467.92" cy="400.06" r="0.95" fill="#243f80"/>
<circle cx="468.92" cy="399.43" r="0.95" fill="#243f80"/>
<circle cx="468.95" cy="398.49" r="0.95" fill="#243f80"/>
<circle cx="467.01" cy="397.86" r="0.95" fill="#243f80"/>
<circle cx="466.01" cy="396.29" r="0.95" fill="#243f80"/>
<circle cx="469.20" cy="389.99" r="0.95" fill="#243f80"/>
<circle cx="466.44" cy="404.79" r="0.95" fill="#243f80"/>
<circle cx="466.14" cy="402.90" r="0.95" fill="#243f80"/>
<rect x="476.20" y="404.47" width="7.40" height="9.13" fill="#8fc7ea"/>
<line x1="479.90" y1="397.86" x2="479.90" y2="407.62" stroke="#2f97d6" stroke-width="0.9"/>
<line x1="477.60" y1="397.86" x2="482.20" y2="397.86" stroke="#2f97d6" stroke-width="0.9"/>
<line x1="477.60" y1="407.62" x2="482.20" y2="407.62" stroke="#2f97d6" stroke-width="0.9"/>
<circle cx="482.07" cy="409.19" r="0.95" fill="#2f97d6"/>
<circle cx="481.86" cy="407.93" r="0.95" fill="#2f97d6"/>
<circle cx="480.13" cy="406.99" r="0.95" fill="#2f97d6"/>
<circle cx="479.94" cy="406.04" r="0.95" fill="#2f97d6"/>
<circle cx="480.66" cy="405.10" r="0.95" fill="#2f97d6"/>
<circle cx="481.20" cy="404.16" r="0.95" fill="#2f97d6"/>
<circle cx="480.09" cy="403.21" r="0.95" fill="#2f97d6"/>
<circle cx="481.33" cy="402.27" r="0.95" fill="#2f97d6"/>
<circle cx="480.06" cy="401.01" r="0.95" fill="#2f97d6"/>
<circle cx="478.11" cy="399.12" r="0.95" fill="#2f97d6"/>
<circle cx="477.72" cy="397.23" r="0.95" fill="#2f97d6"/>
<circle cx="481.86" cy="407.30" r="0.95" fill="#2f97d6"/>
<rect x="488.60" y="379.29" width="7.40" height="34.31" fill="#e0705f"/>
<line x1="492.30" y1="362.29" x2="492.30" y2="396.92" stroke="#c8142c" stroke-width="0.9"/>
<line x1="490.00" y1="362.29" x2="494.60" y2="362.29" stroke="#c8142c" stroke-width="0.9"/>
<line x1="490.00" y1="396.92" x2="494.60" y2="396.92" stroke="#c8142c" stroke-width="0.9"/>
<circle cx="493.89" cy="349.07" r="0.95" fill="#c8142c"/>
<circle cx="493.79" cy="356.31" r="0.95" fill="#c8142c"/>
<circle cx="494.22" cy="366.38" r="0.95" fill="#c8142c"/>
<circle cx="494.59" cy="373.31" r="0.95" fill="#c8142c"/>
<circle cx="489.86" cy="378.97" r="0.95" fill="#c8142c"/>
<circle cx="493.03" cy="382.12" r="0.95" fill="#c8142c"/>
<circle cx="490.53" cy="383.69" r="0.95" fill="#c8142c"/>
<circle cx="490.59" cy="385.90" r="0.95" fill="#c8142c"/>
<circle cx="490.29" cy="388.42" r="0.95" fill="#c8142c"/>
<circle cx="492.99" cy="391.56" r="0.95" fill="#c8142c"/>
<circle cx="494.26" cy="394.08" r="0.95" fill="#c8142c"/>
<circle cx="491.14" cy="396.29" r="0.95" fill="#c8142c"/>
<rect x="500.50" y="396.92" width="7.40" height="16.68" fill="#8a6aa6"/>
<line x1="504.20" y1="387.47" x2="504.20" y2="405.73" stroke="#3b1d5c" stroke-width="0.9"/>
<line x1="501.90" y1="387.47" x2="506.50" y2="387.47" stroke="#3b1d5c" stroke-width="0.9"/>
<line x1="501.90" y1="405.73" x2="506.50" y2="405.73" stroke="#3b1d5c" stroke-width="0.9"/>
<circle cx="504.01" cy="382.75" r="0.95" fill="#3b1d5c"/>
<circle cx="504.57" cy="383.69" r="0.95" fill="#3b1d5c"/>
<circle cx="505.79" cy="389.99" r="0.95" fill="#3b1d5c"/>
<circle cx="505.51" cy="393.14" r="0.95" fill="#3b1d5c"/>
<circle cx="502.60" cy="395.34" r="0.95" fill="#3b1d5c"/>
<circle cx="502.39" cy="397.23" r="0.95" fill="#3b1d5c"/>
<circle cx="505.48" cy="398.49" r="0.95" fill="#3b1d5c"/>
<circle cx="505.18" cy="399.75" r="0.95" fill="#3b1d5c"/>
<circle cx="504.80" cy="401.01" r="0.95" fill="#3b1d5c"/>
<circle cx="506.70" cy="402.58" r="0.95" fill="#3b1d5c"/>
<circle cx="504.44" cy="404.16" r="0.95" fill="#3b1d5c"/>
<circle cx="503.16" cy="405.42" r="0.95" fill="#3b1d5c"/>
<circle cx="503.32" cy="406.67" r="0.95" fill="#3b1d5c"/>
<circle cx="501.77" cy="394.71" r="0.95" fill="#3b1d5c"/>
<polyline points="468.10,387.20 468.10,323.60 492.40,323.60 492.40,328.90" fill="none" stroke="#2a2a2a" stroke-width="0.85"/>
<text x="480.25" y="323.20" font-size="7.4" text-anchor="middle" font-weight="bold" textLength="11.60" lengthAdjust="spacingAndGlyphs">****</text>
<polyline points="492.40,344.20 492.40,339.70 504.40,339.70 504.40,380.30" fill="none" stroke="#2a2a2a" stroke-width="0.85"/>
<text x="498.40" y="339.30" font-size="7.4" text-anchor="middle" font-weight="bold" textLength="5.80" lengthAdjust="spacingAndGlyphs">**</text>
<text x="425.50" y="372.20" font-size="7.8" text-anchor="middle" textLength="47.30" lengthAdjust="spacingAndGlyphs" transform="rotate(-90 425.50 372.20)">Liver <tspan font-style="italic">Fga</tspan> mRNA</text>
<text x="436.00" y="372.90" font-size="7.8" text-anchor="middle" textLength="26.20" lengthAdjust="spacingAndGlyphs" transform="rotate(-90 436.00 372.90)">(vs <tspan font-style="italic">Hprt</tspan>)</text>
<text x="347.90" y="423.90" font-size="7.4" text-anchor="end" transform="rotate(-45 347.90 423.90)">Control + anti-IgG</text>
<text x="359.90" y="423.90" font-size="7.4" text-anchor="end" transform="rotate(-45 359.90 423.90)">Control + anti-IL6</text>
<text x="372.20" y="423.90" font-size="7.4" text-anchor="end" transform="rotate(-45 372.20 423.90)">PV + anti-IgG</text>
<text x="384.10" y="423.90" font-size="7.4" text-anchor="end" transform="rotate(-45 384.10 423.90)">PV + anti-IL6</text>
<text x="468.60" y="423.90" font-size="7.4" text-anchor="end" transform="rotate(-45 468.60 423.90)">Control + anti-IgG</text>
<text x="480.40" y="423.90" font-size="7.4" text-anchor="end" transform="rotate(-45 480.40 423.90)">Control + anti-IL6</text>
<text x="492.80" y="423.90" font-size="7.4" text-anchor="end" transform="rotate(-45 492.80 423.90)">PV + anti-IgG</text>
<text x="504.70" y="423.90" font-size="7.4" text-anchor="end" transform="rotate(-45 504.70 423.90)">PV + anti-IL6</text>
<text x="35.60" y="489.40" font-size="12" fill="#111" font-weight="bold" style="stroke:#111;stroke-width:0.55px">H</text>
<text x="83.40" y="573.90" font-size="6.8" text-anchor="end">0</text>
<text x="83.40" y="558.21" font-size="6.8" text-anchor="end">100</text>
<text x="83.40" y="542.52" font-size="6.8" text-anchor="end">200</text>
<text x="83.40" y="526.83" font-size="6.8" text-anchor="end">300</text>
<text x="83.40" y="511.14" font-size="6.8" text-anchor="end">400</text>
<text x="83.40" y="495.45" font-size="6.8" text-anchor="end">500</text>
<rect x="93.80" y="551.15" width="7.30" height="20.55" fill="#5d78aa"/>
<line x1="97.40" y1="536.40" x2="97.40" y2="566.21" stroke="#243f80" stroke-width="0.9"/>
<line x1="95.10" y1="536.40" x2="99.70" y2="536.40" stroke="#243f80" stroke-width="0.9"/>
<line x1="95.10" y1="566.21" x2="99.70" y2="566.21" stroke="#243f80" stroke-width="0.9"/>
<circle cx="96.65" cy="524.63" r="0.95" fill="#243f80"/>
<circle cx="99.12" cy="527.77" r="0.95" fill="#243f80"/>
<circle cx="96.63" cy="529.65" r="0.95" fill="#243f80"/>
<circle cx="95.11" cy="534.04" r="0.95" fill="#243f80"/>
<circle cx="97.26" cy="538.75" r="0.95" fill="#243f80"/>
<circle cx="98.59" cy="543.46" r="0.95" fill="#243f80"/>
<circle cx="98.33" cy="548.17" r="0.95" fill="#243f80"/>
<circle cx="95.14" cy="552.87" r="0.95" fill="#243f80"/>
<circle cx="97.38" cy="556.01" r="0.95" fill="#243f80"/>
<circle cx="95.82" cy="559.15" r="0.95" fill="#243f80"/>
<circle cx="94.98" cy="560.72" r="0.95" fill="#243f80"/>
<circle cx="99.89" cy="562.29" r="0.95" fill="#243f80"/>
<circle cx="98.47" cy="563.86" r="0.95" fill="#243f80"/>
<circle cx="96.68" cy="565.42" r="0.95" fill="#243f80"/>
<circle cx="98.84" cy="566.99" r="0.95" fill="#243f80"/>
<circle cx="98.91" cy="557.58" r="0.95" fill="#243f80"/>
<rect x="105.90" y="553.19" width="7.30" height="18.51" fill="#8fc7ea"/>
<line x1="109.50" y1="541.10" x2="109.50" y2="564.64" stroke="#2f97d6" stroke-width="0.9"/>
<line x1="107.20" y1="541.10" x2="111.80" y2="541.10" stroke="#2f97d6" stroke-width="0.9"/>
<line x1="107.20" y1="564.64" x2="111.80" y2="564.64" stroke="#2f97d6" stroke-width="0.9"/>
<circle cx="111.76" cy="526.20" r="0.95" fill="#2f97d6"/>
<circle cx="108.92" cy="540.32" r="0.95" fill="#2f97d6"/>
<circle cx="111.17" cy="546.60" r="0.95" fill="#2f97d6"/>
<circle cx="108.19" cy="549.73" r="0.95" fill="#2f97d6"/>
<circle cx="109.41" cy="552.87" r="0.95" fill="#2f97d6"/>
<circle cx="108.32" cy="556.01" r="0.95" fill="#2f97d6"/>
<circle cx="109.72" cy="557.58" r="0.95" fill="#2f97d6"/>
<circle cx="107.29" cy="559.15" r="0.95" fill="#2f97d6"/>
<circle cx="109.07" cy="560.72" r="0.95" fill="#2f97d6"/>
<circle cx="108.54" cy="562.29" r="0.95" fill="#2f97d6"/>
<circle cx="107.11" cy="563.86" r="0.95" fill="#2f97d6"/>
<rect x="117.80" y="560.25" width="7.30" height="11.45" fill="#e0705f"/>
<line x1="121.40" y1="545.65" x2="121.40" y2="568.56" stroke="#c8142c" stroke-width="0.9"/>
<line x1="119.10" y1="545.65" x2="123.70" y2="545.65" stroke="#c8142c" stroke-width="0.9"/>
<line x1="119.10" y1="568.56" x2="123.70" y2="568.56" stroke="#c8142c" stroke-width="0.9"/>
<circle cx="121.45" cy="546.60" r="0.95" fill="#c8142c"/>
<circle cx="121.90" cy="549.73" r="0.95" fill="#c8142c"/>
<circle cx="120.37" cy="552.87" r="0.95" fill="#c8142c"/>
<circle cx="123.64" cy="556.01" r="0.95" fill="#c8142c"/>
<circle cx="122.59" cy="559.15" r="0.95" fill="#c8142c"/>
<circle cx="122.76" cy="560.72" r="0.95" fill="#c8142c"/>
<circle cx="121.18" cy="562.29" r="0.95" fill="#c8142c"/>
<circle cx="123.14" cy="563.86" r="0.95" fill="#c8142c"/>
<circle cx="122.62" cy="565.42" r="0.95" fill="#c8142c"/>
<circle cx="121.88" cy="566.99" r="0.95" fill="#c8142c"/>
<circle cx="119.35" cy="568.56" r="0.95" fill="#c8142c"/>
<circle cx="121.14" cy="557.58" r="0.95" fill="#c8142c"/>
<rect x="129.90" y="556.01" width="7.30" height="15.69" fill="#8a6aa6"/>
<line x1="133.50" y1="538.44" x2="133.50" y2="568.56" stroke="#3b1d5c" stroke-width="0.9"/>
<line x1="131.20" y1="538.44" x2="135.80" y2="538.44" stroke="#3b1d5c" stroke-width="0.9"/>
<line x1="131.20" y1="568.56" x2="135.80" y2="568.56" stroke="#3b1d5c" stroke-width="0.9"/>
<circle cx="133.42" cy="502.66" r="0.95" fill="#3b1d5c"/>
<circle cx="131.93" cy="540.32" r="0.95" fill="#3b1d5c"/>
<circle cx="136.02" cy="548.17" r="0.95" fill="#3b1d5c"/>
<circle cx="135.64" cy="554.44" r="0.95" fill="#3b1d5c"/>
<circle cx="134.78" cy="556.79" r="0.95" fill="#3b1d5c"/>
<circle cx="135.25" cy="559.15" r="0.95" fill="#3b1d5c"/>
<circle cx="131.04" cy="560.72" r="0.95" fill="#3b1d5c"/>
<circle cx="134.87" cy="562.29" r="0.95" fill="#3b1d5c"/>
<circle cx="131.47" cy="563.86" r="0.95" fill="#3b1d5c"/>
<circle cx="132.92" cy="565.42" r="0.95" fill="#3b1d5c"/>
<circle cx="133.45" cy="566.99" r="0.95" fill="#3b1d5c"/>
<circle cx="132.19" cy="568.56" r="0.95" fill="#3b1d5c"/>
<polyline points="97.40,520.30 97.40,492.80 120.30,492.80 120.30,541.80" fill="none" stroke="#2a2a2a" stroke-width="0.85"/>
<text x="108.85" y="490.90" font-size="6.8" text-anchor="middle" textLength="6.20" lengthAdjust="spacingAndGlyphs">ns</text>
<polyline points="122.40,541.80 122.40,492.80 133.50,492.80 133.50,496.70" fill="none" stroke="#2a2a2a" stroke-width="0.85"/>
<text x="127.95" y="490.90" font-size="6.8" text-anchor="middle" textLength="6.20" lengthAdjust="spacingAndGlyphs">ns</text>
<text x="54.50" y="530.50" font-size="7.8" text-anchor="middle" textLength="59.00" lengthAdjust="spacingAndGlyphs" transform="rotate(-90 54.50 530.50)">Liver <tspan font-style="italic">Hamp1</tspan> mRNA</text>
<text x="65.30" y="530.70" font-size="7.8" text-anchor="middle" textLength="25.90" lengthAdjust="spacingAndGlyphs" transform="rotate(-90 65.30 530.70)">(vs <tspan font-style="italic">Hprt</tspan>)</text>
<text x="97.90" y="582.00" font-size="7.4" text-anchor="end" transform="rotate(-45 97.90 582.00)">Control + anti-IgG</text>
<text x="110.00" y="582.00" font-size="7.4" text-anchor="end" transform="rotate(-45 110.00 582.00)">Control + anti-IL6</text>
<text x="121.90" y="582.00" font-size="7.4" text-anchor="end" transform="rotate(-45 121.90 582.00)">PV + anti-IgG</text>
<text x="134.00" y="582.00" font-size="7.4" text-anchor="end" transform="rotate(-45 134.00 582.00)">PV + anti-IL6</text>
<text x="184.60" y="489.00" font-size="12" fill="#111" font-weight="bold" style="stroke:#111;stroke-width:0.55px">I</text>
<text x="224.80" y="574.00" font-size="6.8" text-anchor="end">0.0</text>
<text x="224.80" y="554.38" font-size="6.8" text-anchor="end">0.5</text>
<text x="224.80" y="534.75" font-size="6.8" text-anchor="end">1.0</text>
<text x="224.80" y="515.12" font-size="6.8" text-anchor="end">1.5</text>
<text x="224.80" y="495.50" font-size="6.8" text-anchor="end">2.0</text>
<rect x="235.10" y="532.55" width="6.20" height="39.25" fill="#6a7fb5"/>
<rect x="245.60" y="538.83" width="6.30" height="32.97" fill="#e0705f"/>
<rect x="263.30" y="532.55" width="6.20" height="39.25" fill="#6a7fb5"/>
<rect x="273.60" y="521.36" width="6.30" height="50.44" fill="#e0705f"/>
<line x1="235.40" y1="532.55" x2="241.00" y2="532.55" stroke="#243f80" stroke-width="1.3"/>
<line x1="263.60" y1="532.55" x2="269.20" y2="532.55" stroke="#243f80" stroke-width="1.3"/>
<line x1="248.75" y1="530.98" x2="248.75" y2="541.18" stroke="#c8142c" stroke-width="0.9"/>
<line x1="247.25" y1="530.98" x2="250.25" y2="530.98" stroke="#c8142c" stroke-width="0.9"/>
<circle cx="248.75" cy="531.37" r="1.0" fill="#c8142c"/>
<circle cx="247.00" cy="539.22" r="1.0" fill="#c8142c"/>
<circle cx="250.50" cy="539.22" r="1.0" fill="#c8142c"/>
<circle cx="248.75" cy="540.40" r="1.0" fill="#c8142c"/>
<line x1="276.75" y1="512.92" x2="276.75" y2="530.19" stroke="#c8142c" stroke-width="0.9"/>
<line x1="274.50" y1="512.92" x2="279.00" y2="512.92" stroke="#c8142c" stroke-width="0.9"/>
<line x1="274.50" y1="530.19" x2="279.00" y2="530.19" stroke="#c8142c" stroke-width="0.9"/>
<circle cx="275.00" cy="514.10" r="1.0" fill="#c8142c"/>
<circle cx="278.50" cy="514.10" r="1.0" fill="#c8142c"/>
<circle cx="276.75" cy="520.77" r="1.0" fill="#c8142c"/>
<circle cx="276.75" cy="528.62" r="1.0" fill="#c8142c"/>
<polyline points="238.20,527.40 238.20,503.60 248.50,503.60 248.50,528.00" fill="none" stroke="#2a2a2a" stroke-width="0.85"/>
<text x="243.35" y="501.70" font-size="6.8" text-anchor="middle" textLength="6.20" lengthAdjust="spacingAndGlyphs">ns</text>
<polyline points="266.40,527.40 266.40,503.60 276.50,503.60 276.50,509.20" fill="none" stroke="#2a2a2a" stroke-width="0.85"/>
<text x="271.45" y="503.20" font-size="7.4" text-anchor="middle" font-weight="bold" textLength="5.80" lengthAdjust="spacingAndGlyphs">**</text>
<text x="210.40" y="531.00" font-size="7.8" text-anchor="middle" textLength="54.20" lengthAdjust="spacingAndGlyphs" transform="rotate(-90 210.40 531.00)">mRNA abundance</text>
<text x="244.10" y="582.10" font-size="7.4" text-anchor="end" transform="rotate(-45 244.10 582.10)">SMAD7</text>
<text x="271.80" y="582.10" font-size="7.4" text-anchor="end" transform="rotate(-45 271.80 582.10)">FGA</text>
<circle cx="288.2" cy="496.8" r="1" fill="#243f80"/>
<circle cx="288.2" cy="506.9" r="1" fill="#c8142c"/>
<text x="292.90" y="499.40" font-size="7.2" textLength="8.70" lengthAdjust="spacingAndGlyphs">HC</text>
<text x="292.90" y="509.50" font-size="7.2" textLength="7.60" lengthAdjust="spacingAndGlyphs">PV</text>
<text x="318.60" y="488.80" font-size="12" fill="#111" font-weight="bold" style="stroke:#111;stroke-width:0.55px">J</text>
<text x="361.10" y="574.00" font-size="6.8" text-anchor="end">0</text>
<text x="361.10" y="558.30" font-size="6.8" text-anchor="end">1</text>
<text x="361.10" y="542.60" font-size="6.8" text-anchor="end">2</text>
<text x="361.10" y="526.90" font-size="6.8" text-anchor="end">3</text>
<text x="361.10" y="511.20" font-size="6.8" text-anchor="end">4</text>
<text x="361.10" y="495.50" font-size="6.8" text-anchor="end">5</text>
<line x1="368.50" y1="556.10" x2="486.30" y2="556.10" stroke="#c0392b" stroke-width="0.8" stroke-dasharray="1,1.2"/>
<rect x="372.85" y="505.23" width="7.90" height="66.57" fill="#6a7fb5"/>
<line x1="376.80" y1="498.48" x2="376.80" y2="509.31" stroke="#243f80" stroke-width="0.9"/>
<line x1="374.70" y1="498.48" x2="378.90" y2="498.48" stroke="#243f80" stroke-width="0.9"/>
<line x1="374.70" y1="509.31" x2="378.90" y2="509.31" stroke="#243f80" stroke-width="0.9"/>
<circle cx="374.60" cy="507.43" r="1.25" fill="#243f80"/>
<circle cx="376.80" cy="505.86" r="1.25" fill="#243f80"/>
<circle cx="379.00" cy="502.72" r="1.25" fill="#243f80"/>
<rect x="387.05" y="529.10" width="7.90" height="42.70" fill="#6a7fb5"/>
<line x1="391.00" y1="520.15" x2="391.00" y2="536.47" stroke="#243f80" stroke-width="0.9"/>
<line x1="388.90" y1="520.15" x2="393.10" y2="520.15" stroke="#243f80" stroke-width="0.9"/>
<line x1="388.90" y1="536.47" x2="393.10" y2="536.47" stroke="#243f80" stroke-width="0.9"/>
<circle cx="388.80" cy="535.69" r="1.25" fill="#243f80"/>
<circle cx="391.00" cy="528.62" r="1.25" fill="#243f80"/>
<circle cx="393.20" cy="521.56" r="1.25" fill="#243f80"/>
<rect x="401.25" y="534.75" width="7.90" height="37.05" fill="#6a7fb5"/>
<line x1="405.20" y1="519.20" x2="405.20" y2="548.25" stroke="#243f80" stroke-width="0.9"/>
<line x1="403.10" y1="519.20" x2="407.30" y2="519.20" stroke="#243f80" stroke-width="0.9"/>
<line x1="403.10" y1="548.25" x2="407.30" y2="548.25" stroke="#243f80" stroke-width="0.9"/>
<circle cx="403.00" cy="549.82" r="1.25" fill="#243f80"/>
<circle cx="405.20" cy="530.98" r="1.25" fill="#243f80"/>
<circle cx="407.40" cy="521.56" r="1.25" fill="#243f80"/>
<rect x="415.45" y="541.81" width="7.90" height="29.99" fill="#6a7fb5"/>
<line x1="419.40" y1="537.26" x2="419.40" y2="543.23" stroke="#243f80" stroke-width="0.9"/>
<line x1="417.30" y1="537.26" x2="421.50" y2="537.26" stroke="#243f80" stroke-width="0.9"/>
<line x1="417.30" y1="543.23" x2="421.50" y2="543.23" stroke="#243f80" stroke-width="0.9"/>
<circle cx="417.20" cy="542.75" r="1.25" fill="#243f80"/>
<circle cx="419.40" cy="541.97" r="1.25" fill="#243f80"/>
<circle cx="421.60" cy="541.18" r="1.25" fill="#243f80"/>
<rect x="429.65" y="558.14" width="7.90" height="13.66" fill="#6a7fb5"/>
<line x1="433.60" y1="552.17" x2="433.60" y2="560.34" stroke="#243f80" stroke-width="0.9"/>
<line x1="431.50" y1="552.17" x2="435.70" y2="552.17" stroke="#243f80" stroke-width="0.9"/>
<line x1="431.50" y1="560.34" x2="435.70" y2="560.34" stroke="#243f80" stroke-width="0.9"/>
<circle cx="431.40" cy="560.02" r="1.25" fill="#243f80"/>
<circle cx="433.60" cy="556.88" r="1.25" fill="#243f80"/>
<circle cx="435.80" cy="557.67" r="1.25" fill="#243f80"/>
<rect x="443.85" y="555.00" width="7.90" height="16.80" fill="#6a7fb5"/>
<line x1="447.80" y1="548.25" x2="447.80" y2="560.81" stroke="#243f80" stroke-width="0.9"/>
<line x1="445.70" y1="548.25" x2="449.90" y2="548.25" stroke="#243f80" stroke-width="0.9"/>
<line x1="445.70" y1="560.81" x2="449.90" y2="560.81" stroke="#243f80" stroke-width="0.9"/>
<circle cx="445.60" cy="560.02" r="1.25" fill="#243f80"/>
<circle cx="447.80" cy="554.53" r="1.25" fill="#243f80"/>
<circle cx="450.00" cy="550.60" r="1.25" fill="#243f80"/>
<rect x="458.05" y="555.47" width="7.90" height="16.33" fill="#6a7fb5"/>
<line x1="462.00" y1="552.17" x2="462.00" y2="556.88" stroke="#243f80" stroke-width="0.9"/>
<line x1="459.90" y1="552.17" x2="464.10" y2="552.17" stroke="#243f80" stroke-width="0.9"/>
<line x1="459.90" y1="556.88" x2="464.10" y2="556.88" stroke="#243f80" stroke-width="0.9"/>
<circle cx="459.80" cy="556.10" r="1.25" fill="#243f80"/>
<circle cx="462.00" cy="555.31" r="1.25" fill="#243f80"/>
<circle cx="464.20" cy="556.10" r="1.25" fill="#243f80"/>
<rect x="472.25" y="565.36" width="7.90" height="6.44" fill="#6a7fb5"/>
<line x1="476.20" y1="562.38" x2="476.20" y2="567.09" stroke="#243f80" stroke-width="0.9"/>
<line x1="474.10" y1="562.38" x2="478.30" y2="562.38" stroke="#243f80" stroke-width="0.9"/>
<line x1="474.10" y1="567.09" x2="478.30" y2="567.09" stroke="#243f80" stroke-width="0.9"/>
<circle cx="474.00" cy="567.09" r="1.25" fill="#243f80"/>
<circle cx="476.20" cy="563.95" r="1.25" fill="#243f80"/>
<circle cx="478.40" cy="563.16" r="1.25" fill="#243f80"/>
<text x="341.60" y="530.70" font-size="7.8" text-anchor="middle" textLength="40.00" lengthAdjust="spacingAndGlyphs" transform="rotate(-90 341.60 530.70)"><tspan font-style="italic">HAMP</tspan> mRNA</text>
<text x="351.20" y="531.00" font-size="7.8" text-anchor="middle" textLength="56.70" lengthAdjust="spacingAndGlyphs" transform="rotate(-90 351.20 531.00)">(FC from 10% FBS)</text>
<text x="377.30" y="582.10" font-size="7.4" text-anchor="end" transform="rotate(-45 377.30 582.10)">IL6</text>
<text x="391.50" y="582.10" font-size="7.4" text-anchor="end" transform="rotate(-45 391.50 582.10)">OSM</text>
<text x="405.70" y="582.10" font-size="7.4" text-anchor="end" transform="rotate(-45 405.70 582.10)">LIF</text>
<text x="419.90" y="582.10" font-size="7.4" text-anchor="end" transform="rotate(-45 419.90 582.10)">IL11</text>
<text x="434.10" y="582.10" font-size="7.4" text-anchor="end" transform="rotate(-45 434.10 582.10)">IL27</text>
<text x="448.30" y="582.10" font-size="7.4" text-anchor="end" transform="rotate(-45 448.30 582.10)">CT-1</text>
<text x="462.50" y="582.10" font-size="7.4" text-anchor="end" transform="rotate(-45 462.50 582.10)">CNTF</text>
<text x="476.70" y="582.10" font-size="7.4" text-anchor="end" transform="rotate(-45 476.70 582.10)">CLCF1</text>
<text x="125.90" y="647.50" font-size="12" fill="#111" font-weight="bold" style="stroke:#111;stroke-width:0.55px">K</text>
<text x="176.00" y="728.20" font-size="6.8" text-anchor="end">1</text>
<text x="176.00" y="701.97" font-size="6.8" text-anchor="end">10</text>
<text x="176.00" y="675.74" font-size="6.8" text-anchor="end">100</text>
<text x="176.00" y="649.51" font-size="6.8" text-anchor="end">1000</text>
<rect x="187.90" y="700.12" width="10.90" height="25.88" fill="#6a7fb5"/>
<line x1="193.40" y1="698.48" x2="193.40" y2="702.03" stroke="#243f80" stroke-width="0.9"/>
<line x1="190.80" y1="698.48" x2="196.00" y2="698.48" stroke="#243f80" stroke-width="0.9"/>
<line x1="190.80" y1="702.03" x2="196.00" y2="702.03" stroke="#243f80" stroke-width="0.9"/>
<circle cx="188.70" cy="698.30" r="1.35" fill="#243f80"/>
<circle cx="197.70" cy="700.60" r="1.35" fill="#243f80"/>
<circle cx="188.70" cy="703.20" r="1.35" fill="#243f80"/>
<rect x="206.00" y="675.66" width="10.90" height="50.34" fill="#6a7fb5"/>
<line x1="211.50" y1="670.12" x2="211.50" y2="682.14" stroke="#243f80" stroke-width="0.9"/>
<line x1="208.90" y1="670.12" x2="214.10" y2="670.12" stroke="#243f80" stroke-width="0.9"/>
<line x1="208.90" y1="682.14" x2="214.10" y2="682.14" stroke="#243f80" stroke-width="0.9"/>
<circle cx="207.50" cy="677.50" r="1.35" fill="#243f80"/>
<circle cx="216.00" cy="676.50" r="1.35" fill="#243f80"/>
<circle cx="211.50" cy="669.80" r="1.35" fill="#243f80"/>
<rect x="224.20" y="696.78" width="10.90" height="29.22" fill="#6a7fb5"/>
<line x1="229.70" y1="692.16" x2="229.70" y2="701.89" stroke="#243f80" stroke-width="0.9"/>
<line x1="227.10" y1="692.16" x2="232.30" y2="692.16" stroke="#243f80" stroke-width="0.9"/>
<line x1="227.10" y1="701.89" x2="232.30" y2="701.89" stroke="#243f80" stroke-width="0.9"/>
<circle cx="229.70" cy="691.50" r="1.35" fill="#243f80"/>
<circle cx="229.70" cy="697.00" r="1.35" fill="#243f80"/>
<circle cx="229.70" cy="701.50" r="1.35" fill="#243f80"/>
<rect x="242.40" y="712.40" width="10.90" height="13.60" fill="#6a7fb5"/>
<line x1="247.90" y1="708.62" x2="247.90" y2="717.02" stroke="#243f80" stroke-width="0.9"/>
<line x1="245.30" y1="708.62" x2="250.50" y2="708.62" stroke="#243f80" stroke-width="0.9"/>
<line x1="245.30" y1="717.02" x2="250.50" y2="717.02" stroke="#243f80" stroke-width="0.9"/>
<circle cx="243.80" cy="709.40" r="1.35" fill="#243f80"/>
<circle cx="252.30" cy="710.50" r="1.35" fill="#243f80"/>
<circle cx="247.90" cy="714.00" r="1.35" fill="#243f80"/>
<text x="143.90" y="684.70" font-size="7.8" text-anchor="middle" textLength="39.80" lengthAdjust="spacingAndGlyphs" transform="rotate(-90 143.90 684.70)"><tspan font-style="italic">HAMP</tspan> mRNA</text>
<text x="152.90" y="685.00" font-size="7.8" text-anchor="middle" textLength="57.00" lengthAdjust="spacingAndGlyphs" transform="rotate(-90 152.90 685.00)">(FC from 10% FBS)</text>
<text x="193.90" y="736.30" font-size="7.4" text-anchor="end" transform="rotate(-45 193.90 736.30)">IL6</text>
<text x="212.00" y="736.30" font-size="7.4" text-anchor="end" transform="rotate(-45 212.00 736.30)">OSM</text>
<text x="230.20" y="736.30" font-size="7.4" text-anchor="end" transform="rotate(-45 230.20 736.30)">LIF</text>
<text x="248.40" y="736.30" font-size="7.4" text-anchor="end" transform="rotate(-45 248.40 736.30)">IL11</text>
<text x="276.70" y="647.90" font-size="12" fill="#111" font-weight="bold" style="stroke:#111;stroke-width:0.55px">L</text>
<text x="316.40" y="728.40" font-size="6.8" text-anchor="end">0.0</text>
<text x="316.40" y="712.65" font-size="6.8" text-anchor="end">0.5</text>
<text x="316.40" y="696.90" font-size="6.8" text-anchor="end">1.0</text>
<text x="316.40" y="681.15" font-size="6.8" text-anchor="end">1.5</text>
<text x="316.40" y="665.40" font-size="6.8" text-anchor="end">2.0</text>
<text x="316.40" y="649.65" font-size="6.8" text-anchor="end">2.5</text>
<rect x="327.00" y="694.70" width="6.20" height="31.50" fill="#6a7fb5"/>
<rect x="337.30" y="683.05" width="6.20" height="43.15" fill="#e0705f"/>
<rect x="354.70" y="713.60" width="6.10" height="12.60" fill="#6a7fb5"/>
<rect x="365.00" y="708.56" width="6.20" height="17.64" fill="#e0705f"/>
<line x1="327.30" y1="694.70" x2="332.90" y2="694.70" stroke="#243f80" stroke-width="1.3"/>
<line x1="340.40" y1="670.45" x2="340.40" y2="694.70" stroke="#c8142c" stroke-width="0.9"/>
<line x1="338.40" y1="670.45" x2="342.40" y2="670.45" stroke="#c8142c" stroke-width="0.9"/>
<line x1="338.40" y1="694.70" x2="342.40" y2="694.70" stroke="#c8142c" stroke-width="0.9"/>
<circle cx="340.10" cy="665.40" r="1.0" fill="#c8142c"/>
<circle cx="340.40" cy="683.00" r="1.0" fill="#c8142c"/>
<circle cx="340.40" cy="693.00" r="1.0" fill="#c8142c"/>
<line x1="357.75" y1="706.36" x2="357.75" y2="718.64" stroke="#243f80" stroke-width="0.9"/>
<line x1="355.75" y1="706.36" x2="359.75" y2="706.36" stroke="#243f80" stroke-width="0.9"/>
<line x1="355.75" y1="718.64" x2="359.75" y2="718.64" stroke="#243f80" stroke-width="0.9"/>
<circle cx="357.75" cy="706.50" r="1.0" fill="#243f80"/>
<circle cx="356.00" cy="716.50" r="1.0" fill="#243f80"/>
<circle cx="359.80" cy="714.00" r="1.0" fill="#243f80"/>
<line x1="368.10" y1="703.21" x2="368.10" y2="712.66" stroke="#c8142c" stroke-width="0.9"/>
<line x1="366.10" y1="703.21" x2="370.10" y2="703.21" stroke="#c8142c" stroke-width="0.9"/>
<line x1="366.10" y1="712.66" x2="370.10" y2="712.66" stroke="#c8142c" stroke-width="0.9"/>
<circle cx="368.10" cy="703.50" r="1.0" fill="#c8142c"/>
<circle cx="366.30" cy="709.50" r="1.0" fill="#c8142c"/>
<circle cx="369.90" cy="711.50" r="1.0" fill="#c8142c"/>
<polyline points="329.60,691.50 329.60,655.80 340.40,655.80 340.40,660.00" fill="none" stroke="#2a2a2a" stroke-width="0.85"/>
<text x="335.00" y="655.40" font-size="7.4" text-anchor="middle" font-weight="bold" textLength="2.90" lengthAdjust="spacingAndGlyphs">*</text>
<polyline points="357.80,703.80 357.80,655.80 368.40,655.80 368.40,699.20" fill="none" stroke="#2a2a2a" stroke-width="0.85"/>
<text x="363.10" y="653.90" font-size="6.8" text-anchor="middle" textLength="6.20" lengthAdjust="spacingAndGlyphs">ns</text>
<circle cx="380.4" cy="651.1" r="1" fill="#243f80"/>
<circle cx="380.4" cy="660.8" r="1" fill="#c8142c"/>
<text x="384.20" y="653.70" font-size="7.2" textLength="9.30" lengthAdjust="spacingAndGlyphs">HC</text>
<text x="384.20" y="663.40" font-size="7.2" textLength="7.80" lengthAdjust="spacingAndGlyphs">PV</text>
<text x="335.00" y="743.60" font-size="7.4" text-anchor="middle" textLength="22.00" lengthAdjust="spacingAndGlyphs">Vehicle</text>
<text x="362.10" y="738.80" font-size="7.4" text-anchor="middle" textLength="11.60" lengthAdjust="spacingAndGlyphs">anti-</text>
<text x="363.00" y="747.50" font-size="7.4" text-anchor="middle" textLength="21.40" lengthAdjust="spacingAndGlyphs">GP130</text>
<text x="290.50" y="684.00" font-size="7.8" text-anchor="middle" textLength="50.50" lengthAdjust="spacingAndGlyphs" transform="rotate(-90 290.50 684.00)">HAMP expression</text>
<text x="301.50" y="684.70" font-size="7.8" text-anchor="middle" textLength="58.30" lengthAdjust="spacingAndGlyphs" transform="rotate(-90 301.50 684.70)">(FC vs HC+vehicle)</text>
<line x1="62.10" y1="332.00" x2="62.10" y2="413.90" stroke="#1e1e1e" stroke-width="1"/>
<line x1="59.10" y1="413.50" x2="62.10" y2="413.50" stroke="#1e1e1e" stroke-width="0.8"/>
<line x1="59.10" y1="393.90" x2="62.10" y2="393.90" stroke="#1e1e1e" stroke-width="0.8"/>
<line x1="59.10" y1="374.30" x2="62.10" y2="374.30" stroke="#1e1e1e" stroke-width="0.8"/>
<line x1="59.10" y1="354.70" x2="62.10" y2="354.70" stroke="#1e1e1e" stroke-width="0.8"/>
<line x1="59.10" y1="335.10" x2="62.10" y2="335.10" stroke="#1e1e1e" stroke-width="0.8"/>
<line x1="61.60" y1="413.50" x2="113.80" y2="413.50" stroke="#1e1e1e" stroke-width="1"/>
<line x1="76.90" y1="413.50" x2="76.90" y2="416.00" stroke="#1e1e1e" stroke-width="0.8"/>
<line x1="99.20" y1="413.50" x2="99.20" y2="416.00" stroke="#1e1e1e" stroke-width="0.8"/>
<line x1="202.90" y1="332.50" x2="202.90" y2="414.00" stroke="#1e1e1e" stroke-width="1"/>
<line x1="199.90" y1="413.60" x2="202.90" y2="413.60" stroke="#1e1e1e" stroke-width="0.8"/>
<line x1="199.90" y1="393.88" x2="202.90" y2="393.88" stroke="#1e1e1e" stroke-width="0.8"/>
<line x1="199.90" y1="374.15" x2="202.90" y2="374.15" stroke="#1e1e1e" stroke-width="0.8"/>
<line x1="199.90" y1="354.43" x2="202.90" y2="354.43" stroke="#1e1e1e" stroke-width="0.8"/>
<line x1="199.90" y1="334.70" x2="202.90" y2="334.70" stroke="#1e1e1e" stroke-width="0.8"/>
<line x1="202.40" y1="413.60" x2="255.60" y2="413.60" stroke="#1e1e1e" stroke-width="1"/>
<line x1="218.30" y1="413.60" x2="218.30" y2="416.10" stroke="#1e1e1e" stroke-width="0.8"/>
<line x1="240.60" y1="413.60" x2="240.60" y2="416.10" stroke="#1e1e1e" stroke-width="0.8"/>
<line x1="339.70" y1="332.00" x2="339.70" y2="414.00" stroke="#1e1e1e" stroke-width="1"/>
<line x1="336.70" y1="413.60" x2="339.70" y2="413.60" stroke="#1e1e1e" stroke-width="0.8"/>
<line x1="336.70" y1="397.86" x2="339.70" y2="397.86" stroke="#1e1e1e" stroke-width="0.8"/>
<line x1="336.70" y1="382.12" x2="339.70" y2="382.12" stroke="#1e1e1e" stroke-width="0.8"/>
<line x1="336.70" y1="366.38" x2="339.70" y2="366.38" stroke="#1e1e1e" stroke-width="0.8"/>
<line x1="336.70" y1="350.64" x2="339.70" y2="350.64" stroke="#1e1e1e" stroke-width="0.8"/>
<line x1="336.70" y1="334.90" x2="339.70" y2="334.90" stroke="#1e1e1e" stroke-width="0.8"/>
<line x1="339.20" y1="413.60" x2="391.80" y2="413.60" stroke="#1e1e1e" stroke-width="1"/>
<line x1="347.40" y1="413.60" x2="347.40" y2="416.10" stroke="#1e1e1e" stroke-width="0.8"/>
<line x1="359.40" y1="413.60" x2="359.40" y2="416.10" stroke="#1e1e1e" stroke-width="0.8"/>
<line x1="371.70" y1="413.60" x2="371.70" y2="416.10" stroke="#1e1e1e" stroke-width="0.8"/>
<line x1="383.60" y1="413.60" x2="383.60" y2="416.10" stroke="#1e1e1e" stroke-width="0.8"/>
<line x1="460.00" y1="332.00" x2="460.00" y2="414.00" stroke="#1e1e1e" stroke-width="1"/>
<line x1="457.00" y1="413.60" x2="460.00" y2="413.60" stroke="#1e1e1e" stroke-width="0.8"/>
<line x1="457.00" y1="397.86" x2="460.00" y2="397.86" stroke="#1e1e1e" stroke-width="0.8"/>
<line x1="457.00" y1="382.12" x2="460.00" y2="382.12" stroke="#1e1e1e" stroke-width="0.8"/>
<line x1="457.00" y1="366.38" x2="460.00" y2="366.38" stroke="#1e1e1e" stroke-width="0.8"/>
<line x1="457.00" y1="350.64" x2="460.00" y2="350.64" stroke="#1e1e1e" stroke-width="0.8"/>
<line x1="457.00" y1="334.90" x2="460.00" y2="334.90" stroke="#1e1e1e" stroke-width="0.8"/>
<line x1="459.50" y1="413.60" x2="511.80" y2="413.60" stroke="#1e1e1e" stroke-width="1"/>
<line x1="468.10" y1="413.60" x2="468.10" y2="416.10" stroke="#1e1e1e" stroke-width="0.8"/>
<line x1="479.90" y1="413.60" x2="479.90" y2="416.10" stroke="#1e1e1e" stroke-width="0.8"/>
<line x1="492.30" y1="413.60" x2="492.30" y2="416.10" stroke="#1e1e1e" stroke-width="0.8"/>
<line x1="504.20" y1="413.60" x2="504.20" y2="416.10" stroke="#1e1e1e" stroke-width="0.8"/>
<line x1="89.40" y1="490.40" x2="89.40" y2="572.10" stroke="#1e1e1e" stroke-width="1"/>
<line x1="86.40" y1="571.70" x2="89.40" y2="571.70" stroke="#1e1e1e" stroke-width="0.8"/>
<line x1="86.40" y1="556.01" x2="89.40" y2="556.01" stroke="#1e1e1e" stroke-width="0.8"/>
<line x1="86.40" y1="540.32" x2="89.40" y2="540.32" stroke="#1e1e1e" stroke-width="0.8"/>
<line x1="86.40" y1="524.63" x2="89.40" y2="524.63" stroke="#1e1e1e" stroke-width="0.8"/>
<line x1="86.40" y1="508.94" x2="89.40" y2="508.94" stroke="#1e1e1e" stroke-width="0.8"/>
<line x1="86.40" y1="493.25" x2="89.40" y2="493.25" stroke="#1e1e1e" stroke-width="0.8"/>
<line x1="88.90" y1="571.70" x2="141.80" y2="571.70" stroke="#1e1e1e" stroke-width="1"/>
<line x1="97.40" y1="571.70" x2="97.40" y2="574.20" stroke="#1e1e1e" stroke-width="0.8"/>
<line x1="109.50" y1="571.70" x2="109.50" y2="574.20" stroke="#1e1e1e" stroke-width="0.8"/>
<line x1="121.40" y1="571.70" x2="121.40" y2="574.20" stroke="#1e1e1e" stroke-width="0.8"/>
<line x1="133.50" y1="571.70" x2="133.50" y2="574.20" stroke="#1e1e1e" stroke-width="0.8"/>
<line x1="230.80" y1="490.40" x2="230.80" y2="572.20" stroke="#1e1e1e" stroke-width="1"/>
<line x1="227.80" y1="571.80" x2="230.80" y2="571.80" stroke="#1e1e1e" stroke-width="0.8"/>
<line x1="227.80" y1="552.17" x2="230.80" y2="552.17" stroke="#1e1e1e" stroke-width="0.8"/>
<line x1="227.80" y1="532.55" x2="230.80" y2="532.55" stroke="#1e1e1e" stroke-width="0.8"/>
<line x1="227.80" y1="512.92" x2="230.80" y2="512.92" stroke="#1e1e1e" stroke-width="0.8"/>
<line x1="227.80" y1="493.30" x2="230.80" y2="493.30" stroke="#1e1e1e" stroke-width="0.8"/>
<line x1="230.30" y1="571.80" x2="283.30" y2="571.80" stroke="#1e1e1e" stroke-width="1"/>
<line x1="243.60" y1="571.80" x2="243.60" y2="574.30" stroke="#1e1e1e" stroke-width="0.8"/>
<line x1="271.30" y1="571.80" x2="271.30" y2="574.30" stroke="#1e1e1e" stroke-width="0.8"/>
<line x1="367.80" y1="490.40" x2="367.80" y2="572.20" stroke="#1e1e1e" stroke-width="1"/>
<line x1="364.80" y1="571.80" x2="367.80" y2="571.80" stroke="#1e1e1e" stroke-width="0.8"/>
<line x1="364.80" y1="556.10" x2="367.80" y2="556.10" stroke="#1e1e1e" stroke-width="0.8"/>
<line x1="364.80" y1="540.40" x2="367.80" y2="540.40" stroke="#1e1e1e" stroke-width="0.8"/>
<line x1="364.80" y1="524.70" x2="367.80" y2="524.70" stroke="#1e1e1e" stroke-width="0.8"/>
<line x1="364.80" y1="509.00" x2="367.80" y2="509.00" stroke="#1e1e1e" stroke-width="0.8"/>
<line x1="364.80" y1="493.30" x2="367.80" y2="493.30" stroke="#1e1e1e" stroke-width="0.8"/>
<line x1="367.30" y1="571.80" x2="485.40" y2="571.80" stroke="#1e1e1e" stroke-width="1"/>
<line x1="376.80" y1="571.80" x2="376.80" y2="574.30" stroke="#1e1e1e" stroke-width="0.8"/>
<line x1="391.00" y1="571.80" x2="391.00" y2="574.30" stroke="#1e1e1e" stroke-width="0.8"/>
<line x1="405.20" y1="571.80" x2="405.20" y2="574.30" stroke="#1e1e1e" stroke-width="0.8"/>
<line x1="419.40" y1="571.80" x2="419.40" y2="574.30" stroke="#1e1e1e" stroke-width="0.8"/>
<line x1="433.60" y1="571.80" x2="433.60" y2="574.30" stroke="#1e1e1e" stroke-width="0.8"/>
<line x1="447.80" y1="571.80" x2="447.80" y2="574.30" stroke="#1e1e1e" stroke-width="0.8"/>
<line x1="462.00" y1="571.80" x2="462.00" y2="574.30" stroke="#1e1e1e" stroke-width="0.8"/>
<line x1="476.20" y1="571.80" x2="476.20" y2="574.30" stroke="#1e1e1e" stroke-width="0.8"/>
<line x1="181.20" y1="645.20" x2="181.20" y2="726.40" stroke="#1e1e1e" stroke-width="1"/>
<line x1="178.20" y1="726.00" x2="181.20" y2="726.00" stroke="#1e1e1e" stroke-width="0.8"/>
<line x1="178.20" y1="699.77" x2="181.20" y2="699.77" stroke="#1e1e1e" stroke-width="0.8"/>
<line x1="178.20" y1="673.54" x2="181.20" y2="673.54" stroke="#1e1e1e" stroke-width="0.8"/>
<line x1="178.20" y1="647.31" x2="181.20" y2="647.31" stroke="#1e1e1e" stroke-width="0.8"/>
<line x1="180.70" y1="726.00" x2="258.00" y2="726.00" stroke="#1e1e1e" stroke-width="1"/>
<line x1="193.40" y1="726.00" x2="193.40" y2="728.50" stroke="#1e1e1e" stroke-width="0.8"/>
<line x1="211.50" y1="726.00" x2="211.50" y2="728.50" stroke="#1e1e1e" stroke-width="0.8"/>
<line x1="229.70" y1="726.00" x2="229.70" y2="728.50" stroke="#1e1e1e" stroke-width="0.8"/>
<line x1="247.90" y1="726.00" x2="247.90" y2="728.50" stroke="#1e1e1e" stroke-width="0.8"/>
<line x1="322.70" y1="645.40" x2="322.70" y2="726.60" stroke="#1e1e1e" stroke-width="1"/>
<line x1="319.70" y1="726.20" x2="322.70" y2="726.20" stroke="#1e1e1e" stroke-width="0.8"/>
<line x1="319.70" y1="710.45" x2="322.70" y2="710.45" stroke="#1e1e1e" stroke-width="0.8"/>
<line x1="319.70" y1="694.70" x2="322.70" y2="694.70" stroke="#1e1e1e" stroke-width="0.8"/>
<line x1="319.70" y1="678.95" x2="322.70" y2="678.95" stroke="#1e1e1e" stroke-width="0.8"/>
<line x1="319.70" y1="663.20" x2="322.70" y2="663.20" stroke="#1e1e1e" stroke-width="0.8"/>
<line x1="319.70" y1="647.45" x2="322.70" y2="647.45" stroke="#1e1e1e" stroke-width="0.8"/>
<line x1="322.20" y1="726.20" x2="374.20" y2="726.20" stroke="#1e1e1e" stroke-width="1"/>
<line x1="335.00" y1="726.20" x2="335.00" y2="728.70" stroke="#1e1e1e" stroke-width="0.8"/>
<line x1="363.00" y1="726.20" x2="363.00" y2="728.70" stroke="#1e1e1e" stroke-width="0.8"/>
<rect x="0.5" y="0.5" width="519" height="755" fill="none" stroke="#4d4d4d" stroke-width="1"/>
</svg>
</body></html>
